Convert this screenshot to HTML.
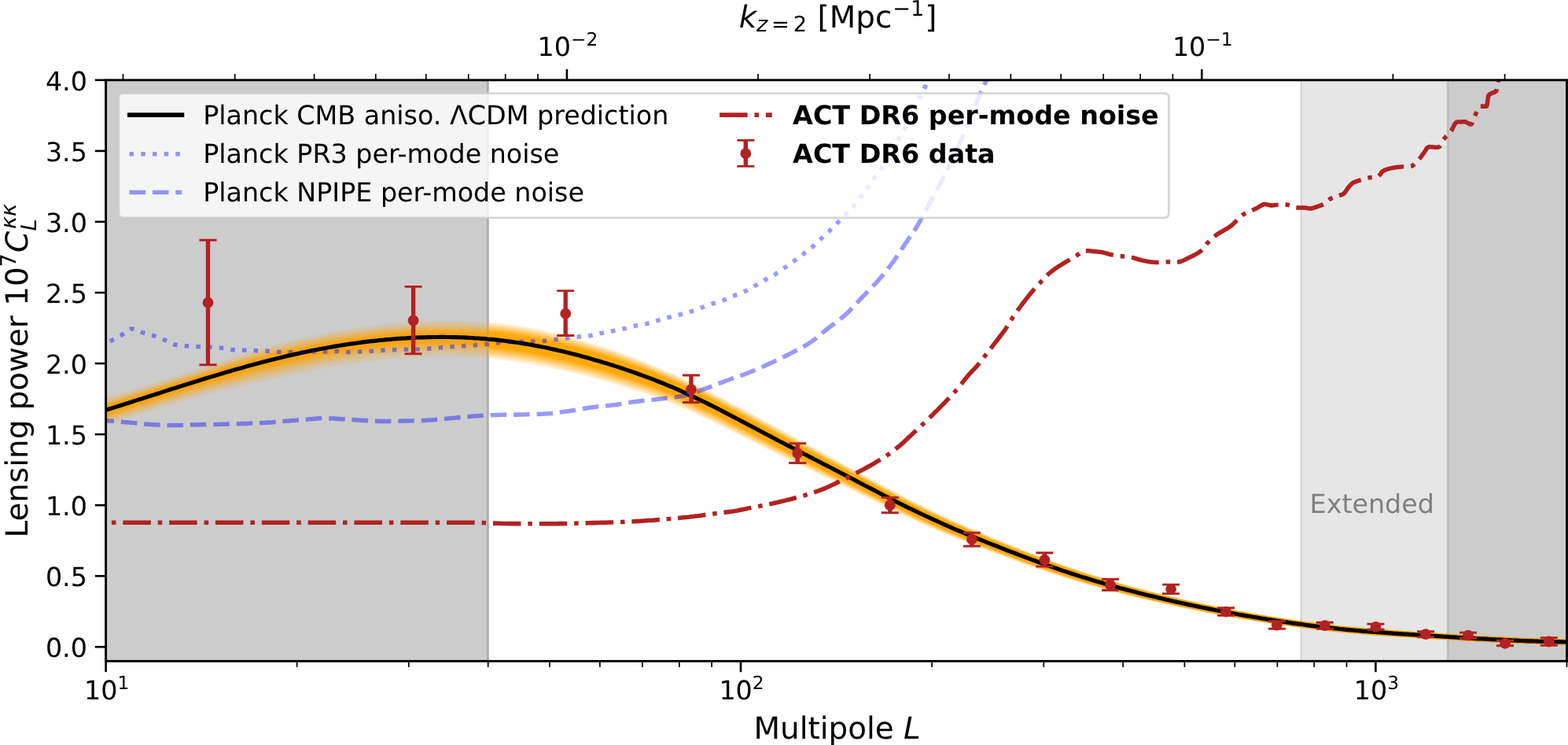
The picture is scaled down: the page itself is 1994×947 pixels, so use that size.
<!DOCTYPE html>
<html lang="en"><head><meta charset="utf-8"><title>Lensing power spectrum</title><style>html,body{margin:0;padding:0;background:#fff}body{width:1994px;height:947px;overflow:hidden}svg{display:block}</style></head><body>
<svg width="1994" height="947" viewBox="0 0 1994 947" font-family="'DejaVu Sans','Liberation Sans',sans-serif" text-rendering="geometricPrecision">
<defs><clipPath id="ax"><rect x="134.6" y="101.8" width="1857.9" height="738.6"/></clipPath></defs>
<rect width="1994" height="947" fill="#fff"/>
<g clip-path="url(#ax)">
<rect x="131.6" y="96.8" width="490.1" height="748.6" fill="#808080" fill-opacity="0.4"/>
<rect x="618.9" y="96.8" width="2.8" height="748.6" fill="#808080" fill-opacity="0.4"/>
<rect x="1653.9" y="96.8" width="187.2" height="748.6" fill="#808080" fill-opacity="0.2"/>
<rect x="1653.9" y="96.8" width="1.3" height="748.6" fill="#808080" fill-opacity="0.3"/>
<rect x="1841.0" y="96.8" width="154.5" height="748.6" fill="#808080" fill-opacity="0.4"/>
<rect x="1839.6" y="96.8" width="2.8" height="748.6" fill="#808080" fill-opacity="0.3"/>
<clipPath id="cg"><rect x="0" y="0" width="621.7" height="947"/></clipPath>
<clipPath id="cw"><rect x="621.7" y="0" width="1994" height="947"/></clipPath>
<g clip-path="url(#cg)" fill="#ffa500">
<path d="M128.0,507.3 L136.0,504.9 L144.0,502.6 L152.0,500.3 L160.0,498.0 L168.0,495.6 L176.0,493.2 L184.0,490.7 L192.0,488.3 L200.0,485.8 L208.0,483.3 L216.0,480.8 L224.0,478.3 L232.0,475.7 L240.0,473.1 L248.0,470.5 L256.0,467.8 L264.0,465.1 L272.0,462.4 L280.0,459.8 L288.0,457.1 L296.0,454.5 L304.0,451.9 L312.0,449.3 L320.0,446.8 L328.0,444.4 L336.0,442.0 L344.0,439.7 L352.0,437.5 L360.0,435.4 L368.0,433.4 L376.0,431.6 L384.0,429.8 L392.0,428.0 L400.0,426.4 L408.0,424.8 L416.0,423.2 L424.0,421.7 L432.0,420.3 L440.0,419.0 L448.0,417.7 L456.0,416.5 L464.0,415.4 L472.0,414.3 L480.0,413.3 L488.0,412.4 L496.0,411.6 L504.0,410.9 L512.0,410.2 L520.0,409.6 L528.0,409.1 L536.0,408.7 L544.0,408.3 L552.0,408.1 L560.0,408.0 L568.0,407.9 L576.0,407.9 L584.0,408.0 L592.0,408.2 L600.0,408.5 L608.0,408.9 L616.0,409.4 L624.0,410.0 L632.0,410.7 L640.0,411.6 L648.0,412.6 L656.0,413.7 L664.0,415.0 L672.0,416.3 L680.0,417.9 L688.0,419.5 L696.0,421.2 L704.0,423.1 L712.0,425.0 L720.0,427.1 L728.0,429.2 L736.0,431.4 L744.0,433.8 L752.0,436.2 L760.0,438.6 L768.0,441.2 L776.0,443.8 L784.0,446.6 L792.0,449.5 L800.0,452.4 L808.0,455.5 L816.0,458.7 L824.0,461.9 L832.0,465.2 L840.0,468.5 L848.0,471.9 L856.0,475.4 L864.0,479.0 L872.0,482.7 L880.0,486.5 L888.0,490.4 L896.0,494.4 L904.0,498.5 L912.0,502.6 L920.0,506.8 L928.0,511.0 L936.0,515.2 L944.0,519.5 L952.0,523.8 L960.0,528.2 L968.0,532.5 L976.0,536.9 L984.0,541.2 L992.0,545.6 L1000.0,549.9 L1008.0,554.3 L1016.0,558.7 L1024.0,563.1 L1032.0,567.5 L1040.0,571.8 L1048.0,576.2 L1056.0,580.6 L1064.0,585.0 L1072.0,589.4 L1080.0,593.8 L1088.0,598.1 L1096.0,602.5 L1104.0,606.9 L1112.0,611.3 L1120.0,615.6 L1128.0,619.9 L1136.0,624.1 L1144.0,628.4 L1152.0,632.5 L1160.0,636.6 L1168.0,640.6 L1176.0,644.6 L1184.0,648.4 L1192.0,652.2 L1200.0,656.0 L1208.0,659.6 L1216.0,663.3 L1224.0,666.8 L1232.0,670.3 L1240.0,673.7 L1248.0,677.1 L1256.0,680.5 L1264.0,683.8 L1272.0,687.1 L1280.0,690.4 L1288.0,693.6 L1296.0,696.8 L1304.0,699.9 L1312.0,703.1 L1320.0,706.1 L1328.0,709.2 L1336.0,712.1 L1344.0,715.1 L1352.0,717.9 L1360.0,720.7 L1368.0,723.5 L1376.0,726.1 L1384.0,728.7 L1392.0,731.3 L1400.0,733.8 L1408.0,736.2 L1416.0,738.6 L1424.0,740.9 L1432.0,743.2 L1440.0,745.4 L1448.0,747.6 L1456.0,749.7 L1464.0,751.8 L1472.0,753.8 L1480.0,755.8 L1488.0,757.7 L1496.0,759.6 L1504.0,761.5 L1512.0,763.3 L1520.0,765.0 L1528.0,766.8 L1536.0,768.5 L1544.0,770.1 L1552.0,771.7 L1560.0,773.3 L1568.0,774.8 L1576.0,776.3 L1584.0,777.8 L1592.0,779.2 L1600.0,780.6 L1608.0,781.9 L1616.0,783.3 L1624.0,784.5 L1632.0,785.8 L1640.0,787.0 L1648.0,788.2 L1656.0,789.3 L1664.0,790.4 L1672.0,791.4 L1680.0,792.4 L1688.0,793.4 L1696.0,794.3 L1704.0,795.2 L1712.0,796.0 L1720.0,796.8 L1728.0,797.5 L1736.0,798.2 L1744.0,798.9 L1752.0,799.5 L1760.0,800.1 L1768.0,800.7 L1776.0,801.3 L1784.0,801.8 L1792.0,802.3 L1800.0,802.9 L1808.0,803.4 L1816.0,804.0 L1824.0,804.5 L1832.0,805.0 L1840.0,805.5 L1848.0,806.0 L1856.0,806.5 L1864.0,807.0 L1872.0,807.5 L1880.0,808.0 L1888.0,808.4 L1896.0,808.8 L1904.0,809.2 L1912.0,809.6 L1920.0,810.0 L1928.0,810.4 L1936.0,810.7 L1944.0,811.0 L1952.0,811.3 L1960.0,811.6 L1968.0,811.8 L1976.0,812.0 L1984.0,812.2 L1992.0,812.4 L1992.0,819.8 L1984.0,819.6 L1976.0,819.4 L1968.0,819.2 L1960.0,819.0 L1952.0,818.8 L1944.0,818.5 L1936.0,818.2 L1928.0,817.9 L1920.0,817.5 L1912.0,817.2 L1904.0,816.8 L1896.0,816.4 L1888.0,816.0 L1880.0,815.6 L1872.0,815.2 L1864.0,814.8 L1856.0,814.3 L1848.0,813.9 L1840.0,813.4 L1832.0,812.9 L1824.0,812.5 L1816.0,812.0 L1808.0,811.5 L1800.0,811.0 L1792.0,810.5 L1784.0,810.0 L1776.0,809.5 L1768.0,809.0 L1760.0,808.5 L1752.0,807.9 L1744.0,807.4 L1736.0,806.8 L1728.0,806.1 L1720.0,805.5 L1712.0,804.7 L1704.0,804.0 L1696.0,803.1 L1688.0,802.3 L1680.0,801.4 L1672.0,800.4 L1664.0,799.5 L1656.0,798.5 L1648.0,797.4 L1640.0,796.3 L1632.0,795.2 L1624.0,794.0 L1616.0,792.9 L1608.0,791.6 L1600.0,790.4 L1592.0,789.1 L1584.0,787.8 L1576.0,786.4 L1568.0,785.1 L1560.0,783.6 L1552.0,782.2 L1544.0,780.7 L1536.0,779.2 L1528.0,777.6 L1520.0,776.1 L1512.0,774.4 L1504.0,772.8 L1496.0,771.1 L1488.0,769.4 L1480.0,767.7 L1472.0,765.9 L1464.0,764.1 L1456.0,762.2 L1448.0,760.4 L1440.0,758.4 L1432.0,756.5 L1424.0,754.5 L1416.0,752.4 L1408.0,750.3 L1400.0,748.2 L1392.0,745.9 L1384.0,743.7 L1376.0,741.3 L1368.0,739.0 L1360.0,736.5 L1352.0,734.0 L1344.0,731.4 L1336.0,728.8 L1328.0,726.1 L1320.0,723.3 L1312.0,720.5 L1304.0,717.7 L1296.0,714.8 L1288.0,711.9 L1280.0,709.0 L1272.0,706.1 L1264.0,703.1 L1256.0,700.1 L1248.0,697.0 L1240.0,694.0 L1232.0,690.8 L1224.0,687.7 L1216.0,684.4 L1208.0,681.2 L1200.0,677.8 L1192.0,674.4 L1184.0,671.0 L1176.0,667.4 L1168.0,663.8 L1160.0,660.2 L1152.0,656.5 L1144.0,652.7 L1136.0,648.9 L1128.0,645.0 L1120.0,641.1 L1112.0,637.1 L1104.0,633.2 L1096.0,629.2 L1088.0,625.2 L1080.0,621.3 L1072.0,617.4 L1064.0,613.6 L1056.0,609.8 L1048.0,606.0 L1040.0,602.1 L1032.0,598.3 L1024.0,594.5 L1016.0,590.7 L1008.0,586.9 L1000.0,583.0 L992.0,579.1 L984.0,575.1 L976.0,571.1 L968.0,567.1 L960.0,563.0 L952.0,559.0 L944.0,555.0 L936.0,550.9 L928.0,546.9 L920.0,542.9 L912.0,539.0 L904.0,535.1 L896.0,531.3 L888.0,527.5 L880.0,523.8 L872.0,520.3 L864.0,516.8 L856.0,513.5 L848.0,510.3 L840.0,507.2 L832.0,504.2 L824.0,501.4 L816.0,498.7 L808.0,496.1 L800.0,493.7 L792.0,491.2 L784.0,488.9 L776.0,486.5 L768.0,484.2 L760.0,482.0 L752.0,479.8 L744.0,477.7 L736.0,475.7 L728.0,473.7 L720.0,471.8 L712.0,470.0 L704.0,468.3 L696.0,466.6 L688.0,465.1 L680.0,463.6 L672.0,462.2 L664.0,460.9 L656.0,459.7 L648.0,458.6 L640.0,457.5 L632.0,456.6 L624.0,455.8 L616.0,455.1 L608.0,454.5 L600.0,454.0 L592.0,453.6 L584.0,453.3 L576.0,453.1 L568.0,453.0 L560.0,452.9 L552.0,453.0 L544.0,453.2 L536.0,453.5 L528.0,453.9 L520.0,454.4 L512.0,454.9 L504.0,455.5 L496.0,456.3 L488.0,457.1 L480.0,457.9 L472.0,458.9 L464.0,459.9 L456.0,461.0 L448.0,462.2 L440.0,463.4 L432.0,464.7 L424.0,466.1 L416.0,467.5 L408.0,469.0 L400.0,470.6 L392.0,472.2 L384.0,473.9 L376.0,475.6 L368.0,477.3 L360.0,479.1 L352.0,480.8 L344.0,482.6 L336.0,484.4 L328.0,486.1 L320.0,487.9 L312.0,489.7 L304.0,491.6 L296.0,493.5 L288.0,495.4 L280.0,497.3 L272.0,499.3 L264.0,501.3 L256.0,503.4 L248.0,505.6 L240.0,507.8 L232.0,510.1 L224.0,512.4 L216.0,514.9 L208.0,517.3 L200.0,519.8 L192.0,522.3 L184.0,524.8 L176.0,527.3 L168.0,529.8 L160.0,532.3 L152.0,534.8 L144.0,537.3 L136.0,539.8 L128.0,542.3Z" fill-opacity="0.141"/>
<path d="M128.0,509.9 L136.0,507.5 L144.0,505.2 L152.0,502.8 L160.0,500.4 L168.0,498.0 L176.0,495.6 L184.0,493.1 L192.0,490.6 L200.0,488.1 L208.0,485.6 L216.0,483.1 L224.0,480.6 L232.0,478.0 L240.0,475.4 L248.0,472.8 L256.0,470.2 L264.0,467.6 L272.0,464.9 L280.0,462.3 L288.0,459.7 L296.0,457.1 L304.0,454.6 L312.0,452.1 L320.0,449.7 L328.0,447.3 L336.0,445.0 L344.0,442.7 L352.0,440.6 L360.0,438.5 L368.0,436.5 L376.0,434.7 L384.0,432.9 L392.0,431.2 L400.0,429.5 L408.0,427.9 L416.0,426.4 L424.0,424.9 L432.0,423.5 L440.0,422.2 L448.0,420.9 L456.0,419.8 L464.0,418.7 L472.0,417.6 L480.0,416.7 L488.0,415.8 L496.0,415.0 L504.0,414.2 L512.0,413.6 L520.0,413.0 L528.0,412.5 L536.0,412.1 L544.0,411.8 L552.0,411.6 L560.0,411.5 L568.0,411.4 L576.0,411.5 L584.0,411.6 L592.0,411.8 L600.0,412.1 L608.0,412.5 L616.0,413.0 L624.0,413.7 L632.0,414.4 L640.0,415.3 L648.0,416.3 L656.0,417.4 L664.0,418.7 L672.0,420.1 L680.0,421.6 L688.0,423.2 L696.0,424.9 L704.0,426.7 L712.0,428.6 L720.0,430.6 L728.0,432.7 L736.0,434.9 L744.0,437.2 L752.0,439.6 L760.0,442.0 L768.0,444.5 L776.0,447.1 L784.0,449.9 L792.0,452.7 L800.0,455.6 L808.0,458.6 L816.0,461.7 L824.0,464.9 L832.0,468.1 L840.0,471.4 L848.0,474.8 L856.0,478.2 L864.0,481.8 L872.0,485.5 L880.0,489.3 L888.0,493.2 L896.0,497.2 L904.0,501.2 L912.0,505.3 L920.0,509.5 L928.0,513.7 L936.0,517.9 L944.0,522.2 L952.0,526.5 L960.0,530.8 L968.0,535.1 L976.0,539.4 L984.0,543.8 L992.0,548.1 L1000.0,552.4 L1008.0,556.7 L1016.0,561.1 L1024.0,565.4 L1032.0,569.7 L1040.0,574.1 L1048.0,578.4 L1056.0,582.7 L1064.0,587.1 L1072.0,591.4 L1080.0,595.7 L1088.0,600.1 L1096.0,604.4 L1104.0,608.7 L1112.0,613.1 L1120.0,617.4 L1128.0,621.6 L1136.0,625.8 L1144.0,630.0 L1152.0,634.1 L1160.0,638.2 L1168.0,642.2 L1176.0,646.1 L1184.0,649.9 L1192.0,653.7 L1200.0,657.4 L1208.0,661.0 L1216.0,664.6 L1224.0,668.1 L1232.0,671.6 L1240.0,675.0 L1248.0,678.4 L1256.0,681.7 L1264.0,685.0 L1272.0,688.2 L1280.0,691.5 L1288.0,694.7 L1296.0,697.8 L1304.0,701.0 L1312.0,704.1 L1320.0,707.1 L1328.0,710.1 L1336.0,713.1 L1344.0,715.9 L1352.0,718.8 L1360.0,721.5 L1368.0,724.3 L1376.0,726.9 L1384.0,729.5 L1392.0,732.0 L1400.0,734.5 L1408.0,736.9 L1416.0,739.2 L1424.0,741.5 L1432.0,743.8 L1440.0,746.0 L1448.0,748.1 L1456.0,750.2 L1464.0,752.3 L1472.0,754.3 L1480.0,756.2 L1488.0,758.2 L1496.0,760.0 L1504.0,761.9 L1512.0,763.7 L1520.0,765.4 L1528.0,767.1 L1536.0,768.8 L1544.0,770.4 L1552.0,772.0 L1560.0,773.6 L1568.0,775.1 L1576.0,776.6 L1584.0,778.0 L1592.0,779.5 L1600.0,780.8 L1608.0,782.2 L1616.0,783.5 L1624.0,784.8 L1632.0,786.0 L1640.0,787.2 L1648.0,788.4 L1656.0,789.5 L1664.0,790.6 L1672.0,791.6 L1680.0,792.6 L1688.0,793.6 L1696.0,794.5 L1704.0,795.3 L1712.0,796.2 L1720.0,796.9 L1728.0,797.7 L1736.0,798.4 L1744.0,799.0 L1752.0,799.6 L1760.0,800.2 L1768.0,800.8 L1776.0,801.4 L1784.0,801.9 L1792.0,802.5 L1800.0,803.0 L1808.0,803.5 L1816.0,804.1 L1824.0,804.6 L1832.0,805.1 L1840.0,805.6 L1848.0,806.1 L1856.0,806.6 L1864.0,807.1 L1872.0,807.6 L1880.0,808.0 L1888.0,808.5 L1896.0,808.9 L1904.0,809.3 L1912.0,809.7 L1920.0,810.1 L1928.0,810.4 L1936.0,810.8 L1944.0,811.1 L1952.0,811.4 L1960.0,811.6 L1968.0,811.9 L1976.0,812.1 L1984.0,812.3 L1992.0,812.4 L1992.0,819.7 L1984.0,819.6 L1976.0,819.4 L1968.0,819.2 L1960.0,819.0 L1952.0,818.7 L1944.0,818.4 L1936.0,818.1 L1928.0,817.8 L1920.0,817.5 L1912.0,817.1 L1904.0,816.8 L1896.0,816.4 L1888.0,816.0 L1880.0,815.6 L1872.0,815.1 L1864.0,814.7 L1856.0,814.2 L1848.0,813.8 L1840.0,813.3 L1832.0,812.8 L1824.0,812.3 L1816.0,811.9 L1808.0,811.4 L1800.0,810.9 L1792.0,810.4 L1784.0,809.9 L1776.0,809.4 L1768.0,808.9 L1760.0,808.3 L1752.0,807.8 L1744.0,807.2 L1736.0,806.6 L1728.0,806.0 L1720.0,805.3 L1712.0,804.5 L1704.0,803.8 L1696.0,802.9 L1688.0,802.1 L1680.0,801.2 L1672.0,800.2 L1664.0,799.2 L1656.0,798.2 L1648.0,797.1 L1640.0,796.0 L1632.0,794.9 L1624.0,793.8 L1616.0,792.6 L1608.0,791.3 L1600.0,790.1 L1592.0,788.8 L1584.0,787.4 L1576.0,786.1 L1568.0,784.7 L1560.0,783.3 L1552.0,781.8 L1544.0,780.3 L1536.0,778.8 L1528.0,777.2 L1520.0,775.6 L1512.0,774.0 L1504.0,772.3 L1496.0,770.6 L1488.0,768.9 L1480.0,767.1 L1472.0,765.3 L1464.0,763.5 L1456.0,761.6 L1448.0,759.7 L1440.0,757.7 L1432.0,755.8 L1424.0,753.7 L1416.0,751.6 L1408.0,749.5 L1400.0,747.3 L1392.0,745.1 L1384.0,742.8 L1376.0,740.4 L1368.0,738.0 L1360.0,735.5 L1352.0,733.0 L1344.0,730.4 L1336.0,727.7 L1328.0,725.0 L1320.0,722.2 L1312.0,719.4 L1304.0,716.5 L1296.0,713.6 L1288.0,710.7 L1280.0,707.7 L1272.0,704.7 L1264.0,701.7 L1256.0,698.7 L1248.0,695.6 L1240.0,692.5 L1232.0,689.3 L1224.0,686.1 L1216.0,682.8 L1208.0,679.5 L1200.0,676.2 L1192.0,672.7 L1184.0,669.2 L1176.0,665.7 L1168.0,662.0 L1160.0,658.3 L1152.0,654.6 L1144.0,650.7 L1136.0,646.9 L1128.0,643.0 L1120.0,639.0 L1112.0,635.0 L1104.0,631.0 L1096.0,627.0 L1088.0,623.0 L1080.0,619.0 L1072.0,615.1 L1064.0,611.2 L1056.0,607.3 L1048.0,603.4 L1040.0,599.5 L1032.0,595.7 L1024.0,591.8 L1016.0,587.9 L1008.0,584.0 L1000.0,580.1 L992.0,576.1 L984.0,572.1 L976.0,568.0 L968.0,564.0 L960.0,559.9 L952.0,555.8 L944.0,551.7 L936.0,547.6 L928.0,543.6 L920.0,539.6 L912.0,535.6 L904.0,531.7 L896.0,527.8 L888.0,524.0 L880.0,520.3 L872.0,516.7 L864.0,513.2 L856.0,509.9 L848.0,506.7 L840.0,503.5 L832.0,500.5 L824.0,497.7 L816.0,494.9 L808.0,492.3 L800.0,489.7 L792.0,487.3 L784.0,484.8 L776.0,482.5 L768.0,480.1 L760.0,477.9 L752.0,475.7 L744.0,473.5 L736.0,471.5 L728.0,469.5 L720.0,467.6 L712.0,465.7 L704.0,464.0 L696.0,462.3 L688.0,460.7 L680.0,459.3 L672.0,457.9 L664.0,456.5 L656.0,455.3 L648.0,454.2 L640.0,453.2 L632.0,452.3 L624.0,451.5 L616.0,450.7 L608.0,450.1 L600.0,449.6 L592.0,449.2 L584.0,448.9 L576.0,448.7 L568.0,448.6 L560.0,448.6 L552.0,448.7 L544.0,448.9 L536.0,449.1 L528.0,449.5 L520.0,449.9 L512.0,450.5 L504.0,451.1 L496.0,451.8 L488.0,452.6 L480.0,453.5 L472.0,454.4 L464.0,455.4 L456.0,456.5 L448.0,457.7 L440.0,458.9 L432.0,460.2 L424.0,461.5 L416.0,463.0 L408.0,464.5 L400.0,466.0 L392.0,467.6 L384.0,469.3 L376.0,471.0 L368.0,472.8 L360.0,474.6 L352.0,476.4 L344.0,478.2 L336.0,480.0 L328.0,481.8 L320.0,483.7 L312.0,485.6 L304.0,487.5 L296.0,489.5 L288.0,491.5 L280.0,493.5 L272.0,495.6 L264.0,497.7 L256.0,499.9 L248.0,502.1 L240.0,504.4 L232.0,506.7 L224.0,509.1 L216.0,511.5 L208.0,514.0 L200.0,516.5 L192.0,519.0 L184.0,521.5 L176.0,524.0 L168.0,526.5 L160.0,529.1 L152.0,531.6 L144.0,534.1 L136.0,536.6 L128.0,539.1Z" fill-opacity="0.141"/>
<path d="M128.0,511.6 L136.0,509.1 L144.0,506.8 L152.0,504.4 L160.0,502.0 L168.0,499.5 L176.0,497.1 L184.0,494.6 L192.0,492.1 L200.0,489.6 L208.0,487.1 L216.0,484.6 L224.0,482.1 L232.0,479.5 L240.0,476.9 L248.0,474.3 L256.0,471.7 L264.0,469.1 L272.0,466.5 L280.0,463.9 L288.0,461.4 L296.0,458.8 L304.0,456.3 L312.0,453.9 L320.0,451.5 L328.0,449.1 L336.0,446.9 L344.0,444.7 L352.0,442.5 L360.0,440.5 L368.0,438.5 L376.0,436.7 L384.0,434.9 L392.0,433.2 L400.0,431.5 L408.0,429.9 L416.0,428.4 L424.0,427.0 L432.0,425.6 L440.0,424.3 L448.0,423.0 L456.0,421.9 L464.0,420.8 L472.0,419.7 L480.0,418.8 L488.0,417.9 L496.0,417.1 L504.0,416.4 L512.0,415.8 L520.0,415.2 L528.0,414.8 L536.0,414.4 L544.0,414.1 L552.0,413.9 L560.0,413.7 L568.0,413.7 L576.0,413.8 L584.0,413.9 L592.0,414.1 L600.0,414.5 L608.0,414.9 L616.0,415.4 L624.0,416.1 L632.0,416.8 L640.0,417.7 L648.0,418.7 L656.0,419.8 L664.0,421.1 L672.0,422.4 L680.0,423.9 L688.0,425.5 L696.0,427.2 L704.0,429.0 L712.0,430.9 L720.0,432.9 L728.0,435.0 L736.0,437.2 L744.0,439.5 L752.0,441.8 L760.0,444.2 L768.0,446.7 L776.0,449.3 L784.0,452.0 L792.0,454.8 L800.0,457.7 L808.0,460.6 L816.0,463.7 L824.0,466.8 L832.0,470.0 L840.0,473.3 L848.0,476.6 L856.0,480.1 L864.0,483.6 L872.0,487.3 L880.0,491.1 L888.0,495.0 L896.0,499.0 L904.0,503.0 L912.0,507.1 L920.0,511.2 L928.0,515.4 L936.0,519.6 L944.0,523.9 L952.0,528.2 L960.0,532.5 L968.0,536.8 L976.0,541.1 L984.0,545.4 L992.0,549.7 L1000.0,554.0 L1008.0,558.3 L1016.0,562.6 L1024.0,566.9 L1032.0,571.2 L1040.0,575.5 L1048.0,579.8 L1056.0,584.1 L1064.0,588.4 L1072.0,592.7 L1080.0,597.0 L1088.0,601.3 L1096.0,605.6 L1104.0,609.9 L1112.0,614.2 L1120.0,618.5 L1128.0,622.7 L1136.0,626.9 L1144.0,631.1 L1152.0,635.2 L1160.0,639.2 L1168.0,643.2 L1176.0,647.1 L1184.0,650.9 L1192.0,654.6 L1200.0,658.3 L1208.0,661.9 L1216.0,665.5 L1224.0,669.0 L1232.0,672.4 L1240.0,675.8 L1248.0,679.2 L1256.0,682.5 L1264.0,685.7 L1272.0,689.0 L1280.0,692.2 L1288.0,695.4 L1296.0,698.5 L1304.0,701.6 L1312.0,704.7 L1320.0,707.7 L1328.0,710.7 L1336.0,713.6 L1344.0,716.5 L1352.0,719.3 L1360.0,722.1 L1368.0,724.8 L1376.0,727.4 L1384.0,730.0 L1392.0,732.5 L1400.0,734.9 L1408.0,737.3 L1416.0,739.6 L1424.0,741.9 L1432.0,744.2 L1440.0,746.3 L1448.0,748.5 L1456.0,750.6 L1464.0,752.6 L1472.0,754.6 L1480.0,756.5 L1488.0,758.4 L1496.0,760.3 L1504.0,762.1 L1512.0,763.9 L1520.0,765.6 L1528.0,767.3 L1536.0,769.0 L1544.0,770.6 L1552.0,772.2 L1560.0,773.8 L1568.0,775.3 L1576.0,776.8 L1584.0,778.2 L1592.0,779.6 L1600.0,781.0 L1608.0,782.3 L1616.0,783.6 L1624.0,784.9 L1632.0,786.1 L1640.0,787.3 L1648.0,788.5 L1656.0,789.6 L1664.0,790.7 L1672.0,791.7 L1680.0,792.7 L1688.0,793.7 L1696.0,794.6 L1704.0,795.5 L1712.0,796.3 L1720.0,797.0 L1728.0,797.8 L1736.0,798.5 L1744.0,799.1 L1752.0,799.7 L1760.0,800.3 L1768.0,800.9 L1776.0,801.5 L1784.0,802.0 L1792.0,802.5 L1800.0,803.1 L1808.0,803.6 L1816.0,804.1 L1824.0,804.6 L1832.0,805.2 L1840.0,805.7 L1848.0,806.2 L1856.0,806.7 L1864.0,807.1 L1872.0,807.6 L1880.0,808.1 L1888.0,808.5 L1896.0,808.9 L1904.0,809.3 L1912.0,809.7 L1920.0,810.1 L1928.0,810.5 L1936.0,810.8 L1944.0,811.1 L1952.0,811.4 L1960.0,811.7 L1968.0,811.9 L1976.0,812.1 L1984.0,812.3 L1992.0,812.4 L1992.0,819.7 L1984.0,819.5 L1976.0,819.4 L1968.0,819.2 L1960.0,818.9 L1952.0,818.7 L1944.0,818.4 L1936.0,818.1 L1928.0,817.8 L1920.0,817.5 L1912.0,817.1 L1904.0,816.7 L1896.0,816.3 L1888.0,815.9 L1880.0,815.5 L1872.0,815.1 L1864.0,814.6 L1856.0,814.2 L1848.0,813.7 L1840.0,813.2 L1832.0,812.8 L1824.0,812.3 L1816.0,811.8 L1808.0,811.3 L1800.0,810.8 L1792.0,810.3 L1784.0,809.8 L1776.0,809.3 L1768.0,808.8 L1760.0,808.2 L1752.0,807.7 L1744.0,807.1 L1736.0,806.5 L1728.0,805.8 L1720.0,805.1 L1712.0,804.4 L1704.0,803.6 L1696.0,802.8 L1688.0,801.9 L1680.0,801.0 L1672.0,800.1 L1664.0,799.1 L1656.0,798.0 L1648.0,797.0 L1640.0,795.9 L1632.0,794.7 L1624.0,793.6 L1616.0,792.4 L1608.0,791.1 L1600.0,789.9 L1592.0,788.5 L1584.0,787.2 L1576.0,785.8 L1568.0,784.4 L1560.0,783.0 L1552.0,781.5 L1544.0,780.0 L1536.0,778.5 L1528.0,776.9 L1520.0,775.3 L1512.0,773.6 L1504.0,772.0 L1496.0,770.3 L1488.0,768.5 L1480.0,766.7 L1472.0,764.9 L1464.0,763.1 L1456.0,761.2 L1448.0,759.3 L1440.0,757.3 L1432.0,755.3 L1424.0,753.2 L1416.0,751.1 L1408.0,749.0 L1400.0,746.8 L1392.0,744.5 L1384.0,742.2 L1376.0,739.8 L1368.0,737.4 L1360.0,734.9 L1352.0,732.3 L1344.0,729.7 L1336.0,727.0 L1328.0,724.2 L1320.0,721.4 L1312.0,718.6 L1304.0,715.7 L1296.0,712.8 L1288.0,709.9 L1280.0,706.9 L1272.0,703.9 L1264.0,700.8 L1256.0,697.8 L1248.0,694.7 L1240.0,691.5 L1232.0,688.3 L1224.0,685.1 L1216.0,681.8 L1208.0,678.5 L1200.0,675.1 L1192.0,671.6 L1184.0,668.1 L1176.0,664.5 L1168.0,660.9 L1160.0,657.1 L1152.0,653.3 L1144.0,649.5 L1136.0,645.6 L1128.0,641.7 L1120.0,637.7 L1112.0,633.7 L1104.0,629.6 L1096.0,625.6 L1088.0,621.5 L1080.0,617.5 L1072.0,613.6 L1064.0,609.6 L1056.0,605.7 L1048.0,601.8 L1040.0,597.8 L1032.0,593.9 L1024.0,590.0 L1016.0,586.1 L1008.0,582.1 L1000.0,578.2 L992.0,574.2 L984.0,570.1 L976.0,566.1 L968.0,562.0 L960.0,557.9 L952.0,553.7 L944.0,549.6 L936.0,545.5 L928.0,541.5 L920.0,537.4 L912.0,533.5 L904.0,529.5 L896.0,525.6 L888.0,521.8 L880.0,518.1 L872.0,514.5 L864.0,511.0 L856.0,507.6 L848.0,504.3 L840.0,501.2 L832.0,498.2 L824.0,495.3 L816.0,492.5 L808.0,489.8 L800.0,487.2 L792.0,484.7 L784.0,482.2 L776.0,479.8 L768.0,477.5 L760.0,475.2 L752.0,473.0 L744.0,470.8 L736.0,468.7 L728.0,466.7 L720.0,464.8 L712.0,463.0 L704.0,461.2 L696.0,459.6 L688.0,458.0 L680.0,456.5 L672.0,455.1 L664.0,453.7 L656.0,452.5 L648.0,451.4 L640.0,450.4 L632.0,449.5 L624.0,448.7 L616.0,447.9 L608.0,447.3 L600.0,446.8 L592.0,446.4 L584.0,446.1 L576.0,445.9 L568.0,445.8 L560.0,445.8 L552.0,445.9 L544.0,446.0 L536.0,446.3 L528.0,446.7 L520.0,447.1 L512.0,447.6 L504.0,448.3 L496.0,449.0 L488.0,449.7 L480.0,450.6 L472.0,451.5 L464.0,452.5 L456.0,453.6 L448.0,454.7 L440.0,456.0 L432.0,457.3 L424.0,458.6 L416.0,460.0 L408.0,461.5 L400.0,463.1 L392.0,464.7 L384.0,466.4 L376.0,468.1 L368.0,469.9 L360.0,471.7 L352.0,473.5 L344.0,475.3 L336.0,477.2 L328.0,479.1 L320.0,481.0 L312.0,482.9 L304.0,484.9 L296.0,486.9 L288.0,489.0 L280.0,491.1 L272.0,493.2 L264.0,495.4 L256.0,497.6 L248.0,499.8 L240.0,502.2 L232.0,504.5 L224.0,506.9 L216.0,509.4 L208.0,511.9 L200.0,514.4 L192.0,516.9 L184.0,519.4 L176.0,522.0 L168.0,524.5 L160.0,527.0 L152.0,529.5 L144.0,532.0 L136.0,534.5 L128.0,537.0Z" fill-opacity="0.141"/>
<path d="M128.0,512.9 L136.0,510.4 L144.0,508.1 L152.0,505.7 L160.0,503.2 L168.0,500.8 L176.0,498.3 L184.0,495.8 L192.0,493.3 L200.0,490.8 L208.0,488.3 L216.0,485.7 L224.0,483.2 L232.0,480.6 L240.0,478.1 L248.0,475.5 L256.0,472.9 L264.0,470.3 L272.0,467.8 L280.0,465.2 L288.0,462.7 L296.0,460.2 L304.0,457.7 L312.0,455.3 L320.0,452.9 L328.0,450.6 L336.0,448.4 L344.0,446.2 L352.0,444.1 L360.0,442.0 L368.0,440.1 L376.0,438.2 L384.0,436.5 L392.0,434.8 L400.0,433.1 L408.0,431.5 L416.0,430.0 L424.0,428.6 L432.0,427.2 L440.0,425.9 L448.0,424.7 L456.0,423.5 L464.0,422.4 L472.0,421.4 L480.0,420.5 L488.0,419.6 L496.0,418.8 L504.0,418.1 L512.0,417.5 L520.0,417.0 L528.0,416.5 L536.0,416.1 L544.0,415.8 L552.0,415.6 L560.0,415.5 L568.0,415.5 L576.0,415.6 L584.0,415.7 L592.0,416.0 L600.0,416.3 L608.0,416.7 L616.0,417.3 L624.0,417.9 L632.0,418.7 L640.0,419.6 L648.0,420.6 L656.0,421.7 L664.0,422.9 L672.0,424.3 L680.0,425.8 L688.0,427.4 L696.0,429.1 L704.0,430.9 L712.0,432.7 L720.0,434.7 L728.0,436.8 L736.0,439.0 L744.0,441.2 L752.0,443.5 L760.0,445.9 L768.0,448.4 L776.0,451.0 L784.0,453.6 L792.0,456.4 L800.0,459.3 L808.0,462.2 L816.0,465.2 L824.0,468.3 L832.0,471.5 L840.0,474.7 L848.0,478.1 L856.0,481.5 L864.0,485.1 L872.0,488.7 L880.0,492.5 L888.0,496.4 L896.0,500.3 L904.0,504.4 L912.0,508.5 L920.0,512.6 L928.0,516.8 L936.0,521.0 L944.0,525.2 L952.0,529.5 L960.0,533.8 L968.0,538.1 L976.0,542.4 L984.0,546.7 L992.0,551.0 L1000.0,555.2 L1008.0,559.5 L1016.0,563.8 L1024.0,568.1 L1032.0,572.3 L1040.0,576.6 L1048.0,580.9 L1056.0,585.1 L1064.0,589.4 L1072.0,593.7 L1080.0,598.0 L1088.0,602.3 L1096.0,606.5 L1104.0,610.8 L1112.0,615.1 L1120.0,619.4 L1128.0,623.6 L1136.0,627.8 L1144.0,631.9 L1152.0,636.0 L1160.0,640.0 L1168.0,643.9 L1176.0,647.8 L1184.0,651.6 L1192.0,655.4 L1200.0,659.0 L1208.0,662.6 L1216.0,666.2 L1224.0,669.6 L1232.0,673.1 L1240.0,676.5 L1248.0,679.8 L1256.0,683.1 L1264.0,686.3 L1272.0,689.6 L1280.0,692.7 L1288.0,695.9 L1296.0,699.0 L1304.0,702.1 L1312.0,705.2 L1320.0,708.2 L1328.0,711.2 L1336.0,714.1 L1344.0,717.0 L1352.0,719.8 L1360.0,722.5 L1368.0,725.2 L1376.0,727.8 L1384.0,730.3 L1392.0,732.8 L1400.0,735.3 L1408.0,737.6 L1416.0,740.0 L1424.0,742.2 L1432.0,744.5 L1440.0,746.6 L1448.0,748.7 L1456.0,750.8 L1464.0,752.8 L1472.0,754.8 L1480.0,756.8 L1488.0,758.7 L1496.0,760.5 L1504.0,762.3 L1512.0,764.1 L1520.0,765.8 L1528.0,767.5 L1536.0,769.2 L1544.0,770.8 L1552.0,772.4 L1560.0,773.9 L1568.0,775.4 L1576.0,776.9 L1584.0,778.4 L1592.0,779.8 L1600.0,781.1 L1608.0,782.5 L1616.0,783.8 L1624.0,785.0 L1632.0,786.3 L1640.0,787.4 L1648.0,788.6 L1656.0,789.7 L1664.0,790.8 L1672.0,791.8 L1680.0,792.8 L1688.0,793.8 L1696.0,794.7 L1704.0,795.5 L1712.0,796.4 L1720.0,797.1 L1728.0,797.9 L1736.0,798.5 L1744.0,799.2 L1752.0,799.8 L1760.0,800.4 L1768.0,801.0 L1776.0,801.5 L1784.0,802.0 L1792.0,802.6 L1800.0,803.1 L1808.0,803.6 L1816.0,804.2 L1824.0,804.7 L1832.0,805.2 L1840.0,805.7 L1848.0,806.2 L1856.0,806.7 L1864.0,807.2 L1872.0,807.6 L1880.0,808.1 L1888.0,808.5 L1896.0,809.0 L1904.0,809.4 L1912.0,809.8 L1920.0,810.1 L1928.0,810.5 L1936.0,810.8 L1944.0,811.1 L1952.0,811.4 L1960.0,811.7 L1968.0,811.9 L1976.0,812.1 L1984.0,812.3 L1992.0,812.4 L1992.0,819.7 L1984.0,819.5 L1976.0,819.3 L1968.0,819.1 L1960.0,818.9 L1952.0,818.7 L1944.0,818.4 L1936.0,818.1 L1928.0,817.8 L1920.0,817.4 L1912.0,817.1 L1904.0,816.7 L1896.0,816.3 L1888.0,815.9 L1880.0,815.5 L1872.0,815.0 L1864.0,814.6 L1856.0,814.1 L1848.0,813.7 L1840.0,813.2 L1832.0,812.7 L1824.0,812.2 L1816.0,811.7 L1808.0,811.2 L1800.0,810.7 L1792.0,810.2 L1784.0,809.7 L1776.0,809.2 L1768.0,808.7 L1760.0,808.2 L1752.0,807.6 L1744.0,807.0 L1736.0,806.4 L1728.0,805.7 L1720.0,805.0 L1712.0,804.3 L1704.0,803.5 L1696.0,802.7 L1688.0,801.8 L1680.0,800.9 L1672.0,799.9 L1664.0,798.9 L1656.0,797.9 L1648.0,796.8 L1640.0,795.7 L1632.0,794.6 L1624.0,793.4 L1616.0,792.2 L1608.0,791.0 L1600.0,789.7 L1592.0,788.4 L1584.0,787.0 L1576.0,785.7 L1568.0,784.2 L1560.0,782.8 L1552.0,781.3 L1544.0,779.8 L1536.0,778.3 L1528.0,776.7 L1520.0,775.1 L1512.0,773.4 L1504.0,771.7 L1496.0,770.0 L1488.0,768.2 L1480.0,766.5 L1472.0,764.6 L1464.0,762.8 L1456.0,760.9 L1448.0,758.9 L1440.0,757.0 L1432.0,754.9 L1424.0,752.9 L1416.0,750.7 L1408.0,748.6 L1400.0,746.4 L1392.0,744.1 L1384.0,741.7 L1376.0,739.3 L1368.0,736.9 L1360.0,734.4 L1352.0,731.8 L1344.0,729.1 L1336.0,726.4 L1328.0,723.7 L1320.0,720.9 L1312.0,718.0 L1304.0,715.1 L1296.0,712.2 L1288.0,709.2 L1280.0,706.2 L1272.0,703.2 L1264.0,700.1 L1256.0,697.1 L1248.0,693.9 L1240.0,690.8 L1232.0,687.6 L1224.0,684.3 L1216.0,681.0 L1208.0,677.7 L1200.0,674.3 L1192.0,670.8 L1184.0,667.2 L1176.0,663.6 L1168.0,659.9 L1160.0,656.2 L1152.0,652.4 L1144.0,648.5 L1136.0,644.6 L1128.0,640.6 L1120.0,636.6 L1112.0,632.6 L1104.0,628.5 L1096.0,624.5 L1088.0,620.4 L1080.0,616.4 L1072.0,612.4 L1064.0,608.4 L1056.0,604.4 L1048.0,600.5 L1040.0,596.5 L1032.0,592.6 L1024.0,588.6 L1016.0,584.7 L1008.0,580.7 L1000.0,576.7 L992.0,572.7 L984.0,568.6 L976.0,564.5 L968.0,560.4 L960.0,556.3 L952.0,552.1 L944.0,548.0 L936.0,543.9 L928.0,539.8 L920.0,535.8 L912.0,531.8 L904.0,527.8 L896.0,523.9 L888.0,520.1 L880.0,516.3 L872.0,512.7 L864.0,509.2 L856.0,505.8 L848.0,502.5 L840.0,499.3 L832.0,496.3 L824.0,493.4 L816.0,490.6 L808.0,487.9 L800.0,485.2 L792.0,482.7 L784.0,480.2 L776.0,477.8 L768.0,475.4 L760.0,473.1 L752.0,470.9 L744.0,468.7 L736.0,466.6 L728.0,464.6 L720.0,462.7 L712.0,460.8 L704.0,459.1 L696.0,457.4 L688.0,455.8 L680.0,454.3 L672.0,452.9 L664.0,451.6 L656.0,450.3 L648.0,449.2 L640.0,448.2 L632.0,447.3 L624.0,446.5 L616.0,445.8 L608.0,445.1 L600.0,444.6 L592.0,444.2 L584.0,443.9 L576.0,443.7 L568.0,443.6 L560.0,443.6 L552.0,443.7 L544.0,443.8 L536.0,444.1 L528.0,444.5 L520.0,444.9 L512.0,445.4 L504.0,446.0 L496.0,446.7 L488.0,447.5 L480.0,448.3 L472.0,449.2 L464.0,450.2 L456.0,451.3 L448.0,452.5 L440.0,453.7 L432.0,455.0 L424.0,456.3 L416.0,457.7 L408.0,459.2 L400.0,460.8 L392.0,462.4 L384.0,464.0 L376.0,465.8 L368.0,467.6 L360.0,469.4 L352.0,471.2 L344.0,473.1 L336.0,475.0 L328.0,476.9 L320.0,478.8 L312.0,480.8 L304.0,482.9 L296.0,484.9 L288.0,487.0 L280.0,489.1 L272.0,491.3 L264.0,493.5 L256.0,495.8 L248.0,498.1 L240.0,500.4 L232.0,502.8 L224.0,505.2 L216.0,507.7 L208.0,510.2 L200.0,512.8 L192.0,515.3 L184.0,517.8 L176.0,520.3 L168.0,522.8 L160.0,525.4 L152.0,527.9 L144.0,530.4 L136.0,532.9 L128.0,535.4Z" fill-opacity="0.141"/>
<path d="M128.0,514.0 L136.0,511.5 L144.0,509.1 L152.0,506.7 L160.0,504.2 L168.0,501.8 L176.0,499.3 L184.0,496.8 L192.0,494.2 L200.0,491.7 L208.0,489.2 L216.0,486.7 L224.0,484.1 L232.0,481.6 L240.0,479.0 L248.0,476.5 L256.0,473.9 L264.0,471.3 L272.0,468.8 L280.0,466.2 L288.0,463.7 L296.0,461.3 L304.0,458.8 L312.0,456.4 L320.0,454.1 L328.0,451.8 L336.0,449.6 L344.0,447.4 L352.0,445.3 L360.0,443.3 L368.0,441.4 L376.0,439.5 L384.0,437.8 L392.0,436.0 L400.0,434.4 L408.0,432.8 L416.0,431.3 L424.0,429.9 L432.0,428.5 L440.0,427.2 L448.0,426.0 L456.0,424.8 L464.0,423.8 L472.0,422.8 L480.0,421.8 L488.0,421.0 L496.0,420.2 L504.0,419.5 L512.0,418.9 L520.0,418.4 L528.0,417.9 L536.0,417.5 L544.0,417.3 L552.0,417.1 L560.0,417.0 L568.0,417.0 L576.0,417.0 L584.0,417.2 L592.0,417.4 L600.0,417.8 L608.0,418.2 L616.0,418.8 L624.0,419.4 L632.0,420.2 L640.0,421.1 L648.0,422.1 L656.0,423.2 L664.0,424.5 L672.0,425.8 L680.0,427.3 L688.0,428.9 L696.0,430.6 L704.0,432.3 L712.0,434.2 L720.0,436.2 L728.0,438.3 L736.0,440.4 L744.0,442.6 L752.0,444.9 L760.0,447.3 L768.0,449.8 L776.0,452.3 L784.0,455.0 L792.0,457.7 L800.0,460.6 L808.0,463.5 L816.0,466.5 L824.0,469.6 L832.0,472.7 L840.0,475.9 L848.0,479.3 L856.0,482.7 L864.0,486.2 L872.0,489.9 L880.0,493.7 L888.0,497.5 L896.0,501.5 L904.0,505.5 L912.0,509.6 L920.0,513.7 L928.0,517.9 L936.0,522.1 L944.0,526.3 L952.0,530.6 L960.0,534.9 L968.0,539.1 L976.0,543.4 L984.0,547.7 L992.0,552.0 L1000.0,556.2 L1008.0,560.5 L1016.0,564.8 L1024.0,569.0 L1032.0,573.3 L1040.0,577.5 L1048.0,581.8 L1056.0,586.0 L1064.0,590.3 L1072.0,594.5 L1080.0,598.8 L1088.0,603.0 L1096.0,607.3 L1104.0,611.6 L1112.0,615.9 L1120.0,620.1 L1128.0,624.3 L1136.0,628.5 L1144.0,632.6 L1152.0,636.6 L1160.0,640.6 L1168.0,644.6 L1176.0,648.4 L1184.0,652.2 L1192.0,655.9 L1200.0,659.6 L1208.0,663.2 L1216.0,666.7 L1224.0,670.2 L1232.0,673.6 L1240.0,677.0 L1248.0,680.3 L1256.0,683.6 L1264.0,686.8 L1272.0,690.0 L1280.0,693.2 L1288.0,696.3 L1296.0,699.5 L1304.0,702.6 L1312.0,705.6 L1320.0,708.6 L1328.0,711.6 L1336.0,714.5 L1344.0,717.3 L1352.0,720.1 L1360.0,722.8 L1368.0,725.5 L1376.0,728.1 L1384.0,730.6 L1392.0,733.1 L1400.0,735.5 L1408.0,737.9 L1416.0,740.2 L1424.0,742.5 L1432.0,744.7 L1440.0,746.8 L1448.0,749.0 L1456.0,751.0 L1464.0,753.0 L1472.0,755.0 L1480.0,756.9 L1488.0,758.8 L1496.0,760.7 L1504.0,762.5 L1512.0,764.3 L1520.0,766.0 L1528.0,767.7 L1536.0,769.3 L1544.0,770.9 L1552.0,772.5 L1560.0,774.1 L1568.0,775.6 L1576.0,777.0 L1584.0,778.5 L1592.0,779.9 L1600.0,781.2 L1608.0,782.6 L1616.0,783.9 L1624.0,785.1 L1632.0,786.3 L1640.0,787.5 L1648.0,788.7 L1656.0,789.8 L1664.0,790.9 L1672.0,791.9 L1680.0,792.9 L1688.0,793.8 L1696.0,794.7 L1704.0,795.6 L1712.0,796.4 L1720.0,797.2 L1728.0,797.9 L1736.0,798.6 L1744.0,799.2 L1752.0,799.9 L1760.0,800.4 L1768.0,801.0 L1776.0,801.6 L1784.0,802.1 L1792.0,802.6 L1800.0,803.2 L1808.0,803.7 L1816.0,804.2 L1824.0,804.7 L1832.0,805.2 L1840.0,805.7 L1848.0,806.2 L1856.0,806.7 L1864.0,807.2 L1872.0,807.7 L1880.0,808.1 L1888.0,808.6 L1896.0,809.0 L1904.0,809.4 L1912.0,809.8 L1920.0,810.2 L1928.0,810.5 L1936.0,810.8 L1944.0,811.2 L1952.0,811.4 L1960.0,811.7 L1968.0,811.9 L1976.0,812.1 L1984.0,812.3 L1992.0,812.5 L1992.0,819.7 L1984.0,819.5 L1976.0,819.3 L1968.0,819.1 L1960.0,818.9 L1952.0,818.6 L1944.0,818.4 L1936.0,818.1 L1928.0,817.7 L1920.0,817.4 L1912.0,817.0 L1904.0,816.7 L1896.0,816.3 L1888.0,815.9 L1880.0,815.4 L1872.0,815.0 L1864.0,814.6 L1856.0,814.1 L1848.0,813.6 L1840.0,813.1 L1832.0,812.7 L1824.0,812.2 L1816.0,811.7 L1808.0,811.2 L1800.0,810.7 L1792.0,810.2 L1784.0,809.7 L1776.0,809.2 L1768.0,808.6 L1760.0,808.1 L1752.0,807.5 L1744.0,806.9 L1736.0,806.3 L1728.0,805.7 L1720.0,805.0 L1712.0,804.2 L1704.0,803.4 L1696.0,802.6 L1688.0,801.7 L1680.0,800.8 L1672.0,799.8 L1664.0,798.8 L1656.0,797.8 L1648.0,796.7 L1640.0,795.6 L1632.0,794.5 L1624.0,793.3 L1616.0,792.1 L1608.0,790.8 L1600.0,789.6 L1592.0,788.2 L1584.0,786.9 L1576.0,785.5 L1568.0,784.1 L1560.0,782.6 L1552.0,781.2 L1544.0,779.6 L1536.0,778.1 L1528.0,776.5 L1520.0,774.9 L1512.0,773.2 L1504.0,771.5 L1496.0,769.8 L1488.0,768.0 L1480.0,766.2 L1472.0,764.4 L1464.0,762.5 L1456.0,760.6 L1448.0,758.7 L1440.0,756.7 L1432.0,754.6 L1424.0,752.6 L1416.0,750.4 L1408.0,748.2 L1400.0,746.0 L1392.0,743.7 L1384.0,741.4 L1376.0,739.0 L1368.0,736.5 L1360.0,734.0 L1352.0,731.4 L1344.0,728.7 L1336.0,726.0 L1328.0,723.2 L1320.0,720.4 L1312.0,717.5 L1304.0,714.6 L1296.0,711.7 L1288.0,708.7 L1280.0,705.7 L1272.0,702.6 L1264.0,699.6 L1256.0,696.5 L1248.0,693.3 L1240.0,690.2 L1232.0,687.0 L1224.0,683.7 L1216.0,680.4 L1208.0,677.0 L1200.0,673.6 L1192.0,670.1 L1184.0,666.5 L1176.0,662.9 L1168.0,659.2 L1160.0,655.4 L1152.0,651.6 L1144.0,647.7 L1136.0,643.8 L1128.0,639.8 L1120.0,635.8 L1112.0,631.7 L1104.0,627.6 L1096.0,623.6 L1088.0,619.5 L1080.0,615.4 L1072.0,611.4 L1064.0,607.4 L1056.0,603.4 L1048.0,599.4 L1040.0,595.5 L1032.0,591.5 L1024.0,587.5 L1016.0,583.5 L1008.0,579.5 L1000.0,575.5 L992.0,571.4 L984.0,567.4 L976.0,563.2 L968.0,559.1 L960.0,555.0 L952.0,550.8 L944.0,546.7 L936.0,542.6 L928.0,538.5 L920.0,534.4 L912.0,530.4 L904.0,526.4 L896.0,522.5 L888.0,518.6 L880.0,514.9 L872.0,511.2 L864.0,507.7 L856.0,504.3 L848.0,501.0 L840.0,497.8 L832.0,494.8 L824.0,491.8 L816.0,489.0 L808.0,486.3 L800.0,483.6 L792.0,481.1 L784.0,478.6 L776.0,476.1 L768.0,473.7 L760.0,471.4 L752.0,469.2 L744.0,467.0 L736.0,464.9 L728.0,462.9 L720.0,460.9 L712.0,459.1 L704.0,457.3 L696.0,455.6 L688.0,454.0 L680.0,452.5 L672.0,451.1 L664.0,449.8 L656.0,448.5 L648.0,447.4 L640.0,446.4 L632.0,445.5 L624.0,444.7 L616.0,444.0 L608.0,443.4 L600.0,442.9 L592.0,442.5 L584.0,442.1 L576.0,441.9 L568.0,441.8 L560.0,441.8 L552.0,441.9 L544.0,442.1 L536.0,442.3 L528.0,442.7 L520.0,443.1 L512.0,443.6 L504.0,444.2 L496.0,444.9 L488.0,445.7 L480.0,446.5 L472.0,447.4 L464.0,448.4 L456.0,449.5 L448.0,450.6 L440.0,451.8 L432.0,453.1 L424.0,454.4 L416.0,455.9 L408.0,457.3 L400.0,458.9 L392.0,460.5 L384.0,462.2 L376.0,463.9 L368.0,465.7 L360.0,467.5 L352.0,469.4 L344.0,471.3 L336.0,473.2 L328.0,475.1 L320.0,477.1 L312.0,479.1 L304.0,481.2 L296.0,483.3 L288.0,485.4 L280.0,487.6 L272.0,489.8 L264.0,492.0 L256.0,494.3 L248.0,496.6 L240.0,499.0 L232.0,501.4 L224.0,503.9 L216.0,506.4 L208.0,508.9 L200.0,511.4 L192.0,513.9 L184.0,516.5 L176.0,519.0 L168.0,521.5 L160.0,524.0 L152.0,526.6 L144.0,529.1 L136.0,531.6 L128.0,534.1Z" fill-opacity="0.141"/>
<path d="M128.0,514.8 L136.0,512.4 L144.0,510.0 L152.0,507.5 L160.0,505.1 L168.0,502.6 L176.0,500.1 L184.0,497.6 L192.0,495.0 L200.0,492.5 L208.0,490.0 L216.0,487.4 L224.0,484.9 L232.0,482.4 L240.0,479.8 L248.0,477.2 L256.0,474.7 L264.0,472.1 L272.0,469.6 L280.0,467.1 L288.0,464.6 L296.0,462.2 L304.0,459.8 L312.0,457.4 L320.0,455.1 L328.0,452.8 L336.0,450.6 L344.0,448.4 L352.0,446.3 L360.0,444.3 L368.0,442.4 L376.0,440.6 L384.0,438.8 L392.0,437.1 L400.0,435.5 L408.0,433.9 L416.0,432.4 L424.0,431.0 L432.0,429.6 L440.0,428.3 L448.0,427.1 L456.0,426.0 L464.0,424.9 L472.0,423.9 L480.0,423.0 L488.0,422.1 L496.0,421.3 L504.0,420.7 L512.0,420.1 L520.0,419.5 L528.0,419.1 L536.0,418.7 L544.0,418.4 L552.0,418.3 L560.0,418.2 L568.0,418.2 L576.0,418.2 L584.0,418.4 L592.0,418.7 L600.0,419.0 L608.0,419.5 L616.0,420.0 L624.0,420.7 L632.0,421.5 L640.0,422.4 L648.0,423.4 L656.0,424.5 L664.0,425.7 L672.0,427.1 L680.0,428.6 L688.0,430.1 L696.0,431.8 L704.0,433.6 L712.0,435.4 L720.0,437.4 L728.0,439.5 L736.0,441.6 L744.0,443.8 L752.0,446.1 L760.0,448.5 L768.0,450.9 L776.0,453.5 L784.0,456.1 L792.0,458.8 L800.0,461.6 L808.0,464.5 L816.0,467.5 L824.0,470.6 L832.0,473.7 L840.0,476.9 L848.0,480.2 L856.0,483.7 L864.0,487.2 L872.0,490.9 L880.0,494.6 L888.0,498.5 L896.0,502.4 L904.0,506.4 L912.0,510.5 L920.0,514.6 L928.0,518.8 L936.0,523.0 L944.0,527.2 L952.0,531.5 L960.0,535.8 L968.0,540.0 L976.0,544.3 L984.0,548.6 L992.0,552.8 L1000.0,557.1 L1008.0,561.3 L1016.0,565.6 L1024.0,569.8 L1032.0,574.0 L1040.0,578.3 L1048.0,582.5 L1056.0,586.7 L1064.0,591.0 L1072.0,595.2 L1080.0,599.4 L1088.0,603.7 L1096.0,608.0 L1104.0,612.2 L1112.0,616.5 L1120.0,620.7 L1128.0,624.9 L1136.0,629.0 L1144.0,633.1 L1152.0,637.2 L1160.0,641.2 L1168.0,645.1 L1176.0,649.0 L1184.0,652.7 L1192.0,656.4 L1200.0,660.1 L1208.0,663.7 L1216.0,667.2 L1224.0,670.6 L1232.0,674.0 L1240.0,677.4 L1248.0,680.7 L1256.0,684.0 L1264.0,687.2 L1272.0,690.4 L1280.0,693.6 L1288.0,696.7 L1296.0,699.8 L1304.0,702.9 L1312.0,705.9 L1320.0,708.9 L1328.0,711.9 L1336.0,714.8 L1344.0,717.6 L1352.0,720.4 L1360.0,723.1 L1368.0,725.8 L1376.0,728.4 L1384.0,730.9 L1392.0,733.4 L1400.0,735.8 L1408.0,738.1 L1416.0,740.4 L1424.0,742.7 L1432.0,744.9 L1440.0,747.0 L1448.0,749.1 L1456.0,751.2 L1464.0,753.2 L1472.0,755.2 L1480.0,757.1 L1488.0,759.0 L1496.0,760.8 L1504.0,762.6 L1512.0,764.4 L1520.0,766.1 L1528.0,767.8 L1536.0,769.4 L1544.0,771.1 L1552.0,772.6 L1560.0,774.2 L1568.0,775.7 L1576.0,777.1 L1584.0,778.6 L1592.0,780.0 L1600.0,781.3 L1608.0,782.6 L1616.0,783.9 L1624.0,785.2 L1632.0,786.4 L1640.0,787.6 L1648.0,788.7 L1656.0,789.9 L1664.0,790.9 L1672.0,792.0 L1680.0,792.9 L1688.0,793.9 L1696.0,794.8 L1704.0,795.7 L1712.0,796.5 L1720.0,797.2 L1728.0,798.0 L1736.0,798.6 L1744.0,799.3 L1752.0,799.9 L1760.0,800.5 L1768.0,801.1 L1776.0,801.6 L1784.0,802.1 L1792.0,802.7 L1800.0,803.2 L1808.0,803.7 L1816.0,804.2 L1824.0,804.7 L1832.0,805.3 L1840.0,805.8 L1848.0,806.3 L1856.0,806.7 L1864.0,807.2 L1872.0,807.7 L1880.0,808.1 L1888.0,808.6 L1896.0,809.0 L1904.0,809.4 L1912.0,809.8 L1920.0,810.2 L1928.0,810.5 L1936.0,810.9 L1944.0,811.2 L1952.0,811.5 L1960.0,811.7 L1968.0,811.9 L1976.0,812.2 L1984.0,812.3 L1992.0,812.5 L1992.0,819.6 L1984.0,819.5 L1976.0,819.3 L1968.0,819.1 L1960.0,818.9 L1952.0,818.6 L1944.0,818.4 L1936.0,818.1 L1928.0,817.7 L1920.0,817.4 L1912.0,817.0 L1904.0,816.6 L1896.0,816.3 L1888.0,815.8 L1880.0,815.4 L1872.0,815.0 L1864.0,814.5 L1856.0,814.1 L1848.0,813.6 L1840.0,813.1 L1832.0,812.6 L1824.0,812.1 L1816.0,811.6 L1808.0,811.1 L1800.0,810.6 L1792.0,810.1 L1784.0,809.6 L1776.0,809.1 L1768.0,808.6 L1760.0,808.0 L1752.0,807.5 L1744.0,806.9 L1736.0,806.3 L1728.0,805.6 L1720.0,804.9 L1712.0,804.2 L1704.0,803.4 L1696.0,802.5 L1688.0,801.6 L1680.0,800.7 L1672.0,799.8 L1664.0,798.8 L1656.0,797.7 L1648.0,796.6 L1640.0,795.5 L1632.0,794.4 L1624.0,793.2 L1616.0,792.0 L1608.0,790.7 L1600.0,789.4 L1592.0,788.1 L1584.0,786.8 L1576.0,785.4 L1568.0,784.0 L1560.0,782.5 L1552.0,781.0 L1544.0,779.5 L1536.0,777.9 L1528.0,776.3 L1520.0,774.7 L1512.0,773.0 L1504.0,771.3 L1496.0,769.6 L1488.0,767.8 L1480.0,766.0 L1472.0,764.2 L1464.0,762.3 L1456.0,760.4 L1448.0,758.4 L1440.0,756.4 L1432.0,754.4 L1424.0,752.3 L1416.0,750.2 L1408.0,748.0 L1400.0,745.7 L1392.0,743.4 L1384.0,741.1 L1376.0,738.6 L1368.0,736.2 L1360.0,733.6 L1352.0,731.0 L1344.0,728.4 L1336.0,725.6 L1328.0,722.8 L1320.0,720.0 L1312.0,717.1 L1304.0,714.2 L1296.0,711.2 L1288.0,708.3 L1280.0,705.2 L1272.0,702.2 L1264.0,699.1 L1256.0,696.0 L1248.0,692.9 L1240.0,689.7 L1232.0,686.4 L1224.0,683.2 L1216.0,679.8 L1208.0,676.4 L1200.0,673.0 L1192.0,669.5 L1184.0,665.9 L1176.0,662.3 L1168.0,658.6 L1160.0,654.8 L1152.0,651.0 L1144.0,647.1 L1136.0,643.1 L1128.0,639.1 L1120.0,635.1 L1112.0,631.0 L1104.0,626.9 L1096.0,622.8 L1088.0,618.7 L1080.0,614.7 L1072.0,610.6 L1064.0,606.6 L1056.0,602.6 L1048.0,598.6 L1040.0,594.6 L1032.0,590.6 L1024.0,586.6 L1016.0,582.6 L1008.0,578.5 L1000.0,574.5 L992.0,570.4 L984.0,566.3 L976.0,562.2 L968.0,558.0 L960.0,553.9 L952.0,549.7 L944.0,545.6 L936.0,541.4 L928.0,537.3 L920.0,533.3 L912.0,529.2 L904.0,525.2 L896.0,521.3 L888.0,517.5 L880.0,513.7 L872.0,510.0 L864.0,506.5 L856.0,503.1 L848.0,499.8 L840.0,496.6 L832.0,493.5 L824.0,490.6 L816.0,487.7 L808.0,485.0 L800.0,482.3 L792.0,479.7 L784.0,477.2 L776.0,474.7 L768.0,472.3 L760.0,470.0 L752.0,467.7 L744.0,465.6 L736.0,463.5 L728.0,461.4 L720.0,459.5 L712.0,457.6 L704.0,455.8 L696.0,454.1 L688.0,452.5 L680.0,451.0 L672.0,449.6 L664.0,448.3 L656.0,447.1 L648.0,445.9 L640.0,444.9 L632.0,444.0 L624.0,443.2 L616.0,442.5 L608.0,441.9 L600.0,441.4 L592.0,441.0 L584.0,440.7 L576.0,440.5 L568.0,440.3 L560.0,440.3 L552.0,440.4 L544.0,440.6 L536.0,440.8 L528.0,441.2 L520.0,441.6 L512.0,442.1 L504.0,442.7 L496.0,443.4 L488.0,444.1 L480.0,445.0 L472.0,445.9 L464.0,446.9 L456.0,447.9 L448.0,449.1 L440.0,450.3 L432.0,451.5 L424.0,452.9 L416.0,454.3 L408.0,455.8 L400.0,457.3 L392.0,458.9 L384.0,460.6 L376.0,462.4 L368.0,464.1 L360.0,466.0 L352.0,467.8 L344.0,469.7 L336.0,471.7 L328.0,473.7 L320.0,475.7 L312.0,477.7 L304.0,479.8 L296.0,481.9 L288.0,484.1 L280.0,486.3 L272.0,488.5 L264.0,490.8 L256.0,493.1 L248.0,495.5 L240.0,497.8 L232.0,500.3 L224.0,502.7 L216.0,505.2 L208.0,507.8 L200.0,510.3 L192.0,512.8 L184.0,515.4 L176.0,517.9 L168.0,520.4 L160.0,523.0 L152.0,525.5 L144.0,528.0 L136.0,530.5 L128.0,533.0Z" fill-opacity="0.141"/>
<path d="M128.0,515.6 L136.0,513.1 L144.0,510.7 L152.0,508.2 L160.0,505.7 L168.0,503.3 L176.0,500.7 L184.0,498.2 L192.0,495.7 L200.0,493.2 L208.0,490.6 L216.0,488.1 L224.0,485.6 L232.0,483.0 L240.0,480.5 L248.0,477.9 L256.0,475.4 L264.0,472.8 L272.0,470.3 L280.0,467.8 L288.0,465.4 L296.0,462.9 L304.0,460.5 L312.0,458.2 L320.0,455.9 L328.0,453.6 L336.0,451.4 L344.0,449.3 L352.0,447.2 L360.0,445.2 L368.0,443.3 L376.0,441.5 L384.0,439.7 L392.0,438.0 L400.0,436.4 L408.0,434.8 L416.0,433.3 L424.0,431.9 L432.0,430.5 L440.0,429.2 L448.0,428.0 L456.0,426.9 L464.0,425.8 L472.0,424.8 L480.0,423.9 L488.0,423.1 L496.0,422.3 L504.0,421.6 L512.0,421.0 L520.0,420.5 L528.0,420.1 L536.0,419.7 L544.0,419.4 L552.0,419.3 L560.0,419.2 L568.0,419.2 L576.0,419.2 L584.0,419.4 L592.0,419.7 L600.0,420.1 L608.0,420.5 L616.0,421.1 L624.0,421.8 L632.0,422.5 L640.0,423.4 L648.0,424.4 L656.0,425.6 L664.0,426.8 L672.0,428.2 L680.0,429.6 L688.0,431.2 L696.0,432.8 L704.0,434.6 L712.0,436.5 L720.0,438.4 L728.0,440.5 L736.0,442.6 L744.0,444.8 L752.0,447.1 L760.0,449.4 L768.0,451.9 L776.0,454.4 L784.0,457.0 L792.0,459.7 L800.0,462.5 L808.0,465.4 L816.0,468.4 L824.0,471.4 L832.0,474.6 L840.0,477.8 L848.0,481.1 L856.0,484.5 L864.0,488.0 L872.0,491.7 L880.0,495.4 L888.0,499.3 L896.0,503.2 L904.0,507.2 L912.0,511.3 L920.0,515.4 L928.0,519.6 L936.0,523.8 L944.0,528.0 L952.0,532.2 L960.0,536.5 L968.0,540.8 L976.0,545.0 L984.0,549.3 L992.0,553.5 L1000.0,557.8 L1008.0,562.0 L1016.0,566.2 L1024.0,570.5 L1032.0,574.7 L1040.0,578.9 L1048.0,583.1 L1056.0,587.3 L1064.0,591.5 L1072.0,595.8 L1080.0,600.0 L1088.0,604.2 L1096.0,608.5 L1104.0,612.7 L1112.0,617.0 L1120.0,621.2 L1128.0,625.4 L1136.0,629.5 L1144.0,633.6 L1152.0,637.7 L1160.0,641.6 L1168.0,645.5 L1176.0,649.4 L1184.0,653.2 L1192.0,656.9 L1200.0,660.5 L1208.0,664.1 L1216.0,667.6 L1224.0,671.0 L1232.0,674.4 L1240.0,677.8 L1248.0,681.1 L1256.0,684.3 L1264.0,687.5 L1272.0,690.7 L1280.0,693.9 L1288.0,697.0 L1296.0,700.1 L1304.0,703.2 L1312.0,706.2 L1320.0,709.2 L1328.0,712.2 L1336.0,715.0 L1344.0,717.9 L1352.0,720.7 L1360.0,723.4 L1368.0,726.0 L1376.0,728.6 L1384.0,731.1 L1392.0,733.6 L1400.0,736.0 L1408.0,738.3 L1416.0,740.6 L1424.0,742.9 L1432.0,745.1 L1440.0,747.2 L1448.0,749.3 L1456.0,751.3 L1464.0,753.3 L1472.0,755.3 L1480.0,757.2 L1488.0,759.1 L1496.0,760.9 L1504.0,762.7 L1512.0,764.5 L1520.0,766.2 L1528.0,767.9 L1536.0,769.5 L1544.0,771.1 L1552.0,772.7 L1560.0,774.3 L1568.0,775.8 L1576.0,777.2 L1584.0,778.6 L1592.0,780.0 L1600.0,781.4 L1608.0,782.7 L1616.0,784.0 L1624.0,785.3 L1632.0,786.5 L1640.0,787.7 L1648.0,788.8 L1656.0,789.9 L1664.0,791.0 L1672.0,792.0 L1680.0,793.0 L1688.0,793.9 L1696.0,794.8 L1704.0,795.7 L1712.0,796.5 L1720.0,797.3 L1728.0,798.0 L1736.0,798.7 L1744.0,799.3 L1752.0,799.9 L1760.0,800.5 L1768.0,801.1 L1776.0,801.6 L1784.0,802.2 L1792.0,802.7 L1800.0,803.2 L1808.0,803.7 L1816.0,804.3 L1824.0,804.8 L1832.0,805.3 L1840.0,805.8 L1848.0,806.3 L1856.0,806.8 L1864.0,807.2 L1872.0,807.7 L1880.0,808.2 L1888.0,808.6 L1896.0,809.0 L1904.0,809.4 L1912.0,809.8 L1920.0,810.2 L1928.0,810.5 L1936.0,810.9 L1944.0,811.2 L1952.0,811.5 L1960.0,811.7 L1968.0,812.0 L1976.0,812.2 L1984.0,812.3 L1992.0,812.5 L1992.0,819.6 L1984.0,819.5 L1976.0,819.3 L1968.0,819.1 L1960.0,818.9 L1952.0,818.6 L1944.0,818.3 L1936.0,818.0 L1928.0,817.7 L1920.0,817.4 L1912.0,817.0 L1904.0,816.6 L1896.0,816.2 L1888.0,815.8 L1880.0,815.4 L1872.0,815.0 L1864.0,814.5 L1856.0,814.0 L1848.0,813.6 L1840.0,813.1 L1832.0,812.6 L1824.0,812.1 L1816.0,811.6 L1808.0,811.1 L1800.0,810.6 L1792.0,810.1 L1784.0,809.6 L1776.0,809.1 L1768.0,808.5 L1760.0,808.0 L1752.0,807.4 L1744.0,806.8 L1736.0,806.2 L1728.0,805.5 L1720.0,804.8 L1712.0,804.1 L1704.0,803.3 L1696.0,802.5 L1688.0,801.6 L1680.0,800.7 L1672.0,799.7 L1664.0,798.7 L1656.0,797.7 L1648.0,796.6 L1640.0,795.5 L1632.0,794.3 L1624.0,793.1 L1616.0,791.9 L1608.0,790.6 L1600.0,789.3 L1592.0,788.0 L1584.0,786.7 L1576.0,785.3 L1568.0,783.9 L1560.0,782.4 L1552.0,780.9 L1544.0,779.4 L1536.0,777.8 L1528.0,776.2 L1520.0,774.6 L1512.0,772.9 L1504.0,771.2 L1496.0,769.5 L1488.0,767.7 L1480.0,765.9 L1472.0,764.0 L1464.0,762.1 L1456.0,760.2 L1448.0,758.3 L1440.0,756.2 L1432.0,754.2 L1424.0,752.1 L1416.0,749.9 L1408.0,747.7 L1400.0,745.5 L1392.0,743.2 L1384.0,740.8 L1376.0,738.4 L1368.0,735.9 L1360.0,733.3 L1352.0,730.7 L1344.0,728.1 L1336.0,725.3 L1328.0,722.5 L1320.0,719.7 L1312.0,716.8 L1304.0,713.9 L1296.0,710.9 L1288.0,707.9 L1280.0,704.9 L1272.0,701.8 L1264.0,698.7 L1256.0,695.6 L1248.0,692.4 L1240.0,689.2 L1232.0,686.0 L1224.0,682.7 L1216.0,679.4 L1208.0,676.0 L1200.0,672.5 L1192.0,669.0 L1184.0,665.4 L1176.0,661.8 L1168.0,658.1 L1160.0,654.3 L1152.0,650.4 L1144.0,646.5 L1136.0,642.5 L1128.0,638.5 L1120.0,634.5 L1112.0,630.4 L1104.0,626.3 L1096.0,622.2 L1088.0,618.1 L1080.0,614.0 L1072.0,609.9 L1064.0,605.9 L1056.0,601.9 L1048.0,597.8 L1040.0,593.8 L1032.0,589.8 L1024.0,585.8 L1016.0,581.8 L1008.0,577.7 L1000.0,573.7 L992.0,569.6 L984.0,565.5 L976.0,561.3 L968.0,557.2 L960.0,553.0 L952.0,548.8 L944.0,544.7 L936.0,540.5 L928.0,536.4 L920.0,532.3 L912.0,528.3 L904.0,524.3 L896.0,520.3 L888.0,516.5 L880.0,512.7 L872.0,509.0 L864.0,505.5 L856.0,502.1 L848.0,498.7 L840.0,495.6 L832.0,492.5 L824.0,489.5 L816.0,486.6 L808.0,483.9 L800.0,481.2 L792.0,478.6 L784.0,476.0 L776.0,473.6 L768.0,471.2 L760.0,468.8 L752.0,466.6 L744.0,464.4 L736.0,462.3 L728.0,460.2 L720.0,458.3 L712.0,456.4 L704.0,454.6 L696.0,452.9 L688.0,451.3 L680.0,449.8 L672.0,448.4 L664.0,447.1 L656.0,445.8 L648.0,444.7 L640.0,443.7 L632.0,442.8 L624.0,442.0 L616.0,441.3 L608.0,440.7 L600.0,440.1 L592.0,439.7 L584.0,439.4 L576.0,439.2 L568.0,439.1 L560.0,439.1 L552.0,439.2 L544.0,439.3 L536.0,439.6 L528.0,439.9 L520.0,440.3 L512.0,440.9 L504.0,441.4 L496.0,442.1 L488.0,442.9 L480.0,443.7 L472.0,444.6 L464.0,445.6 L456.0,446.6 L448.0,447.8 L440.0,449.0 L432.0,450.3 L424.0,451.6 L416.0,453.0 L408.0,454.5 L400.0,456.0 L392.0,457.6 L384.0,459.3 L376.0,461.1 L368.0,462.9 L360.0,464.7 L352.0,466.6 L344.0,468.5 L336.0,470.4 L328.0,472.4 L320.0,474.5 L312.0,476.5 L304.0,478.7 L296.0,480.8 L288.0,483.0 L280.0,485.2 L272.0,487.5 L264.0,489.8 L256.0,492.1 L248.0,494.5 L240.0,496.9 L232.0,499.3 L224.0,501.8 L216.0,504.3 L208.0,506.8 L200.0,509.3 L192.0,511.9 L184.0,514.4 L176.0,517.0 L168.0,519.5 L160.0,522.0 L152.0,524.6 L144.0,527.1 L136.0,529.6 L128.0,532.1Z" fill-opacity="0.141"/>
<path d="M128.0,516.2 L136.0,513.7 L144.0,511.3 L152.0,508.8 L160.0,506.3 L168.0,503.8 L176.0,501.3 L184.0,498.8 L192.0,496.3 L200.0,493.7 L208.0,491.2 L216.0,488.6 L224.0,486.1 L232.0,483.6 L240.0,481.0 L248.0,478.5 L256.0,475.9 L264.0,473.4 L272.0,470.9 L280.0,468.4 L288.0,466.0 L296.0,463.6 L304.0,461.2 L312.0,458.8 L320.0,456.5 L328.0,454.3 L336.0,452.1 L344.0,450.0 L352.0,447.9 L360.0,446.0 L368.0,444.0 L376.0,442.2 L384.0,440.4 L392.0,438.8 L400.0,437.1 L408.0,435.6 L416.0,434.1 L424.0,432.6 L432.0,431.3 L440.0,430.0 L448.0,428.8 L456.0,427.7 L464.0,426.6 L472.0,425.6 L480.0,424.7 L488.0,423.9 L496.0,423.1 L504.0,422.4 L512.0,421.8 L520.0,421.3 L528.0,420.9 L536.0,420.5 L544.0,420.3 L552.0,420.1 L560.0,420.0 L568.0,420.0 L576.0,420.1 L584.0,420.3 L592.0,420.6 L600.0,420.9 L608.0,421.4 L616.0,422.0 L624.0,422.6 L632.0,423.4 L640.0,424.3 L648.0,425.3 L656.0,426.5 L664.0,427.7 L672.0,429.0 L680.0,430.5 L688.0,432.1 L696.0,433.7 L704.0,435.5 L712.0,437.3 L720.0,439.3 L728.0,441.3 L736.0,443.4 L744.0,445.6 L752.0,447.9 L760.0,450.3 L768.0,452.7 L776.0,455.2 L784.0,457.8 L792.0,460.5 L800.0,463.3 L808.0,466.2 L816.0,469.1 L824.0,472.1 L832.0,475.3 L840.0,478.5 L848.0,481.7 L856.0,485.2 L864.0,488.7 L872.0,492.3 L880.0,496.1 L888.0,499.9 L896.0,503.9 L904.0,507.9 L912.0,511.9 L920.0,516.0 L928.0,520.2 L936.0,524.4 L944.0,528.6 L952.0,532.9 L960.0,537.1 L968.0,541.4 L976.0,545.7 L984.0,549.9 L992.0,554.1 L1000.0,558.4 L1008.0,562.6 L1016.0,566.8 L1024.0,571.0 L1032.0,575.2 L1040.0,579.4 L1048.0,583.6 L1056.0,587.8 L1064.0,592.0 L1072.0,596.3 L1080.0,600.5 L1088.0,604.7 L1096.0,608.9 L1104.0,613.2 L1112.0,617.4 L1120.0,621.6 L1128.0,625.8 L1136.0,629.9 L1144.0,634.0 L1152.0,638.0 L1160.0,642.0 L1168.0,645.9 L1176.0,649.8 L1184.0,653.5 L1192.0,657.2 L1200.0,660.8 L1208.0,664.4 L1216.0,667.9 L1224.0,671.3 L1232.0,674.7 L1240.0,678.1 L1248.0,681.4 L1256.0,684.6 L1264.0,687.8 L1272.0,691.0 L1280.0,694.2 L1288.0,697.3 L1296.0,700.4 L1304.0,703.4 L1312.0,706.5 L1320.0,709.4 L1328.0,712.4 L1336.0,715.3 L1344.0,718.1 L1352.0,720.9 L1360.0,723.6 L1368.0,726.2 L1376.0,728.8 L1384.0,731.3 L1392.0,733.7 L1400.0,736.1 L1408.0,738.5 L1416.0,740.8 L1424.0,743.0 L1432.0,745.2 L1440.0,747.3 L1448.0,749.4 L1456.0,751.5 L1464.0,753.5 L1472.0,755.4 L1480.0,757.3 L1488.0,759.2 L1496.0,761.0 L1504.0,762.8 L1512.0,764.6 L1520.0,766.3 L1528.0,768.0 L1536.0,769.6 L1544.0,771.2 L1552.0,772.8 L1560.0,774.3 L1568.0,775.8 L1576.0,777.3 L1584.0,778.7 L1592.0,780.1 L1600.0,781.5 L1608.0,782.8 L1616.0,784.1 L1624.0,785.3 L1632.0,786.5 L1640.0,787.7 L1648.0,788.9 L1656.0,790.0 L1664.0,791.0 L1672.0,792.1 L1680.0,793.0 L1688.0,794.0 L1696.0,794.9 L1704.0,795.7 L1712.0,796.6 L1720.0,797.3 L1728.0,798.0 L1736.0,798.7 L1744.0,799.4 L1752.0,800.0 L1760.0,800.6 L1768.0,801.1 L1776.0,801.7 L1784.0,802.2 L1792.0,802.7 L1800.0,803.2 L1808.0,803.8 L1816.0,804.3 L1824.0,804.8 L1832.0,805.3 L1840.0,805.8 L1848.0,806.3 L1856.0,806.8 L1864.0,807.3 L1872.0,807.7 L1880.0,808.2 L1888.0,808.6 L1896.0,809.0 L1904.0,809.4 L1912.0,809.8 L1920.0,810.2 L1928.0,810.6 L1936.0,810.9 L1944.0,811.2 L1952.0,811.5 L1960.0,811.7 L1968.0,812.0 L1976.0,812.2 L1984.0,812.4 L1992.0,812.5 L1992.0,819.6 L1984.0,819.5 L1976.0,819.3 L1968.0,819.1 L1960.0,818.9 L1952.0,818.6 L1944.0,818.3 L1936.0,818.0 L1928.0,817.7 L1920.0,817.4 L1912.0,817.0 L1904.0,816.6 L1896.0,816.2 L1888.0,815.8 L1880.0,815.4 L1872.0,814.9 L1864.0,814.5 L1856.0,814.0 L1848.0,813.5 L1840.0,813.1 L1832.0,812.6 L1824.0,812.1 L1816.0,811.6 L1808.0,811.1 L1800.0,810.6 L1792.0,810.1 L1784.0,809.5 L1776.0,809.0 L1768.0,808.5 L1760.0,808.0 L1752.0,807.4 L1744.0,806.8 L1736.0,806.2 L1728.0,805.5 L1720.0,804.8 L1712.0,804.1 L1704.0,803.3 L1696.0,802.4 L1688.0,801.5 L1680.0,800.6 L1672.0,799.6 L1664.0,798.6 L1656.0,797.6 L1648.0,796.5 L1640.0,795.4 L1632.0,794.2 L1624.0,793.0 L1616.0,791.8 L1608.0,790.6 L1600.0,789.3 L1592.0,787.9 L1584.0,786.6 L1576.0,785.2 L1568.0,783.8 L1560.0,782.3 L1552.0,780.8 L1544.0,779.3 L1536.0,777.7 L1528.0,776.1 L1520.0,774.5 L1512.0,772.8 L1504.0,771.1 L1496.0,769.3 L1488.0,767.5 L1480.0,765.7 L1472.0,763.9 L1464.0,762.0 L1456.0,760.1 L1448.0,758.1 L1440.0,756.1 L1432.0,754.0 L1424.0,751.9 L1416.0,749.8 L1408.0,747.5 L1400.0,745.3 L1392.0,743.0 L1384.0,740.6 L1376.0,738.2 L1368.0,735.7 L1360.0,733.1 L1352.0,730.5 L1344.0,727.8 L1336.0,725.1 L1328.0,722.3 L1320.0,719.4 L1312.0,716.5 L1304.0,713.6 L1296.0,710.6 L1288.0,707.6 L1280.0,704.5 L1272.0,701.5 L1264.0,698.4 L1256.0,695.3 L1248.0,692.1 L1240.0,688.9 L1232.0,685.6 L1224.0,682.3 L1216.0,679.0 L1208.0,675.6 L1200.0,672.1 L1192.0,668.6 L1184.0,665.0 L1176.0,661.4 L1168.0,657.6 L1160.0,653.8 L1152.0,650.0 L1144.0,646.0 L1136.0,642.1 L1128.0,638.1 L1120.0,634.0 L1112.0,629.9 L1104.0,625.8 L1096.0,621.7 L1088.0,617.5 L1080.0,613.4 L1072.0,609.4 L1064.0,605.3 L1056.0,601.3 L1048.0,597.2 L1040.0,593.2 L1032.0,589.2 L1024.0,585.1 L1016.0,581.1 L1008.0,577.0 L1000.0,572.9 L992.0,568.9 L984.0,564.7 L976.0,560.6 L968.0,556.4 L960.0,552.2 L952.0,548.1 L944.0,543.9 L936.0,539.7 L928.0,535.6 L920.0,531.5 L912.0,527.5 L904.0,523.5 L896.0,519.5 L888.0,515.7 L880.0,511.9 L872.0,508.2 L864.0,504.6 L856.0,501.2 L848.0,497.9 L840.0,494.7 L832.0,491.6 L824.0,488.6 L816.0,485.7 L808.0,482.9 L800.0,480.2 L792.0,477.6 L784.0,475.1 L776.0,472.6 L768.0,470.2 L760.0,467.8 L752.0,465.6 L744.0,463.4 L736.0,461.2 L728.0,459.2 L720.0,457.2 L712.0,455.4 L704.0,453.6 L696.0,451.9 L688.0,450.3 L680.0,448.8 L672.0,447.3 L664.0,446.0 L656.0,444.8 L648.0,443.7 L640.0,442.6 L632.0,441.7 L624.0,440.9 L616.0,440.2 L608.0,439.6 L600.0,439.1 L592.0,438.7 L584.0,438.4 L576.0,438.2 L568.0,438.1 L560.0,438.0 L552.0,438.1 L544.0,438.3 L536.0,438.5 L528.0,438.9 L520.0,439.3 L512.0,439.8 L504.0,440.4 L496.0,441.1 L488.0,441.8 L480.0,442.6 L472.0,443.5 L464.0,444.5 L456.0,445.6 L448.0,446.7 L440.0,447.9 L432.0,449.2 L424.0,450.5 L416.0,451.9 L408.0,453.4 L400.0,454.9 L392.0,456.6 L384.0,458.2 L376.0,460.0 L368.0,461.8 L360.0,463.6 L352.0,465.5 L344.0,467.4 L336.0,469.4 L328.0,471.4 L320.0,473.5 L312.0,475.6 L304.0,477.7 L296.0,479.9 L288.0,482.1 L280.0,484.3 L272.0,486.6 L264.0,488.9 L256.0,491.2 L248.0,493.6 L240.0,496.0 L232.0,498.5 L224.0,501.0 L216.0,503.5 L208.0,506.0 L200.0,508.6 L192.0,511.1 L184.0,513.6 L176.0,516.2 L168.0,518.7 L160.0,521.3 L152.0,523.8 L144.0,526.3 L136.0,528.8 L128.0,531.3Z" fill-opacity="0.141"/>
<path d="M128.0,516.7 L136.0,514.2 L144.0,511.8 L152.0,509.3 L160.0,506.8 L168.0,504.3 L176.0,501.8 L184.0,499.3 L192.0,496.7 L200.0,494.2 L208.0,491.6 L216.0,489.1 L224.0,486.6 L232.0,484.0 L240.0,481.5 L248.0,478.9 L256.0,476.4 L264.0,473.9 L272.0,471.4 L280.0,468.9 L288.0,466.5 L296.0,464.1 L304.0,461.7 L312.0,459.4 L320.0,457.1 L328.0,454.9 L336.0,452.7 L344.0,450.6 L352.0,448.6 L360.0,446.6 L368.0,444.7 L376.0,442.8 L384.0,441.1 L392.0,439.4 L400.0,437.8 L408.0,436.2 L416.0,434.7 L424.0,433.3 L432.0,431.9 L440.0,430.7 L448.0,429.5 L456.0,428.3 L464.0,427.3 L472.0,426.3 L480.0,425.4 L488.0,424.5 L496.0,423.8 L504.0,423.1 L512.0,422.5 L520.0,422.0 L528.0,421.6 L536.0,421.2 L544.0,421.0 L552.0,420.8 L560.0,420.7 L568.0,420.7 L576.0,420.8 L584.0,421.0 L592.0,421.3 L600.0,421.7 L608.0,422.1 L616.0,422.7 L624.0,423.4 L632.0,424.2 L640.0,425.1 L648.0,426.1 L656.0,427.2 L664.0,428.4 L672.0,429.8 L680.0,431.2 L688.0,432.8 L696.0,434.5 L704.0,436.2 L712.0,438.1 L720.0,440.0 L728.0,442.0 L736.0,444.1 L744.0,446.3 L752.0,448.6 L760.0,450.9 L768.0,453.4 L776.0,455.9 L784.0,458.5 L792.0,461.2 L800.0,463.9 L808.0,466.8 L816.0,469.7 L824.0,472.8 L832.0,475.9 L840.0,479.0 L848.0,482.3 L856.0,485.7 L864.0,489.3 L872.0,492.9 L880.0,496.6 L888.0,500.5 L896.0,504.4 L904.0,508.4 L912.0,512.5 L920.0,516.6 L928.0,520.7 L936.0,524.9 L944.0,529.2 L952.0,533.4 L960.0,537.7 L968.0,541.9 L976.0,546.2 L984.0,550.4 L992.0,554.7 L1000.0,558.9 L1008.0,563.1 L1016.0,567.3 L1024.0,571.5 L1032.0,575.7 L1040.0,579.9 L1048.0,584.1 L1056.0,588.3 L1064.0,592.5 L1072.0,596.7 L1080.0,600.9 L1088.0,605.1 L1096.0,609.3 L1104.0,613.6 L1112.0,617.8 L1120.0,622.0 L1128.0,626.1 L1136.0,630.3 L1144.0,634.3 L1152.0,638.4 L1160.0,642.3 L1168.0,646.2 L1176.0,650.1 L1184.0,653.8 L1192.0,657.5 L1200.0,661.1 L1208.0,664.7 L1216.0,668.2 L1224.0,671.6 L1232.0,675.0 L1240.0,678.3 L1248.0,681.6 L1256.0,684.8 L1264.0,688.1 L1272.0,691.2 L1280.0,694.4 L1288.0,697.5 L1296.0,700.6 L1304.0,703.6 L1312.0,706.7 L1320.0,709.6 L1328.0,712.6 L1336.0,715.4 L1344.0,718.3 L1352.0,721.0 L1360.0,723.7 L1368.0,726.4 L1376.0,728.9 L1384.0,731.4 L1392.0,733.9 L1400.0,736.3 L1408.0,738.6 L1416.0,740.9 L1424.0,743.1 L1432.0,745.3 L1440.0,747.4 L1448.0,749.5 L1456.0,751.6 L1464.0,753.6 L1472.0,755.5 L1480.0,757.4 L1488.0,759.3 L1496.0,761.1 L1504.0,762.9 L1512.0,764.7 L1520.0,766.4 L1528.0,768.0 L1536.0,769.7 L1544.0,771.3 L1552.0,772.9 L1560.0,774.4 L1568.0,775.9 L1576.0,777.3 L1584.0,778.8 L1592.0,780.2 L1600.0,781.5 L1608.0,782.8 L1616.0,784.1 L1624.0,785.4 L1632.0,786.6 L1640.0,787.8 L1648.0,788.9 L1656.0,790.0 L1664.0,791.1 L1672.0,792.1 L1680.0,793.1 L1688.0,794.0 L1696.0,794.9 L1704.0,795.8 L1712.0,796.6 L1720.0,797.3 L1728.0,798.1 L1736.0,798.7 L1744.0,799.4 L1752.0,800.0 L1760.0,800.6 L1768.0,801.1 L1776.0,801.7 L1784.0,802.2 L1792.0,802.7 L1800.0,803.3 L1808.0,803.8 L1816.0,804.3 L1824.0,804.8 L1832.0,805.3 L1840.0,805.8 L1848.0,806.3 L1856.0,806.8 L1864.0,807.3 L1872.0,807.7 L1880.0,808.2 L1888.0,808.6 L1896.0,809.1 L1904.0,809.5 L1912.0,809.8 L1920.0,810.2 L1928.0,810.6 L1936.0,810.9 L1944.0,811.2 L1952.0,811.5 L1960.0,811.7 L1968.0,812.0 L1976.0,812.2 L1984.0,812.4 L1992.0,812.5 L1992.0,819.6 L1984.0,819.5 L1976.0,819.3 L1968.0,819.1 L1960.0,818.9 L1952.0,818.6 L1944.0,818.3 L1936.0,818.0 L1928.0,817.7 L1920.0,817.3 L1912.0,817.0 L1904.0,816.6 L1896.0,816.2 L1888.0,815.8 L1880.0,815.4 L1872.0,814.9 L1864.0,814.5 L1856.0,814.0 L1848.0,813.5 L1840.0,813.0 L1832.0,812.6 L1824.0,812.1 L1816.0,811.6 L1808.0,811.1 L1800.0,810.5 L1792.0,810.0 L1784.0,809.5 L1776.0,809.0 L1768.0,808.5 L1760.0,807.9 L1752.0,807.4 L1744.0,806.8 L1736.0,806.1 L1728.0,805.5 L1720.0,804.8 L1712.0,804.0 L1704.0,803.2 L1696.0,802.4 L1688.0,801.5 L1680.0,800.6 L1672.0,799.6 L1664.0,798.6 L1656.0,797.5 L1648.0,796.5 L1640.0,795.3 L1632.0,794.2 L1624.0,793.0 L1616.0,791.8 L1608.0,790.5 L1600.0,789.2 L1592.0,787.9 L1584.0,786.5 L1576.0,785.1 L1568.0,783.7 L1560.0,782.2 L1552.0,780.7 L1544.0,779.2 L1536.0,777.6 L1528.0,776.0 L1520.0,774.4 L1512.0,772.7 L1504.0,771.0 L1496.0,769.2 L1488.0,767.4 L1480.0,765.6 L1472.0,763.8 L1464.0,761.9 L1456.0,759.9 L1448.0,758.0 L1440.0,755.9 L1432.0,753.9 L1424.0,751.8 L1416.0,749.6 L1408.0,747.4 L1400.0,745.1 L1392.0,742.8 L1384.0,740.4 L1376.0,738.0 L1368.0,735.5 L1360.0,732.9 L1352.0,730.3 L1344.0,727.6 L1336.0,724.8 L1328.0,722.0 L1320.0,719.2 L1312.0,716.3 L1304.0,713.3 L1296.0,710.3 L1288.0,707.3 L1280.0,704.3 L1272.0,701.2 L1264.0,698.1 L1256.0,695.0 L1248.0,691.8 L1240.0,688.6 L1232.0,685.3 L1224.0,682.0 L1216.0,678.7 L1208.0,675.3 L1200.0,671.8 L1192.0,668.3 L1184.0,664.7 L1176.0,661.0 L1168.0,657.3 L1160.0,653.5 L1152.0,649.6 L1144.0,645.7 L1136.0,641.7 L1128.0,637.6 L1120.0,633.6 L1112.0,629.5 L1104.0,625.3 L1096.0,621.2 L1088.0,617.1 L1080.0,613.0 L1072.0,608.9 L1064.0,604.8 L1056.0,600.8 L1048.0,596.7 L1040.0,592.7 L1032.0,588.6 L1024.0,584.6 L1016.0,580.5 L1008.0,576.4 L1000.0,572.4 L992.0,568.2 L984.0,564.1 L976.0,560.0 L968.0,555.8 L960.0,551.6 L952.0,547.4 L944.0,543.2 L936.0,539.1 L928.0,534.9 L920.0,530.8 L912.0,526.8 L904.0,522.8 L896.0,518.8 L888.0,515.0 L880.0,511.2 L872.0,507.5 L864.0,503.9 L856.0,500.5 L848.0,497.1 L840.0,493.9 L832.0,490.8 L824.0,487.8 L816.0,485.0 L808.0,482.2 L800.0,479.4 L792.0,476.8 L784.0,474.3 L776.0,471.8 L768.0,469.3 L760.0,467.0 L752.0,464.7 L744.0,462.5 L736.0,460.4 L728.0,458.3 L720.0,456.4 L712.0,454.5 L704.0,452.7 L696.0,451.0 L688.0,449.4 L680.0,447.9 L672.0,446.5 L664.0,445.1 L656.0,443.9 L648.0,442.8 L640.0,441.8 L632.0,440.8 L624.0,440.0 L616.0,439.3 L608.0,438.7 L600.0,438.2 L592.0,437.8 L584.0,437.5 L576.0,437.3 L568.0,437.2 L560.0,437.2 L552.0,437.2 L544.0,437.4 L536.0,437.6 L528.0,438.0 L520.0,438.4 L512.0,438.9 L504.0,439.5 L496.0,440.2 L488.0,440.9 L480.0,441.7 L472.0,442.6 L464.0,443.6 L456.0,444.6 L448.0,445.8 L440.0,447.0 L432.0,448.2 L424.0,449.6 L416.0,451.0 L408.0,452.5 L400.0,454.0 L392.0,455.6 L384.0,457.3 L376.0,459.0 L368.0,460.8 L360.0,462.7 L352.0,464.6 L344.0,466.5 L336.0,468.5 L328.0,470.5 L320.0,472.6 L312.0,474.7 L304.0,476.9 L296.0,479.0 L288.0,481.3 L280.0,483.5 L272.0,485.8 L264.0,488.2 L256.0,490.5 L248.0,492.9 L240.0,495.4 L232.0,497.8 L224.0,500.3 L216.0,502.8 L208.0,505.4 L200.0,507.9 L192.0,510.4 L184.0,513.0 L176.0,515.5 L168.0,518.1 L160.0,520.6 L152.0,523.1 L144.0,525.7 L136.0,528.2 L128.0,530.7Z" fill-opacity="0.141"/>
<path d="M128.0,517.2 L136.0,514.7 L144.0,512.2 L152.0,509.7 L160.0,507.2 L168.0,504.7 L176.0,502.2 L184.0,499.7 L192.0,497.1 L200.0,494.6 L208.0,492.0 L216.0,489.5 L224.0,487.0 L232.0,484.4 L240.0,481.9 L248.0,479.3 L256.0,476.8 L264.0,474.3 L272.0,471.8 L280.0,469.4 L288.0,466.9 L296.0,464.6 L304.0,462.2 L312.0,459.9 L320.0,457.6 L328.0,455.4 L336.0,453.2 L344.0,451.1 L352.0,449.1 L360.0,447.1 L368.0,445.2 L376.0,443.4 L384.0,441.6 L392.0,439.9 L400.0,438.3 L408.0,436.7 L416.0,435.3 L424.0,433.8 L432.0,432.5 L440.0,431.2 L448.0,430.0 L456.0,428.9 L464.0,427.8 L472.0,426.8 L480.0,425.9 L488.0,425.1 L496.0,424.4 L504.0,423.7 L512.0,423.1 L520.0,422.6 L528.0,422.2 L536.0,421.8 L544.0,421.6 L552.0,421.4 L560.0,421.3 L568.0,421.3 L576.0,421.4 L584.0,421.6 L592.0,421.9 L600.0,422.3 L608.0,422.8 L616.0,423.3 L624.0,424.0 L632.0,424.8 L640.0,425.7 L648.0,426.7 L656.0,427.8 L664.0,429.1 L672.0,430.4 L680.0,431.9 L688.0,433.4 L696.0,435.1 L704.0,436.8 L712.0,438.7 L720.0,440.6 L728.0,442.6 L736.0,444.7 L744.0,446.9 L752.0,449.2 L760.0,451.5 L768.0,454.0 L776.0,456.5 L784.0,459.0 L792.0,461.7 L800.0,464.5 L808.0,467.3 L816.0,470.3 L824.0,473.3 L832.0,476.4 L840.0,479.5 L848.0,482.8 L856.0,486.2 L864.0,489.7 L872.0,493.4 L880.0,497.1 L888.0,501.0 L896.0,504.9 L904.0,508.9 L912.0,512.9 L920.0,517.1 L928.0,521.2 L936.0,525.4 L944.0,529.6 L952.0,533.9 L960.0,538.1 L968.0,542.4 L976.0,546.6 L984.0,550.9 L992.0,555.1 L1000.0,559.3 L1008.0,563.5 L1016.0,567.7 L1024.0,571.9 L1032.0,576.1 L1040.0,580.3 L1048.0,584.4 L1056.0,588.6 L1064.0,592.8 L1072.0,597.0 L1080.0,601.2 L1088.0,605.4 L1096.0,609.6 L1104.0,613.9 L1112.0,618.1 L1120.0,622.3 L1128.0,626.4 L1136.0,630.6 L1144.0,634.6 L1152.0,638.6 L1160.0,642.6 L1168.0,646.5 L1176.0,650.3 L1184.0,654.1 L1192.0,657.7 L1200.0,661.4 L1208.0,664.9 L1216.0,668.4 L1224.0,671.8 L1232.0,675.2 L1240.0,678.5 L1248.0,681.8 L1256.0,685.1 L1264.0,688.3 L1272.0,691.4 L1280.0,694.6 L1288.0,697.7 L1296.0,700.8 L1304.0,703.8 L1312.0,706.8 L1320.0,709.8 L1328.0,712.7 L1336.0,715.6 L1344.0,718.4 L1352.0,721.2 L1360.0,723.9 L1368.0,726.5 L1376.0,729.1 L1384.0,731.6 L1392.0,734.0 L1400.0,736.4 L1408.0,738.7 L1416.0,741.0 L1424.0,743.2 L1432.0,745.4 L1440.0,747.5 L1448.0,749.6 L1456.0,751.6 L1464.0,753.6 L1472.0,755.6 L1480.0,757.5 L1488.0,759.4 L1496.0,761.2 L1504.0,763.0 L1512.0,764.7 L1520.0,766.4 L1528.0,768.1 L1536.0,769.7 L1544.0,771.3 L1552.0,772.9 L1560.0,774.4 L1568.0,775.9 L1576.0,777.4 L1584.0,778.8 L1592.0,780.2 L1600.0,781.6 L1608.0,782.9 L1616.0,784.1 L1624.0,785.4 L1632.0,786.6 L1640.0,787.8 L1648.0,788.9 L1656.0,790.0 L1664.0,791.1 L1672.0,792.1 L1680.0,793.1 L1688.0,794.0 L1696.0,794.9 L1704.0,795.8 L1712.0,796.6 L1720.0,797.4 L1728.0,798.1 L1736.0,798.8 L1744.0,799.4 L1752.0,800.0 L1760.0,800.6 L1768.0,801.2 L1776.0,801.7 L1784.0,802.2 L1792.0,802.8 L1800.0,803.3 L1808.0,803.8 L1816.0,804.3 L1824.0,804.8 L1832.0,805.3 L1840.0,805.8 L1848.0,806.3 L1856.0,806.8 L1864.0,807.3 L1872.0,807.8 L1880.0,808.2 L1888.0,808.6 L1896.0,809.1 L1904.0,809.5 L1912.0,809.9 L1920.0,810.2 L1928.0,810.6 L1936.0,810.9 L1944.0,811.2 L1952.0,811.5 L1960.0,811.8 L1968.0,812.0 L1976.0,812.2 L1984.0,812.4 L1992.0,812.5 L1992.0,819.6 L1984.0,819.5 L1976.0,819.3 L1968.0,819.1 L1960.0,818.8 L1952.0,818.6 L1944.0,818.3 L1936.0,818.0 L1928.0,817.7 L1920.0,817.3 L1912.0,817.0 L1904.0,816.6 L1896.0,816.2 L1888.0,815.8 L1880.0,815.3 L1872.0,814.9 L1864.0,814.5 L1856.0,814.0 L1848.0,813.5 L1840.0,813.0 L1832.0,812.5 L1824.0,812.0 L1816.0,811.5 L1808.0,811.0 L1800.0,810.5 L1792.0,810.0 L1784.0,809.5 L1776.0,809.0 L1768.0,808.4 L1760.0,807.9 L1752.0,807.3 L1744.0,806.7 L1736.0,806.1 L1728.0,805.4 L1720.0,804.7 L1712.0,804.0 L1704.0,803.2 L1696.0,802.3 L1688.0,801.4 L1680.0,800.5 L1672.0,799.6 L1664.0,798.5 L1656.0,797.5 L1648.0,796.4 L1640.0,795.3 L1632.0,794.1 L1624.0,792.9 L1616.0,791.7 L1608.0,790.4 L1600.0,789.1 L1592.0,787.8 L1584.0,786.5 L1576.0,785.1 L1568.0,783.6 L1560.0,782.2 L1552.0,780.7 L1544.0,779.1 L1536.0,777.5 L1528.0,775.9 L1520.0,774.3 L1512.0,772.6 L1504.0,770.9 L1496.0,769.1 L1488.0,767.3 L1480.0,765.5 L1472.0,763.7 L1464.0,761.8 L1456.0,759.8 L1448.0,757.8 L1440.0,755.8 L1432.0,753.7 L1424.0,751.6 L1416.0,749.5 L1408.0,747.2 L1400.0,745.0 L1392.0,742.6 L1384.0,740.3 L1376.0,737.8 L1368.0,735.3 L1360.0,732.7 L1352.0,730.1 L1344.0,727.4 L1336.0,724.7 L1328.0,721.8 L1320.0,719.0 L1312.0,716.1 L1304.0,713.1 L1296.0,710.1 L1288.0,707.1 L1280.0,704.1 L1272.0,701.0 L1264.0,697.9 L1256.0,694.7 L1248.0,691.6 L1240.0,688.3 L1232.0,685.1 L1224.0,681.8 L1216.0,678.4 L1208.0,675.0 L1200.0,671.5 L1192.0,668.0 L1184.0,664.4 L1176.0,660.7 L1168.0,657.0 L1160.0,653.1 L1152.0,649.3 L1144.0,645.3 L1136.0,641.3 L1128.0,637.3 L1120.0,633.2 L1112.0,629.1 L1104.0,625.0 L1096.0,620.8 L1088.0,616.7 L1080.0,612.6 L1072.0,608.5 L1064.0,604.4 L1056.0,600.3 L1048.0,596.3 L1040.0,592.2 L1032.0,588.2 L1024.0,584.1 L1016.0,580.0 L1008.0,575.9 L1000.0,571.9 L992.0,567.7 L984.0,563.6 L976.0,559.4 L968.0,555.2 L960.0,551.1 L952.0,546.9 L944.0,542.7 L936.0,538.5 L928.0,534.4 L920.0,530.3 L912.0,526.2 L904.0,522.2 L896.0,518.2 L888.0,514.4 L880.0,510.6 L872.0,506.9 L864.0,503.3 L856.0,499.8 L848.0,496.5 L840.0,493.3 L832.0,490.2 L824.0,487.2 L816.0,484.3 L808.0,481.5 L800.0,478.8 L792.0,476.1 L784.0,473.6 L776.0,471.1 L768.0,468.6 L760.0,466.3 L752.0,464.0 L744.0,461.8 L736.0,459.7 L728.0,457.6 L720.0,455.6 L712.0,453.8 L704.0,452.0 L696.0,450.3 L688.0,448.7 L680.0,447.1 L672.0,445.7 L664.0,444.4 L656.0,443.2 L648.0,442.0 L640.0,441.0 L632.0,440.1 L624.0,439.3 L616.0,438.6 L608.0,438.0 L600.0,437.5 L592.0,437.1 L584.0,436.8 L576.0,436.6 L568.0,436.4 L560.0,436.4 L552.0,436.5 L544.0,436.6 L536.0,436.9 L528.0,437.2 L520.0,437.6 L512.0,438.1 L504.0,438.7 L496.0,439.4 L488.0,440.1 L480.0,441.0 L472.0,441.9 L464.0,442.8 L456.0,443.9 L448.0,445.0 L440.0,446.2 L432.0,447.5 L424.0,448.8 L416.0,450.2 L408.0,451.7 L400.0,453.2 L392.0,454.8 L384.0,456.5 L376.0,458.3 L368.0,460.1 L360.0,461.9 L352.0,463.8 L344.0,465.8 L336.0,467.8 L328.0,469.8 L320.0,471.9 L312.0,474.0 L304.0,476.2 L296.0,478.4 L288.0,480.6 L280.0,482.9 L272.0,485.2 L264.0,487.5 L256.0,489.9 L248.0,492.3 L240.0,494.8 L232.0,497.2 L224.0,499.7 L216.0,502.2 L208.0,504.8 L200.0,507.3 L192.0,509.9 L184.0,512.4 L176.0,515.0 L168.0,517.5 L160.0,520.1 L152.0,522.6 L144.0,525.1 L136.0,527.6 L128.0,530.1Z" fill-opacity="0.141"/>
<path d="M128.0,517.5 L136.0,515.1 L144.0,512.6 L152.0,510.1 L160.0,507.6 L168.0,505.1 L176.0,502.6 L184.0,500.0 L192.0,497.5 L200.0,494.9 L208.0,492.4 L216.0,489.8 L224.0,487.3 L232.0,484.7 L240.0,482.2 L248.0,479.7 L256.0,477.2 L264.0,474.7 L272.0,472.2 L280.0,469.7 L288.0,467.3 L296.0,464.9 L304.0,462.6 L312.0,460.3 L320.0,458.0 L328.0,455.8 L336.0,453.7 L344.0,451.6 L352.0,449.5 L360.0,447.6 L368.0,445.7 L376.0,443.8 L384.0,442.1 L392.0,440.4 L400.0,438.8 L408.0,437.2 L416.0,435.7 L424.0,434.3 L432.0,433.0 L440.0,431.7 L448.0,430.5 L456.0,429.4 L464.0,428.3 L472.0,427.3 L480.0,426.4 L488.0,425.6 L496.0,424.9 L504.0,424.2 L512.0,423.6 L520.0,423.1 L528.0,422.7 L536.0,422.3 L544.0,422.1 L552.0,421.9 L560.0,421.8 L568.0,421.9 L576.0,422.0 L584.0,422.1 L592.0,422.4 L600.0,422.8 L608.0,423.3 L616.0,423.9 L624.0,424.6 L632.0,425.4 L640.0,426.3 L648.0,427.3 L656.0,428.4 L664.0,429.6 L672.0,431.0 L680.0,432.4 L688.0,434.0 L696.0,435.6 L704.0,437.4 L712.0,439.2 L720.0,441.1 L728.0,443.1 L736.0,445.2 L744.0,447.4 L752.0,449.7 L760.0,452.0 L768.0,454.4 L776.0,456.9 L784.0,459.5 L792.0,462.2 L800.0,465.0 L808.0,467.8 L816.0,470.7 L824.0,473.7 L832.0,476.8 L840.0,480.0 L848.0,483.2 L856.0,486.6 L864.0,490.2 L872.0,493.8 L880.0,497.5 L888.0,501.4 L896.0,505.3 L904.0,509.3 L912.0,513.3 L920.0,517.5 L928.0,521.6 L936.0,525.8 L944.0,530.0 L952.0,534.2 L960.0,538.5 L968.0,542.7 L976.0,547.0 L984.0,551.2 L992.0,555.5 L1000.0,559.7 L1008.0,563.9 L1016.0,568.0 L1024.0,572.2 L1032.0,576.4 L1040.0,580.6 L1048.0,584.8 L1056.0,588.9 L1064.0,593.1 L1072.0,597.3 L1080.0,601.5 L1088.0,605.7 L1096.0,609.9 L1104.0,614.1 L1112.0,618.4 L1120.0,622.5 L1128.0,626.7 L1136.0,630.8 L1144.0,634.9 L1152.0,638.9 L1160.0,642.8 L1168.0,646.7 L1176.0,650.5 L1184.0,654.3 L1192.0,658.0 L1200.0,661.6 L1208.0,665.1 L1216.0,668.6 L1224.0,672.0 L1232.0,675.4 L1240.0,678.7 L1248.0,682.0 L1256.0,685.2 L1264.0,688.4 L1272.0,691.6 L1280.0,694.7 L1288.0,697.8 L1296.0,700.9 L1304.0,704.0 L1312.0,707.0 L1320.0,709.9 L1328.0,712.9 L1336.0,715.7 L1344.0,718.5 L1352.0,721.3 L1360.0,724.0 L1368.0,726.6 L1376.0,729.2 L1384.0,731.7 L1392.0,734.1 L1400.0,736.5 L1408.0,738.8 L1416.0,741.1 L1424.0,743.3 L1432.0,745.5 L1440.0,747.6 L1448.0,749.7 L1456.0,751.7 L1464.0,753.7 L1472.0,755.7 L1480.0,757.6 L1488.0,759.4 L1496.0,761.2 L1504.0,763.0 L1512.0,764.8 L1520.0,766.5 L1528.0,768.2 L1536.0,769.8 L1544.0,771.4 L1552.0,773.0 L1560.0,774.5 L1568.0,776.0 L1576.0,777.4 L1584.0,778.9 L1592.0,780.2 L1600.0,781.6 L1608.0,782.9 L1616.0,784.2 L1624.0,785.4 L1632.0,786.6 L1640.0,787.8 L1648.0,789.0 L1656.0,790.1 L1664.0,791.1 L1672.0,792.1 L1680.0,793.1 L1688.0,794.1 L1696.0,795.0 L1704.0,795.8 L1712.0,796.6 L1720.0,797.4 L1728.0,798.1 L1736.0,798.8 L1744.0,799.4 L1752.0,800.0 L1760.0,800.6 L1768.0,801.2 L1776.0,801.7 L1784.0,802.3 L1792.0,802.8 L1800.0,803.3 L1808.0,803.8 L1816.0,804.3 L1824.0,804.8 L1832.0,805.4 L1840.0,805.9 L1848.0,806.3 L1856.0,806.8 L1864.0,807.3 L1872.0,807.8 L1880.0,808.2 L1888.0,808.7 L1896.0,809.1 L1904.0,809.5 L1912.0,809.9 L1920.0,810.2 L1928.0,810.6 L1936.0,810.9 L1944.0,811.2 L1952.0,811.5 L1960.0,811.8 L1968.0,812.0 L1976.0,812.2 L1984.0,812.4 L1992.0,812.5 L1992.0,819.6 L1984.0,819.4 L1976.0,819.3 L1968.0,819.1 L1960.0,818.8 L1952.0,818.6 L1944.0,818.3 L1936.0,818.0 L1928.0,817.7 L1920.0,817.3 L1912.0,817.0 L1904.0,816.6 L1896.0,816.2 L1888.0,815.8 L1880.0,815.3 L1872.0,814.9 L1864.0,814.4 L1856.0,814.0 L1848.0,813.5 L1840.0,813.0 L1832.0,812.5 L1824.0,812.0 L1816.0,811.5 L1808.0,811.0 L1800.0,810.5 L1792.0,810.0 L1784.0,809.5 L1776.0,809.0 L1768.0,808.4 L1760.0,807.9 L1752.0,807.3 L1744.0,806.7 L1736.0,806.1 L1728.0,805.4 L1720.0,804.7 L1712.0,803.9 L1704.0,803.1 L1696.0,802.3 L1688.0,801.4 L1680.0,800.5 L1672.0,799.5 L1664.0,798.5 L1656.0,797.5 L1648.0,796.4 L1640.0,795.2 L1632.0,794.1 L1624.0,792.9 L1616.0,791.7 L1608.0,790.4 L1600.0,789.1 L1592.0,787.8 L1584.0,786.4 L1576.0,785.0 L1568.0,783.6 L1560.0,782.1 L1552.0,780.6 L1544.0,779.1 L1536.0,777.5 L1528.0,775.9 L1520.0,774.2 L1512.0,772.5 L1504.0,770.8 L1496.0,769.1 L1488.0,767.3 L1480.0,765.4 L1472.0,763.6 L1464.0,761.7 L1456.0,759.7 L1448.0,757.7 L1440.0,755.7 L1432.0,753.6 L1424.0,751.5 L1416.0,749.3 L1408.0,747.1 L1400.0,744.8 L1392.0,742.5 L1384.0,740.1 L1376.0,737.7 L1368.0,735.2 L1360.0,732.6 L1352.0,730.0 L1344.0,727.3 L1336.0,724.5 L1328.0,721.7 L1320.0,718.8 L1312.0,715.9 L1304.0,712.9 L1296.0,709.9 L1288.0,706.9 L1280.0,703.9 L1272.0,700.8 L1264.0,697.7 L1256.0,694.5 L1248.0,691.3 L1240.0,688.1 L1232.0,684.9 L1224.0,681.5 L1216.0,678.2 L1208.0,674.8 L1200.0,671.3 L1192.0,667.7 L1184.0,664.1 L1176.0,660.4 L1168.0,656.7 L1160.0,652.9 L1152.0,649.0 L1144.0,645.0 L1136.0,641.0 L1128.0,637.0 L1120.0,632.9 L1112.0,628.8 L1104.0,624.7 L1096.0,620.5 L1088.0,616.4 L1080.0,612.2 L1072.0,608.1 L1064.0,604.1 L1056.0,600.0 L1048.0,595.9 L1040.0,591.8 L1032.0,587.8 L1024.0,583.7 L1016.0,579.6 L1008.0,575.5 L1000.0,571.4 L992.0,567.3 L984.0,563.1 L976.0,559.0 L968.0,554.8 L960.0,550.6 L952.0,546.4 L944.0,542.2 L936.0,538.0 L928.0,533.9 L920.0,529.8 L912.0,525.7 L904.0,521.7 L896.0,517.7 L888.0,513.9 L880.0,510.1 L872.0,506.4 L864.0,502.8 L856.0,499.3 L848.0,496.0 L840.0,492.8 L832.0,489.7 L824.0,486.7 L816.0,483.8 L808.0,480.9 L800.0,478.2 L792.0,475.6 L784.0,473.0 L776.0,470.5 L768.0,468.0 L760.0,465.7 L752.0,463.4 L744.0,461.2 L736.0,459.0 L728.0,457.0 L720.0,455.0 L712.0,453.1 L704.0,451.3 L696.0,449.6 L688.0,448.0 L680.0,446.5 L672.0,445.1 L664.0,443.7 L656.0,442.5 L648.0,441.4 L640.0,440.4 L632.0,439.5 L624.0,438.7 L616.0,438.0 L608.0,437.3 L600.0,436.8 L592.0,436.4 L584.0,436.1 L576.0,435.9 L568.0,435.8 L560.0,435.8 L552.0,435.8 L544.0,436.0 L536.0,436.3 L528.0,436.6 L520.0,437.0 L512.0,437.5 L504.0,438.1 L496.0,438.7 L488.0,439.5 L480.0,440.3 L472.0,441.2 L464.0,442.2 L456.0,443.2 L448.0,444.3 L440.0,445.5 L432.0,446.8 L424.0,448.1 L416.0,449.5 L408.0,451.0 L400.0,452.6 L392.0,454.2 L384.0,455.9 L376.0,457.6 L368.0,459.4 L360.0,461.3 L352.0,463.2 L344.0,465.1 L336.0,467.1 L328.0,469.2 L320.0,471.3 L312.0,473.4 L304.0,475.6 L296.0,477.8 L288.0,480.0 L280.0,482.3 L272.0,484.7 L264.0,487.0 L256.0,489.4 L248.0,491.8 L240.0,494.3 L232.0,496.7 L224.0,499.2 L216.0,501.8 L208.0,504.3 L200.0,506.9 L192.0,509.4 L184.0,512.0 L176.0,514.5 L168.0,517.1 L160.0,519.6 L152.0,522.1 L144.0,524.7 L136.0,527.2 L128.0,529.7Z" fill-opacity="0.141"/>
<path d="M128.0,517.9 L136.0,515.4 L144.0,512.9 L152.0,510.4 L160.0,507.9 L168.0,505.4 L176.0,502.8 L184.0,500.3 L192.0,497.8 L200.0,495.2 L208.0,492.7 L216.0,490.1 L224.0,487.6 L232.0,485.0 L240.0,482.5 L248.0,480.0 L256.0,477.5 L264.0,475.0 L272.0,472.5 L280.0,470.1 L288.0,467.6 L296.0,465.3 L304.0,462.9 L312.0,460.6 L320.0,458.4 L328.0,456.2 L336.0,454.0 L344.0,451.9 L352.0,449.9 L360.0,447.9 L368.0,446.0 L376.0,444.2 L384.0,442.5 L392.0,440.8 L400.0,439.2 L408.0,437.6 L416.0,436.1 L424.0,434.7 L432.0,433.4 L440.0,432.1 L448.0,430.9 L456.0,429.8 L464.0,428.7 L472.0,427.7 L480.0,426.8 L488.0,426.0 L496.0,425.3 L504.0,424.6 L512.0,424.0 L520.0,423.5 L528.0,423.1 L536.0,422.8 L544.0,422.5 L552.0,422.4 L560.0,422.3 L568.0,422.3 L576.0,422.4 L584.0,422.6 L592.0,422.9 L600.0,423.3 L608.0,423.7 L616.0,424.3 L624.0,425.0 L632.0,425.8 L640.0,426.7 L648.0,427.7 L656.0,428.9 L664.0,430.1 L672.0,431.4 L680.0,432.9 L688.0,434.4 L696.0,436.1 L704.0,437.8 L712.0,439.6 L720.0,441.6 L728.0,443.6 L736.0,445.7 L744.0,447.9 L752.0,450.1 L760.0,452.4 L768.0,454.9 L776.0,457.4 L784.0,459.9 L792.0,462.6 L800.0,465.3 L808.0,468.2 L816.0,471.1 L824.0,474.1 L832.0,477.2 L840.0,480.3 L848.0,483.6 L856.0,487.0 L864.0,490.5 L872.0,494.1 L880.0,497.9 L888.0,501.7 L896.0,505.6 L904.0,509.6 L912.0,513.7 L920.0,517.8 L928.0,521.9 L936.0,526.1 L944.0,530.3 L952.0,534.6 L960.0,538.8 L968.0,543.1 L976.0,547.3 L984.0,551.5 L992.0,555.8 L1000.0,560.0 L1008.0,564.2 L1016.0,568.3 L1024.0,572.5 L1032.0,576.7 L1040.0,580.9 L1048.0,585.0 L1056.0,589.2 L1064.0,593.4 L1072.0,597.5 L1080.0,601.7 L1088.0,605.9 L1096.0,610.1 L1104.0,614.4 L1112.0,618.6 L1120.0,622.8 L1128.0,626.9 L1136.0,631.0 L1144.0,635.1 L1152.0,639.1 L1160.0,643.0 L1168.0,646.9 L1176.0,650.7 L1184.0,654.5 L1192.0,658.1 L1200.0,661.7 L1208.0,665.3 L1216.0,668.8 L1224.0,672.2 L1232.0,675.5 L1240.0,678.9 L1248.0,682.1 L1256.0,685.4 L1264.0,688.6 L1272.0,691.7 L1280.0,694.9 L1288.0,698.0 L1296.0,701.1 L1304.0,704.1 L1312.0,707.1 L1320.0,710.1 L1328.0,713.0 L1336.0,715.8 L1344.0,718.7 L1352.0,721.4 L1360.0,724.1 L1368.0,726.7 L1376.0,729.3 L1384.0,731.8 L1392.0,734.2 L1400.0,736.6 L1408.0,738.9 L1416.0,741.2 L1424.0,743.4 L1432.0,745.6 L1440.0,747.7 L1448.0,749.8 L1456.0,751.8 L1464.0,753.8 L1472.0,755.7 L1480.0,757.6 L1488.0,759.5 L1496.0,761.3 L1504.0,763.1 L1512.0,764.8 L1520.0,766.5 L1528.0,768.2 L1536.0,769.8 L1544.0,771.4 L1552.0,773.0 L1560.0,774.5 L1568.0,776.0 L1576.0,777.5 L1584.0,778.9 L1592.0,780.3 L1600.0,781.6 L1608.0,782.9 L1616.0,784.2 L1624.0,785.5 L1632.0,786.7 L1640.0,787.8 L1648.0,789.0 L1656.0,790.1 L1664.0,791.1 L1672.0,792.2 L1680.0,793.2 L1688.0,794.1 L1696.0,795.0 L1704.0,795.8 L1712.0,796.7 L1720.0,797.4 L1728.0,798.1 L1736.0,798.8 L1744.0,799.4 L1752.0,800.1 L1760.0,800.6 L1768.0,801.2 L1776.0,801.7 L1784.0,802.3 L1792.0,802.8 L1800.0,803.3 L1808.0,803.8 L1816.0,804.3 L1824.0,804.9 L1832.0,805.4 L1840.0,805.9 L1848.0,806.4 L1856.0,806.8 L1864.0,807.3 L1872.0,807.8 L1880.0,808.2 L1888.0,808.7 L1896.0,809.1 L1904.0,809.5 L1912.0,809.9 L1920.0,810.2 L1928.0,810.6 L1936.0,810.9 L1944.0,811.2 L1952.0,811.5 L1960.0,811.8 L1968.0,812.0 L1976.0,812.2 L1984.0,812.4 L1992.0,812.5 L1992.0,819.6 L1984.0,819.4 L1976.0,819.3 L1968.0,819.1 L1960.0,818.8 L1952.0,818.6 L1944.0,818.3 L1936.0,818.0 L1928.0,817.7 L1920.0,817.3 L1912.0,817.0 L1904.0,816.6 L1896.0,816.2 L1888.0,815.8 L1880.0,815.3 L1872.0,814.9 L1864.0,814.4 L1856.0,814.0 L1848.0,813.5 L1840.0,813.0 L1832.0,812.5 L1824.0,812.0 L1816.0,811.5 L1808.0,811.0 L1800.0,810.5 L1792.0,810.0 L1784.0,809.5 L1776.0,808.9 L1768.0,808.4 L1760.0,807.9 L1752.0,807.3 L1744.0,806.7 L1736.0,806.1 L1728.0,805.4 L1720.0,804.7 L1712.0,803.9 L1704.0,803.1 L1696.0,802.3 L1688.0,801.4 L1680.0,800.5 L1672.0,799.5 L1664.0,798.5 L1656.0,797.4 L1648.0,796.3 L1640.0,795.2 L1632.0,794.0 L1624.0,792.9 L1616.0,791.6 L1608.0,790.4 L1600.0,789.1 L1592.0,787.7 L1584.0,786.4 L1576.0,785.0 L1568.0,783.5 L1560.0,782.0 L1552.0,780.5 L1544.0,779.0 L1536.0,777.4 L1528.0,775.8 L1520.0,774.2 L1512.0,772.5 L1504.0,770.8 L1496.0,769.0 L1488.0,767.2 L1480.0,765.4 L1472.0,763.5 L1464.0,761.6 L1456.0,759.7 L1448.0,757.7 L1440.0,755.6 L1432.0,753.6 L1424.0,751.4 L1416.0,749.3 L1408.0,747.0 L1400.0,744.7 L1392.0,742.4 L1384.0,740.0 L1376.0,737.6 L1368.0,735.0 L1360.0,732.5 L1352.0,729.8 L1344.0,727.1 L1336.0,724.4 L1328.0,721.5 L1320.0,718.7 L1312.0,715.7 L1304.0,712.8 L1296.0,709.8 L1288.0,706.8 L1280.0,703.7 L1272.0,700.6 L1264.0,697.5 L1256.0,694.4 L1248.0,691.2 L1240.0,687.9 L1232.0,684.7 L1224.0,681.3 L1216.0,678.0 L1208.0,674.6 L1200.0,671.1 L1192.0,667.5 L1184.0,663.9 L1176.0,660.2 L1168.0,656.5 L1160.0,652.6 L1152.0,648.7 L1144.0,644.8 L1136.0,640.8 L1128.0,636.7 L1120.0,632.7 L1112.0,628.5 L1104.0,624.4 L1096.0,620.2 L1088.0,616.1 L1080.0,612.0 L1072.0,607.8 L1064.0,603.8 L1056.0,599.7 L1048.0,595.6 L1040.0,591.5 L1032.0,587.4 L1024.0,583.4 L1016.0,579.3 L1008.0,575.2 L1000.0,571.1 L992.0,566.9 L984.0,562.8 L976.0,558.6 L968.0,554.4 L960.0,550.2 L952.0,546.0 L944.0,541.8 L936.0,537.6 L928.0,533.5 L920.0,529.4 L912.0,525.3 L904.0,521.3 L896.0,517.3 L888.0,513.4 L880.0,509.6 L872.0,505.9 L864.0,502.3 L856.0,498.9 L848.0,495.5 L840.0,492.3 L832.0,489.2 L824.0,486.2 L816.0,483.3 L808.0,480.5 L800.0,477.7 L792.0,475.1 L784.0,472.5 L776.0,470.0 L768.0,467.5 L760.0,465.2 L752.0,462.9 L744.0,460.7 L736.0,458.5 L728.0,456.5 L720.0,454.5 L712.0,452.6 L704.0,450.8 L696.0,449.1 L688.0,447.5 L680.0,446.0 L672.0,444.5 L664.0,443.2 L656.0,442.0 L648.0,440.9 L640.0,439.8 L632.0,438.9 L624.0,438.1 L616.0,437.4 L608.0,436.8 L600.0,436.3 L592.0,435.9 L584.0,435.6 L576.0,435.4 L568.0,435.3 L560.0,435.2 L552.0,435.3 L544.0,435.5 L536.0,435.7 L528.0,436.0 L520.0,436.5 L512.0,437.0 L504.0,437.5 L496.0,438.2 L488.0,438.9 L480.0,439.7 L472.0,440.6 L464.0,441.6 L456.0,442.7 L448.0,443.8 L440.0,445.0 L432.0,446.2 L424.0,447.6 L416.0,449.0 L408.0,450.4 L400.0,452.0 L392.0,453.6 L384.0,455.3 L376.0,457.0 L368.0,458.8 L360.0,460.7 L352.0,462.6 L344.0,464.6 L336.0,466.6 L328.0,468.6 L320.0,470.7 L312.0,472.9 L304.0,475.1 L296.0,477.3 L288.0,479.6 L280.0,481.9 L272.0,484.2 L264.0,486.6 L256.0,489.0 L248.0,491.4 L240.0,493.8 L232.0,496.3 L224.0,498.8 L216.0,501.3 L208.0,503.9 L200.0,506.4 L192.0,509.0 L184.0,511.5 L176.0,514.1 L168.0,516.6 L160.0,519.2 L152.0,521.7 L144.0,524.3 L136.0,526.8 L128.0,529.3Z" fill-opacity="0.141"/>
<path d="M128.0,518.1 L136.0,515.7 L144.0,513.2 L152.0,510.7 L160.0,508.2 L168.0,505.6 L176.0,503.1 L184.0,500.6 L192.0,498.0 L200.0,495.4 L208.0,492.9 L216.0,490.4 L224.0,487.8 L232.0,485.3 L240.0,482.7 L248.0,480.2 L256.0,477.7 L264.0,475.2 L272.0,472.8 L280.0,470.3 L288.0,467.9 L296.0,465.6 L304.0,463.2 L312.0,460.9 L320.0,458.7 L328.0,456.5 L336.0,454.3 L344.0,452.3 L352.0,450.2 L360.0,448.3 L368.0,446.4 L376.0,444.5 L384.0,442.8 L392.0,441.1 L400.0,439.5 L408.0,437.9 L416.0,436.5 L424.0,435.0 L432.0,433.7 L440.0,432.4 L448.0,431.2 L456.0,430.1 L464.0,429.1 L472.0,428.1 L480.0,427.2 L488.0,426.4 L496.0,425.6 L504.0,425.0 L512.0,424.4 L520.0,423.9 L528.0,423.5 L536.0,423.1 L544.0,422.9 L552.0,422.7 L560.0,422.7 L568.0,422.7 L576.0,422.8 L584.0,423.0 L592.0,423.3 L600.0,423.6 L608.0,424.1 L616.0,424.7 L624.0,425.4 L632.0,426.2 L640.0,427.1 L648.0,428.1 L656.0,429.3 L664.0,430.5 L672.0,431.8 L680.0,433.3 L688.0,434.8 L696.0,436.5 L704.0,438.2 L712.0,440.0 L720.0,441.9 L728.0,444.0 L736.0,446.0 L744.0,448.2 L752.0,450.5 L760.0,452.8 L768.0,455.2 L776.0,457.7 L784.0,460.3 L792.0,462.9 L800.0,465.7 L808.0,468.5 L816.0,471.4 L824.0,474.4 L832.0,477.5 L840.0,480.6 L848.0,483.9 L856.0,487.3 L864.0,490.8 L872.0,494.4 L880.0,498.2 L888.0,502.0 L896.0,505.9 L904.0,509.9 L912.0,514.0 L920.0,518.1 L928.0,522.2 L936.0,526.4 L944.0,530.6 L952.0,534.9 L960.0,539.1 L968.0,543.3 L976.0,547.6 L984.0,551.8 L992.0,556.0 L1000.0,560.2 L1008.0,564.4 L1016.0,568.6 L1024.0,572.8 L1032.0,576.9 L1040.0,581.1 L1048.0,585.3 L1056.0,589.4 L1064.0,593.6 L1072.0,597.8 L1080.0,601.9 L1088.0,606.1 L1096.0,610.3 L1104.0,614.6 L1112.0,618.8 L1120.0,622.9 L1128.0,627.1 L1136.0,631.2 L1144.0,635.3 L1152.0,639.3 L1160.0,643.2 L1168.0,647.1 L1176.0,650.9 L1184.0,654.6 L1192.0,658.3 L1200.0,661.9 L1208.0,665.4 L1216.0,668.9 L1224.0,672.3 L1232.0,675.7 L1240.0,679.0 L1248.0,682.3 L1256.0,685.5 L1264.0,688.7 L1272.0,691.9 L1280.0,695.0 L1288.0,698.1 L1296.0,701.2 L1304.0,704.2 L1312.0,707.2 L1320.0,710.2 L1328.0,713.1 L1336.0,715.9 L1344.0,718.8 L1352.0,721.5 L1360.0,724.2 L1368.0,726.8 L1376.0,729.4 L1384.0,731.8 L1392.0,734.3 L1400.0,736.7 L1408.0,739.0 L1416.0,741.3 L1424.0,743.5 L1432.0,745.6 L1440.0,747.7 L1448.0,749.8 L1456.0,751.8 L1464.0,753.8 L1472.0,755.8 L1480.0,757.7 L1488.0,759.5 L1496.0,761.3 L1504.0,763.1 L1512.0,764.9 L1520.0,766.6 L1528.0,768.2 L1536.0,769.9 L1544.0,771.5 L1552.0,773.0 L1560.0,774.6 L1568.0,776.0 L1576.0,777.5 L1584.0,778.9 L1592.0,780.3 L1600.0,781.6 L1608.0,783.0 L1616.0,784.2 L1624.0,785.5 L1632.0,786.7 L1640.0,787.9 L1648.0,789.0 L1656.0,790.1 L1664.0,791.2 L1672.0,792.2 L1680.0,793.2 L1688.0,794.1 L1696.0,795.0 L1704.0,795.9 L1712.0,796.7 L1720.0,797.4 L1728.0,798.1 L1736.0,798.8 L1744.0,799.5 L1752.0,800.1 L1760.0,800.7 L1768.0,801.2 L1776.0,801.8 L1784.0,802.3 L1792.0,802.8 L1800.0,803.3 L1808.0,803.8 L1816.0,804.4 L1824.0,804.9 L1832.0,805.4 L1840.0,805.9 L1848.0,806.4 L1856.0,806.8 L1864.0,807.3 L1872.0,807.8 L1880.0,808.2 L1888.0,808.7 L1896.0,809.1 L1904.0,809.5 L1912.0,809.9 L1920.0,810.2 L1928.0,810.6 L1936.0,810.9 L1944.0,811.2 L1952.0,811.5 L1960.0,811.8 L1968.0,812.0 L1976.0,812.2 L1984.0,812.4 L1992.0,812.5 L1992.0,819.6 L1984.0,819.4 L1976.0,819.3 L1968.0,819.1 L1960.0,818.8 L1952.0,818.6 L1944.0,818.3 L1936.0,818.0 L1928.0,817.7 L1920.0,817.3 L1912.0,817.0 L1904.0,816.6 L1896.0,816.2 L1888.0,815.8 L1880.0,815.3 L1872.0,814.9 L1864.0,814.4 L1856.0,814.0 L1848.0,813.5 L1840.0,813.0 L1832.0,812.5 L1824.0,812.0 L1816.0,811.5 L1808.0,811.0 L1800.0,810.5 L1792.0,810.0 L1784.0,809.4 L1776.0,808.9 L1768.0,808.4 L1760.0,807.8 L1752.0,807.3 L1744.0,806.7 L1736.0,806.0 L1728.0,805.4 L1720.0,804.7 L1712.0,803.9 L1704.0,803.1 L1696.0,802.3 L1688.0,801.4 L1680.0,800.4 L1672.0,799.5 L1664.0,798.5 L1656.0,797.4 L1648.0,796.3 L1640.0,795.2 L1632.0,794.0 L1624.0,792.8 L1616.0,791.6 L1608.0,790.3 L1600.0,789.0 L1592.0,787.7 L1584.0,786.3 L1576.0,784.9 L1568.0,783.5 L1560.0,782.0 L1552.0,780.5 L1544.0,779.0 L1536.0,777.4 L1528.0,775.8 L1520.0,774.1 L1512.0,772.4 L1504.0,770.7 L1496.0,768.9 L1488.0,767.1 L1480.0,765.3 L1472.0,763.4 L1464.0,761.5 L1456.0,759.6 L1448.0,757.6 L1440.0,755.6 L1432.0,753.5 L1424.0,751.3 L1416.0,749.2 L1408.0,746.9 L1400.0,744.7 L1392.0,742.3 L1384.0,739.9 L1376.0,737.5 L1368.0,734.9 L1360.0,732.4 L1352.0,729.7 L1344.0,727.0 L1336.0,724.2 L1328.0,721.4 L1320.0,718.5 L1312.0,715.6 L1304.0,712.7 L1296.0,709.7 L1288.0,706.6 L1280.0,703.6 L1272.0,700.5 L1264.0,697.4 L1256.0,694.2 L1248.0,691.0 L1240.0,687.8 L1232.0,684.5 L1224.0,681.2 L1216.0,677.8 L1208.0,674.4 L1200.0,670.9 L1192.0,667.3 L1184.0,663.7 L1176.0,660.0 L1168.0,656.3 L1160.0,652.4 L1152.0,648.5 L1144.0,644.6 L1136.0,640.6 L1128.0,636.5 L1120.0,632.4 L1112.0,628.3 L1104.0,624.2 L1096.0,620.0 L1088.0,615.9 L1080.0,611.7 L1072.0,607.6 L1064.0,603.5 L1056.0,599.4 L1048.0,595.3 L1040.0,591.2 L1032.0,587.2 L1024.0,583.1 L1016.0,579.0 L1008.0,574.9 L1000.0,570.7 L992.0,566.6 L984.0,562.4 L976.0,558.3 L968.0,554.1 L960.0,549.9 L952.0,545.7 L944.0,541.5 L936.0,537.3 L928.0,533.1 L920.0,529.0 L912.0,524.9 L904.0,520.9 L896.0,517.0 L888.0,513.1 L880.0,509.3 L872.0,505.6 L864.0,502.0 L856.0,498.5 L848.0,495.2 L840.0,491.9 L832.0,488.8 L824.0,485.8 L816.0,482.9 L808.0,480.0 L800.0,477.3 L792.0,474.6 L784.0,472.0 L776.0,469.5 L768.0,467.1 L760.0,464.7 L752.0,462.4 L744.0,460.2 L736.0,458.1 L728.0,456.0 L720.0,454.0 L712.0,452.2 L704.0,450.4 L696.0,448.6 L688.0,447.0 L680.0,445.5 L672.0,444.1 L664.0,442.7 L656.0,441.5 L648.0,440.4 L640.0,439.4 L632.0,438.5 L624.0,437.7 L616.0,436.9 L608.0,436.3 L600.0,435.8 L592.0,435.4 L584.0,435.1 L576.0,434.9 L568.0,434.8 L560.0,434.8 L552.0,434.8 L544.0,435.0 L536.0,435.2 L528.0,435.6 L520.0,436.0 L512.0,436.5 L504.0,437.1 L496.0,437.7 L488.0,438.5 L480.0,439.3 L472.0,440.2 L464.0,441.1 L456.0,442.2 L448.0,443.3 L440.0,444.5 L432.0,445.7 L424.0,447.1 L416.0,448.5 L408.0,450.0 L400.0,451.5 L392.0,453.1 L384.0,454.8 L376.0,456.5 L368.0,458.3 L360.0,460.2 L352.0,462.1 L344.0,464.1 L336.0,466.1 L328.0,468.2 L320.0,470.3 L312.0,472.4 L304.0,474.6 L296.0,476.9 L288.0,479.1 L280.0,481.4 L272.0,483.8 L264.0,486.2 L256.0,488.6 L248.0,491.0 L240.0,493.5 L232.0,496.0 L224.0,498.5 L216.0,501.0 L208.0,503.5 L200.0,506.1 L192.0,508.6 L184.0,511.2 L176.0,513.8 L168.0,516.3 L160.0,518.9 L152.0,521.4 L144.0,523.9 L136.0,526.4 L128.0,528.9Z" fill-opacity="0.141"/>
<path d="M128.0,518.4 L136.0,515.9 L144.0,513.4 L152.0,510.9 L160.0,508.4 L168.0,505.9 L176.0,503.3 L184.0,500.8 L192.0,498.2 L200.0,495.7 L208.0,493.1 L216.0,490.6 L224.0,488.0 L232.0,485.5 L240.0,482.9 L248.0,480.4 L256.0,477.9 L264.0,475.4 L272.0,473.0 L280.0,470.6 L288.0,468.2 L296.0,465.8 L304.0,463.5 L312.0,461.2 L320.0,458.9 L328.0,456.7 L336.0,454.6 L344.0,452.5 L352.0,450.5 L360.0,448.5 L368.0,446.7 L376.0,444.8 L384.0,443.1 L392.0,441.4 L400.0,439.8 L408.0,438.2 L416.0,436.7 L424.0,435.3 L432.0,434.0 L440.0,432.7 L448.0,431.5 L456.0,430.4 L464.0,429.4 L472.0,428.4 L480.0,427.5 L488.0,426.7 L496.0,425.9 L504.0,425.3 L512.0,424.7 L520.0,424.2 L528.0,423.8 L536.0,423.5 L544.0,423.2 L552.0,423.0 L560.0,423.0 L568.0,423.0 L576.0,423.1 L584.0,423.3 L592.0,423.6 L600.0,424.0 L608.0,424.5 L616.0,425.1 L624.0,425.7 L632.0,426.5 L640.0,427.5 L648.0,428.5 L656.0,429.6 L664.0,430.8 L672.0,432.2 L680.0,433.6 L688.0,435.2 L696.0,436.8 L704.0,438.5 L712.0,440.4 L720.0,442.3 L728.0,444.3 L736.0,446.4 L744.0,448.5 L752.0,450.8 L760.0,453.1 L768.0,455.5 L776.0,458.0 L784.0,460.6 L792.0,463.2 L800.0,466.0 L808.0,468.8 L816.0,471.7 L824.0,474.7 L832.0,477.7 L840.0,480.9 L848.0,484.2 L856.0,487.6 L864.0,491.1 L872.0,494.7 L880.0,498.4 L888.0,502.3 L896.0,506.2 L904.0,510.2 L912.0,514.2 L920.0,518.3 L928.0,522.5 L936.0,526.7 L944.0,530.9 L952.0,535.1 L960.0,539.3 L968.0,543.6 L976.0,547.8 L984.0,552.0 L992.0,556.3 L1000.0,560.5 L1008.0,564.6 L1016.0,568.8 L1024.0,573.0 L1032.0,577.1 L1040.0,581.3 L1048.0,585.4 L1056.0,589.6 L1064.0,593.8 L1072.0,597.9 L1080.0,602.1 L1088.0,606.3 L1096.0,610.5 L1104.0,614.7 L1112.0,618.9 L1120.0,623.1 L1128.0,627.3 L1136.0,631.4 L1144.0,635.4 L1152.0,639.4 L1160.0,643.3 L1168.0,647.2 L1176.0,651.0 L1184.0,654.8 L1192.0,658.4 L1200.0,662.0 L1208.0,665.5 L1216.0,669.0 L1224.0,672.4 L1232.0,675.8 L1240.0,679.1 L1248.0,682.4 L1256.0,685.6 L1264.0,688.8 L1272.0,692.0 L1280.0,695.1 L1288.0,698.2 L1296.0,701.3 L1304.0,704.3 L1312.0,707.3 L1320.0,710.3 L1328.0,713.2 L1336.0,716.0 L1344.0,718.8 L1352.0,721.6 L1360.0,724.3 L1368.0,726.9 L1376.0,729.4 L1384.0,731.9 L1392.0,734.3 L1400.0,736.7 L1408.0,739.0 L1416.0,741.3 L1424.0,743.5 L1432.0,745.7 L1440.0,747.8 L1448.0,749.9 L1456.0,751.9 L1464.0,753.9 L1472.0,755.8 L1480.0,757.7 L1488.0,759.6 L1496.0,761.4 L1504.0,763.2 L1512.0,764.9 L1520.0,766.6 L1528.0,768.3 L1536.0,769.9 L1544.0,771.5 L1552.0,773.1 L1560.0,774.6 L1568.0,776.1 L1576.0,777.5 L1584.0,778.9 L1592.0,780.3 L1600.0,781.7 L1608.0,783.0 L1616.0,784.3 L1624.0,785.5 L1632.0,786.7 L1640.0,787.9 L1648.0,789.0 L1656.0,790.1 L1664.0,791.2 L1672.0,792.2 L1680.0,793.2 L1688.0,794.1 L1696.0,795.0 L1704.0,795.9 L1712.0,796.7 L1720.0,797.4 L1728.0,798.2 L1736.0,798.8 L1744.0,799.5 L1752.0,800.1 L1760.0,800.7 L1768.0,801.2 L1776.0,801.8 L1784.0,802.3 L1792.0,802.8 L1800.0,803.3 L1808.0,803.9 L1816.0,804.4 L1824.0,804.9 L1832.0,805.4 L1840.0,805.9 L1848.0,806.4 L1856.0,806.9 L1864.0,807.3 L1872.0,807.8 L1880.0,808.2 L1888.0,808.7 L1896.0,809.1 L1904.0,809.5 L1912.0,809.9 L1920.0,810.3 L1928.0,810.6 L1936.0,810.9 L1944.0,811.2 L1952.0,811.5 L1960.0,811.8 L1968.0,812.0 L1976.0,812.2 L1984.0,812.4 L1992.0,812.5 L1992.0,819.6 L1984.0,819.4 L1976.0,819.3 L1968.0,819.1 L1960.0,818.8 L1952.0,818.6 L1944.0,818.3 L1936.0,818.0 L1928.0,817.7 L1920.0,817.3 L1912.0,816.9 L1904.0,816.6 L1896.0,816.2 L1888.0,815.7 L1880.0,815.3 L1872.0,814.9 L1864.0,814.4 L1856.0,813.9 L1848.0,813.5 L1840.0,813.0 L1832.0,812.5 L1824.0,812.0 L1816.0,811.5 L1808.0,811.0 L1800.0,810.5 L1792.0,809.9 L1784.0,809.4 L1776.0,808.9 L1768.0,808.4 L1760.0,807.8 L1752.0,807.2 L1744.0,806.6 L1736.0,806.0 L1728.0,805.3 L1720.0,804.6 L1712.0,803.9 L1704.0,803.1 L1696.0,802.2 L1688.0,801.3 L1680.0,800.4 L1672.0,799.4 L1664.0,798.4 L1656.0,797.4 L1648.0,796.3 L1640.0,795.2 L1632.0,794.0 L1624.0,792.8 L1616.0,791.6 L1608.0,790.3 L1600.0,789.0 L1592.0,787.7 L1584.0,786.3 L1576.0,784.9 L1568.0,783.4 L1560.0,782.0 L1552.0,780.5 L1544.0,778.9 L1536.0,777.3 L1528.0,775.7 L1520.0,774.1 L1512.0,772.4 L1504.0,770.7 L1496.0,768.9 L1488.0,767.1 L1480.0,765.3 L1472.0,763.4 L1464.0,761.5 L1456.0,759.5 L1448.0,757.5 L1440.0,755.5 L1432.0,753.4 L1424.0,751.3 L1416.0,749.1 L1408.0,746.9 L1400.0,744.6 L1392.0,742.2 L1384.0,739.8 L1376.0,737.4 L1368.0,734.9 L1360.0,732.3 L1352.0,729.6 L1344.0,726.9 L1336.0,724.1 L1328.0,721.3 L1320.0,718.4 L1312.0,715.5 L1304.0,712.6 L1296.0,709.5 L1288.0,706.5 L1280.0,703.4 L1272.0,700.4 L1264.0,697.2 L1256.0,694.1 L1248.0,690.9 L1240.0,687.6 L1232.0,684.4 L1224.0,681.0 L1216.0,677.7 L1208.0,674.2 L1200.0,670.7 L1192.0,667.2 L1184.0,663.6 L1176.0,659.9 L1168.0,656.1 L1160.0,652.3 L1152.0,648.4 L1144.0,644.4 L1136.0,640.4 L1128.0,636.4 L1120.0,632.3 L1112.0,628.1 L1104.0,624.0 L1096.0,619.8 L1088.0,615.6 L1080.0,611.5 L1072.0,607.4 L1064.0,603.3 L1056.0,599.2 L1048.0,595.1 L1040.0,591.0 L1032.0,586.9 L1024.0,582.8 L1016.0,578.7 L1008.0,574.6 L1000.0,570.5 L992.0,566.3 L984.0,562.2 L976.0,558.0 L968.0,553.8 L960.0,549.6 L952.0,545.4 L944.0,541.2 L936.0,537.0 L928.0,532.8 L920.0,528.7 L912.0,524.6 L904.0,520.6 L896.0,516.6 L888.0,512.7 L880.0,508.9 L872.0,505.2 L864.0,501.6 L856.0,498.2 L848.0,494.8 L840.0,491.6 L832.0,488.5 L824.0,485.5 L816.0,482.5 L808.0,479.7 L800.0,476.9 L792.0,474.3 L784.0,471.7 L776.0,469.2 L768.0,466.7 L760.0,464.3 L752.0,462.0 L744.0,459.8 L736.0,457.7 L728.0,455.6 L720.0,453.7 L712.0,451.8 L704.0,450.0 L696.0,448.3 L688.0,446.6 L680.0,445.1 L672.0,443.7 L664.0,442.3 L656.0,441.1 L648.0,440.0 L640.0,439.0 L632.0,438.1 L624.0,437.3 L616.0,436.6 L608.0,435.9 L600.0,435.4 L592.0,435.0 L584.0,434.7 L576.0,434.5 L568.0,434.4 L560.0,434.4 L552.0,434.4 L544.0,434.6 L536.0,434.8 L528.0,435.2 L520.0,435.6 L512.0,436.1 L504.0,436.7 L496.0,437.3 L488.0,438.0 L480.0,438.9 L472.0,439.8 L464.0,440.7 L456.0,441.8 L448.0,442.9 L440.0,444.1 L432.0,445.3 L424.0,446.7 L416.0,448.1 L408.0,449.5 L400.0,451.1 L392.0,452.7 L384.0,454.4 L376.0,456.1 L368.0,457.9 L360.0,459.8 L352.0,461.7 L344.0,463.7 L336.0,465.7 L328.0,467.8 L320.0,469.9 L312.0,472.1 L304.0,474.3 L296.0,476.5 L288.0,478.8 L280.0,481.1 L272.0,483.5 L264.0,485.8 L256.0,488.3 L248.0,490.7 L240.0,493.2 L232.0,495.6 L224.0,498.2 L216.0,500.7 L208.0,503.2 L200.0,505.8 L192.0,508.3 L184.0,510.9 L176.0,513.5 L168.0,516.0 L160.0,518.6 L152.0,521.1 L144.0,523.6 L136.0,526.1 L128.0,528.6Z" fill-opacity="0.141"/>
</g>
<g clip-path="url(#cw)" fill="#ffa500">
<path d="M128.0,507.3 L136.0,504.9 L144.0,502.6 L152.0,500.3 L160.0,498.0 L168.0,495.6 L176.0,493.2 L184.0,490.7 L192.0,488.3 L200.0,485.8 L208.0,483.3 L216.0,480.8 L224.0,478.3 L232.0,475.7 L240.0,473.1 L248.0,470.5 L256.0,467.8 L264.0,465.1 L272.0,462.4 L280.0,459.8 L288.0,457.1 L296.0,454.5 L304.0,451.9 L312.0,449.3 L320.0,446.8 L328.0,444.4 L336.0,442.0 L344.0,439.7 L352.0,437.5 L360.0,435.4 L368.0,433.4 L376.0,431.6 L384.0,429.8 L392.0,428.0 L400.0,426.4 L408.0,424.8 L416.0,423.2 L424.0,421.7 L432.0,420.3 L440.0,419.0 L448.0,417.7 L456.0,416.5 L464.0,415.4 L472.0,414.3 L480.0,413.3 L488.0,412.4 L496.0,411.6 L504.0,410.9 L512.0,410.2 L520.0,409.6 L528.0,409.1 L536.0,408.7 L544.0,408.3 L552.0,408.1 L560.0,408.0 L568.0,407.9 L576.0,407.9 L584.0,408.0 L592.0,408.2 L600.0,408.5 L608.0,408.9 L616.0,409.4 L624.0,410.0 L632.0,410.7 L640.0,411.6 L648.0,412.6 L656.0,413.7 L664.0,415.0 L672.0,416.3 L680.0,417.9 L688.0,419.5 L696.0,421.2 L704.0,423.1 L712.0,425.0 L720.0,427.1 L728.0,429.2 L736.0,431.4 L744.0,433.8 L752.0,436.2 L760.0,438.6 L768.0,441.2 L776.0,443.8 L784.0,446.6 L792.0,449.5 L800.0,452.4 L808.0,455.5 L816.0,458.7 L824.0,461.9 L832.0,465.2 L840.0,468.5 L848.0,471.9 L856.0,475.4 L864.0,479.0 L872.0,482.7 L880.0,486.5 L888.0,490.4 L896.0,494.4 L904.0,498.5 L912.0,502.6 L920.0,506.8 L928.0,511.0 L936.0,515.2 L944.0,519.5 L952.0,523.8 L960.0,528.2 L968.0,532.5 L976.0,536.9 L984.0,541.2 L992.0,545.6 L1000.0,549.9 L1008.0,554.3 L1016.0,558.7 L1024.0,563.1 L1032.0,567.5 L1040.0,571.8 L1048.0,576.2 L1056.0,580.6 L1064.0,585.0 L1072.0,589.4 L1080.0,593.8 L1088.0,598.1 L1096.0,602.5 L1104.0,606.9 L1112.0,611.3 L1120.0,615.6 L1128.0,619.9 L1136.0,624.1 L1144.0,628.4 L1152.0,632.5 L1160.0,636.6 L1168.0,640.6 L1176.0,644.6 L1184.0,648.4 L1192.0,652.2 L1200.0,656.0 L1208.0,659.6 L1216.0,663.3 L1224.0,666.8 L1232.0,670.3 L1240.0,673.7 L1248.0,677.1 L1256.0,680.5 L1264.0,683.8 L1272.0,687.1 L1280.0,690.4 L1288.0,693.6 L1296.0,696.8 L1304.0,699.9 L1312.0,703.1 L1320.0,706.1 L1328.0,709.2 L1336.0,712.1 L1344.0,715.1 L1352.0,717.9 L1360.0,720.7 L1368.0,723.5 L1376.0,726.1 L1384.0,728.7 L1392.0,731.3 L1400.0,733.8 L1408.0,736.2 L1416.0,738.6 L1424.0,740.9 L1432.0,743.2 L1440.0,745.4 L1448.0,747.6 L1456.0,749.7 L1464.0,751.8 L1472.0,753.8 L1480.0,755.8 L1488.0,757.7 L1496.0,759.6 L1504.0,761.5 L1512.0,763.3 L1520.0,765.0 L1528.0,766.8 L1536.0,768.5 L1544.0,770.1 L1552.0,771.7 L1560.0,773.3 L1568.0,774.8 L1576.0,776.3 L1584.0,777.8 L1592.0,779.2 L1600.0,780.6 L1608.0,781.9 L1616.0,783.3 L1624.0,784.5 L1632.0,785.8 L1640.0,787.0 L1648.0,788.2 L1656.0,789.3 L1664.0,790.4 L1672.0,791.4 L1680.0,792.4 L1688.0,793.4 L1696.0,794.3 L1704.0,795.2 L1712.0,796.0 L1720.0,796.8 L1728.0,797.5 L1736.0,798.2 L1744.0,798.9 L1752.0,799.5 L1760.0,800.1 L1768.0,800.7 L1776.0,801.3 L1784.0,801.8 L1792.0,802.3 L1800.0,802.9 L1808.0,803.4 L1816.0,804.0 L1824.0,804.5 L1832.0,805.0 L1840.0,805.5 L1848.0,806.0 L1856.0,806.5 L1864.0,807.0 L1872.0,807.5 L1880.0,808.0 L1888.0,808.4 L1896.0,808.8 L1904.0,809.2 L1912.0,809.6 L1920.0,810.0 L1928.0,810.4 L1936.0,810.7 L1944.0,811.0 L1952.0,811.3 L1960.0,811.6 L1968.0,811.8 L1976.0,812.0 L1984.0,812.2 L1992.0,812.4 L1992.0,819.8 L1984.0,819.6 L1976.0,819.4 L1968.0,819.2 L1960.0,819.0 L1952.0,818.8 L1944.0,818.5 L1936.0,818.2 L1928.0,817.9 L1920.0,817.5 L1912.0,817.2 L1904.0,816.8 L1896.0,816.4 L1888.0,816.0 L1880.0,815.6 L1872.0,815.2 L1864.0,814.8 L1856.0,814.3 L1848.0,813.9 L1840.0,813.4 L1832.0,812.9 L1824.0,812.5 L1816.0,812.0 L1808.0,811.5 L1800.0,811.0 L1792.0,810.5 L1784.0,810.0 L1776.0,809.5 L1768.0,809.0 L1760.0,808.5 L1752.0,807.9 L1744.0,807.4 L1736.0,806.8 L1728.0,806.1 L1720.0,805.5 L1712.0,804.7 L1704.0,804.0 L1696.0,803.1 L1688.0,802.3 L1680.0,801.4 L1672.0,800.4 L1664.0,799.5 L1656.0,798.5 L1648.0,797.4 L1640.0,796.3 L1632.0,795.2 L1624.0,794.0 L1616.0,792.9 L1608.0,791.6 L1600.0,790.4 L1592.0,789.1 L1584.0,787.8 L1576.0,786.4 L1568.0,785.1 L1560.0,783.6 L1552.0,782.2 L1544.0,780.7 L1536.0,779.2 L1528.0,777.6 L1520.0,776.1 L1512.0,774.4 L1504.0,772.8 L1496.0,771.1 L1488.0,769.4 L1480.0,767.7 L1472.0,765.9 L1464.0,764.1 L1456.0,762.2 L1448.0,760.4 L1440.0,758.4 L1432.0,756.5 L1424.0,754.5 L1416.0,752.4 L1408.0,750.3 L1400.0,748.2 L1392.0,745.9 L1384.0,743.7 L1376.0,741.3 L1368.0,739.0 L1360.0,736.5 L1352.0,734.0 L1344.0,731.4 L1336.0,728.8 L1328.0,726.1 L1320.0,723.3 L1312.0,720.5 L1304.0,717.7 L1296.0,714.8 L1288.0,711.9 L1280.0,709.0 L1272.0,706.1 L1264.0,703.1 L1256.0,700.1 L1248.0,697.0 L1240.0,694.0 L1232.0,690.8 L1224.0,687.7 L1216.0,684.4 L1208.0,681.2 L1200.0,677.8 L1192.0,674.4 L1184.0,671.0 L1176.0,667.4 L1168.0,663.8 L1160.0,660.2 L1152.0,656.5 L1144.0,652.7 L1136.0,648.9 L1128.0,645.0 L1120.0,641.1 L1112.0,637.1 L1104.0,633.2 L1096.0,629.2 L1088.0,625.2 L1080.0,621.3 L1072.0,617.4 L1064.0,613.6 L1056.0,609.8 L1048.0,606.0 L1040.0,602.1 L1032.0,598.3 L1024.0,594.5 L1016.0,590.7 L1008.0,586.9 L1000.0,583.0 L992.0,579.1 L984.0,575.1 L976.0,571.1 L968.0,567.1 L960.0,563.0 L952.0,559.0 L944.0,555.0 L936.0,550.9 L928.0,546.9 L920.0,542.9 L912.0,539.0 L904.0,535.1 L896.0,531.3 L888.0,527.5 L880.0,523.8 L872.0,520.3 L864.0,516.8 L856.0,513.5 L848.0,510.3 L840.0,507.2 L832.0,504.2 L824.0,501.4 L816.0,498.7 L808.0,496.1 L800.0,493.7 L792.0,491.2 L784.0,488.9 L776.0,486.5 L768.0,484.2 L760.0,482.0 L752.0,479.8 L744.0,477.7 L736.0,475.7 L728.0,473.7 L720.0,471.8 L712.0,470.0 L704.0,468.3 L696.0,466.6 L688.0,465.1 L680.0,463.6 L672.0,462.2 L664.0,460.9 L656.0,459.7 L648.0,458.6 L640.0,457.5 L632.0,456.6 L624.0,455.8 L616.0,455.1 L608.0,454.5 L600.0,454.0 L592.0,453.6 L584.0,453.3 L576.0,453.1 L568.0,453.0 L560.0,452.9 L552.0,453.0 L544.0,453.2 L536.0,453.5 L528.0,453.9 L520.0,454.4 L512.0,454.9 L504.0,455.5 L496.0,456.3 L488.0,457.1 L480.0,457.9 L472.0,458.9 L464.0,459.9 L456.0,461.0 L448.0,462.2 L440.0,463.4 L432.0,464.7 L424.0,466.1 L416.0,467.5 L408.0,469.0 L400.0,470.6 L392.0,472.2 L384.0,473.9 L376.0,475.6 L368.0,477.3 L360.0,479.1 L352.0,480.8 L344.0,482.6 L336.0,484.4 L328.0,486.1 L320.0,487.9 L312.0,489.7 L304.0,491.6 L296.0,493.5 L288.0,495.4 L280.0,497.3 L272.0,499.3 L264.0,501.3 L256.0,503.4 L248.0,505.6 L240.0,507.8 L232.0,510.1 L224.0,512.4 L216.0,514.9 L208.0,517.3 L200.0,519.8 L192.0,522.3 L184.0,524.8 L176.0,527.3 L168.0,529.8 L160.0,532.3 L152.0,534.8 L144.0,537.3 L136.0,539.8 L128.0,542.3Z" fill-opacity="0.205"/>
<path d="M128.0,509.1 L136.0,506.7 L144.0,504.4 L152.0,502.0 L160.0,499.6 L168.0,497.2 L176.0,494.8 L184.0,492.4 L192.0,489.9 L200.0,487.4 L208.0,484.9 L216.0,482.4 L224.0,479.9 L232.0,477.3 L240.0,474.7 L248.0,472.1 L256.0,469.4 L264.0,466.8 L272.0,464.1 L280.0,461.5 L288.0,458.9 L296.0,456.3 L304.0,453.7 L312.0,451.2 L320.0,448.8 L328.0,446.4 L336.0,444.0 L344.0,441.8 L352.0,439.6 L360.0,437.5 L368.0,435.6 L376.0,433.7 L384.0,431.9 L392.0,430.2 L400.0,428.5 L408.0,426.9 L416.0,425.4 L424.0,423.9 L432.0,422.5 L440.0,421.2 L448.0,419.9 L456.0,418.7 L464.0,417.6 L472.0,416.6 L480.0,415.6 L488.0,414.7 L496.0,413.9 L504.0,413.2 L512.0,412.5 L520.0,411.9 L528.0,411.5 L536.0,411.1 L544.0,410.7 L552.0,410.5 L560.0,410.4 L568.0,410.3 L576.0,410.4 L584.0,410.5 L592.0,410.7 L600.0,411.0 L608.0,411.4 L616.0,411.9 L624.0,412.5 L632.0,413.3 L640.0,414.1 L648.0,415.1 L656.0,416.2 L664.0,417.5 L672.0,418.9 L680.0,420.4 L688.0,422.0 L696.0,423.7 L704.0,425.6 L712.0,427.5 L720.0,429.5 L728.0,431.6 L736.0,433.8 L744.0,436.1 L752.0,438.5 L760.0,441.0 L768.0,443.5 L776.0,446.1 L784.0,448.8 L792.0,451.7 L800.0,454.6 L808.0,457.7 L816.0,460.8 L824.0,463.9 L832.0,467.2 L840.0,470.5 L848.0,473.9 L856.0,477.3 L864.0,480.9 L872.0,484.6 L880.0,488.4 L888.0,492.3 L896.0,496.3 L904.0,500.4 L912.0,504.5 L920.0,508.6 L928.0,512.8 L936.0,517.1 L944.0,521.3 L952.0,525.6 L960.0,530.0 L968.0,534.3 L976.0,538.6 L984.0,543.0 L992.0,547.3 L1000.0,551.6 L1008.0,556.0 L1016.0,560.3 L1024.0,564.7 L1032.0,569.0 L1040.0,573.4 L1048.0,577.7 L1056.0,582.1 L1064.0,586.4 L1072.0,590.8 L1080.0,595.1 L1088.0,599.5 L1096.0,603.8 L1104.0,608.2 L1112.0,612.5 L1120.0,616.8 L1128.0,621.1 L1136.0,625.3 L1144.0,629.5 L1152.0,633.6 L1160.0,637.7 L1168.0,641.7 L1176.0,645.6 L1184.0,649.5 L1192.0,653.2 L1200.0,656.9 L1208.0,660.6 L1216.0,664.2 L1224.0,667.7 L1232.0,671.2 L1240.0,674.6 L1248.0,678.0 L1256.0,681.3 L1264.0,684.6 L1272.0,687.9 L1280.0,691.1 L1288.0,694.3 L1296.0,697.5 L1304.0,700.6 L1312.0,703.7 L1320.0,706.8 L1328.0,709.8 L1336.0,712.8 L1344.0,715.7 L1352.0,718.5 L1360.0,721.3 L1368.0,724.0 L1376.0,726.7 L1384.0,729.2 L1392.0,731.8 L1400.0,734.3 L1408.0,736.7 L1416.0,739.0 L1424.0,741.3 L1432.0,743.6 L1440.0,745.8 L1448.0,748.0 L1456.0,750.1 L1464.0,752.1 L1472.0,754.1 L1480.0,756.1 L1488.0,758.0 L1496.0,759.9 L1504.0,761.7 L1512.0,763.5 L1520.0,765.3 L1528.0,767.0 L1536.0,768.7 L1544.0,770.3 L1552.0,771.9 L1560.0,773.5 L1568.0,775.0 L1576.0,776.5 L1584.0,778.0 L1592.0,779.4 L1600.0,780.8 L1608.0,782.1 L1616.0,783.4 L1624.0,784.7 L1632.0,785.9 L1640.0,787.1 L1648.0,788.3 L1656.0,789.4 L1664.0,790.5 L1672.0,791.6 L1680.0,792.6 L1688.0,793.5 L1696.0,794.4 L1704.0,795.3 L1712.0,796.1 L1720.0,796.9 L1728.0,797.6 L1736.0,798.3 L1744.0,799.0 L1752.0,799.6 L1760.0,800.2 L1768.0,800.8 L1776.0,801.3 L1784.0,801.9 L1792.0,802.4 L1800.0,803.0 L1808.0,803.5 L1816.0,804.0 L1824.0,804.5 L1832.0,805.1 L1840.0,805.6 L1848.0,806.1 L1856.0,806.6 L1864.0,807.1 L1872.0,807.5 L1880.0,808.0 L1888.0,808.4 L1896.0,808.9 L1904.0,809.3 L1912.0,809.7 L1920.0,810.1 L1928.0,810.4 L1936.0,810.8 L1944.0,811.1 L1952.0,811.4 L1960.0,811.6 L1968.0,811.9 L1976.0,812.1 L1984.0,812.2 L1992.0,812.4 L1992.0,819.7 L1984.0,819.6 L1976.0,819.4 L1968.0,819.2 L1960.0,819.0 L1952.0,818.7 L1944.0,818.5 L1936.0,818.2 L1928.0,817.8 L1920.0,817.5 L1912.0,817.2 L1904.0,816.8 L1896.0,816.4 L1888.0,816.0 L1880.0,815.6 L1872.0,815.2 L1864.0,814.7 L1856.0,814.3 L1848.0,813.8 L1840.0,813.3 L1832.0,812.9 L1824.0,812.4 L1816.0,811.9 L1808.0,811.4 L1800.0,810.9 L1792.0,810.4 L1784.0,809.9 L1776.0,809.4 L1768.0,808.9 L1760.0,808.4 L1752.0,807.8 L1744.0,807.3 L1736.0,806.7 L1728.0,806.0 L1720.0,805.3 L1712.0,804.6 L1704.0,803.8 L1696.0,803.0 L1688.0,802.1 L1680.0,801.2 L1672.0,800.3 L1664.0,799.3 L1656.0,798.3 L1648.0,797.2 L1640.0,796.1 L1632.0,795.0 L1624.0,793.8 L1616.0,792.7 L1608.0,791.4 L1600.0,790.2 L1592.0,788.9 L1584.0,787.6 L1576.0,786.2 L1568.0,784.8 L1560.0,783.4 L1552.0,781.9 L1544.0,780.4 L1536.0,778.9 L1528.0,777.3 L1520.0,775.7 L1512.0,774.1 L1504.0,772.4 L1496.0,770.8 L1488.0,769.0 L1480.0,767.3 L1472.0,765.5 L1464.0,763.7 L1456.0,761.8 L1448.0,759.9 L1440.0,758.0 L1432.0,756.0 L1424.0,754.0 L1416.0,751.9 L1408.0,749.8 L1400.0,747.6 L1392.0,745.3 L1384.0,743.1 L1376.0,740.7 L1368.0,738.3 L1360.0,735.8 L1352.0,733.3 L1344.0,730.7 L1336.0,728.0 L1328.0,725.3 L1320.0,722.5 L1312.0,719.7 L1304.0,716.9 L1296.0,714.0 L1288.0,711.1 L1280.0,708.1 L1272.0,705.2 L1264.0,702.2 L1256.0,699.1 L1248.0,696.0 L1240.0,692.9 L1232.0,689.8 L1224.0,686.6 L1216.0,683.3 L1208.0,680.0 L1200.0,676.7 L1192.0,673.3 L1184.0,669.8 L1176.0,666.2 L1168.0,662.6 L1160.0,658.9 L1152.0,655.2 L1144.0,651.4 L1136.0,647.5 L1128.0,643.6 L1120.0,639.7 L1112.0,635.7 L1104.0,631.7 L1096.0,627.7 L1088.0,623.7 L1080.0,619.7 L1072.0,615.8 L1064.0,611.9 L1056.0,608.1 L1048.0,604.2 L1040.0,600.4 L1032.0,596.5 L1024.0,592.7 L1016.0,588.8 L1008.0,584.9 L1000.0,581.0 L992.0,577.0 L984.0,573.0 L976.0,569.0 L968.0,565.0 L960.0,560.9 L952.0,556.8 L944.0,552.7 L936.0,548.7 L928.0,544.6 L920.0,540.6 L912.0,536.7 L904.0,532.8 L896.0,528.9 L888.0,525.1 L880.0,521.4 L872.0,517.8 L864.0,514.4 L856.0,511.0 L848.0,507.8 L840.0,504.7 L832.0,501.7 L824.0,498.9 L816.0,496.1 L808.0,493.5 L800.0,491.0 L792.0,488.5 L784.0,486.1 L776.0,483.8 L768.0,481.4 L760.0,479.2 L752.0,477.0 L744.0,474.8 L736.0,472.8 L728.0,470.8 L720.0,468.9 L712.0,467.1 L704.0,465.3 L696.0,463.7 L688.0,462.1 L680.0,460.6 L672.0,459.2 L664.0,457.9 L656.0,456.7 L648.0,455.6 L640.0,454.6 L632.0,453.6 L624.0,452.8 L616.0,452.1 L608.0,451.5 L600.0,451.0 L592.0,450.6 L584.0,450.3 L576.0,450.1 L568.0,450.0 L560.0,450.0 L552.0,450.1 L544.0,450.2 L536.0,450.5 L528.0,450.9 L520.0,451.3 L512.0,451.9 L504.0,452.5 L496.0,453.2 L488.0,454.0 L480.0,454.9 L472.0,455.8 L464.0,456.8 L456.0,457.9 L448.0,459.1 L440.0,460.3 L432.0,461.6 L424.0,463.0 L416.0,464.4 L408.0,465.9 L400.0,467.5 L392.0,469.1 L384.0,470.7 L376.0,472.5 L368.0,474.2 L360.0,476.0 L352.0,477.8 L344.0,479.6 L336.0,481.4 L328.0,483.2 L320.0,485.0 L312.0,486.9 L304.0,488.8 L296.0,490.7 L288.0,492.7 L280.0,494.7 L272.0,496.8 L264.0,498.9 L256.0,501.0 L248.0,503.2 L240.0,505.4 L232.0,507.8 L224.0,510.1 L216.0,512.6 L208.0,515.1 L200.0,517.6 L192.0,520.1 L184.0,522.6 L176.0,525.1 L168.0,527.6 L160.0,530.1 L152.0,532.6 L144.0,535.1 L136.0,537.6 L128.0,540.1Z" fill-opacity="0.205"/>
<path d="M128.0,510.6 L136.0,508.2 L144.0,505.8 L152.0,503.5 L160.0,501.1 L168.0,498.6 L176.0,496.2 L184.0,493.7 L192.0,491.2 L200.0,488.7 L208.0,486.2 L216.0,483.7 L224.0,481.2 L232.0,478.6 L240.0,476.0 L248.0,473.4 L256.0,470.8 L264.0,468.2 L272.0,465.6 L280.0,463.0 L288.0,460.4 L296.0,457.8 L304.0,455.3 L312.0,452.8 L320.0,450.4 L328.0,448.1 L336.0,445.8 L344.0,443.5 L352.0,441.4 L360.0,439.3 L368.0,437.4 L376.0,435.5 L384.0,433.7 L392.0,432.0 L400.0,430.4 L408.0,428.8 L416.0,427.2 L424.0,425.8 L432.0,424.4 L440.0,423.1 L448.0,421.8 L456.0,420.6 L464.0,419.5 L472.0,418.5 L480.0,417.5 L488.0,416.7 L496.0,415.9 L504.0,415.1 L512.0,414.5 L520.0,413.9 L528.0,413.5 L536.0,413.1 L544.0,412.8 L552.0,412.6 L560.0,412.4 L568.0,412.4 L576.0,412.4 L584.0,412.6 L592.0,412.8 L600.0,413.1 L608.0,413.5 L616.0,414.0 L624.0,414.7 L632.0,415.4 L640.0,416.3 L648.0,417.3 L656.0,418.4 L664.0,419.7 L672.0,421.0 L680.0,422.5 L688.0,424.1 L696.0,425.9 L704.0,427.7 L712.0,429.6 L720.0,431.6 L728.0,433.7 L736.0,435.9 L744.0,438.2 L752.0,440.5 L760.0,442.9 L768.0,445.4 L776.0,448.0 L784.0,450.7 L792.0,453.6 L800.0,456.5 L808.0,459.5 L816.0,462.5 L824.0,465.7 L832.0,468.9 L840.0,472.2 L848.0,475.5 L856.0,479.0 L864.0,482.6 L872.0,486.3 L880.0,490.1 L888.0,494.0 L896.0,497.9 L904.0,502.0 L912.0,506.1 L920.0,510.2 L928.0,514.4 L936.0,518.6 L944.0,522.9 L952.0,527.2 L960.0,531.5 L968.0,535.8 L976.0,540.1 L984.0,544.4 L992.0,548.8 L1000.0,553.1 L1008.0,557.4 L1016.0,561.7 L1024.0,566.0 L1032.0,570.3 L1040.0,574.7 L1048.0,579.0 L1056.0,583.3 L1064.0,587.6 L1072.0,591.9 L1080.0,596.2 L1088.0,600.6 L1096.0,604.9 L1104.0,609.2 L1112.0,613.5 L1120.0,617.8 L1128.0,622.1 L1136.0,626.3 L1144.0,630.4 L1152.0,634.6 L1160.0,638.6 L1168.0,642.6 L1176.0,646.5 L1184.0,650.3 L1192.0,654.1 L1200.0,657.8 L1208.0,661.4 L1216.0,665.0 L1224.0,668.5 L1232.0,671.9 L1240.0,675.3 L1248.0,678.7 L1256.0,682.0 L1264.0,685.3 L1272.0,688.6 L1280.0,691.8 L1288.0,695.0 L1296.0,698.1 L1304.0,701.2 L1312.0,704.3 L1320.0,707.4 L1328.0,710.4 L1336.0,713.3 L1344.0,716.2 L1352.0,719.0 L1360.0,721.8 L1368.0,724.5 L1376.0,727.1 L1384.0,729.7 L1392.0,732.2 L1400.0,734.7 L1408.0,737.1 L1416.0,739.4 L1424.0,741.7 L1432.0,743.9 L1440.0,746.1 L1448.0,748.3 L1456.0,750.4 L1464.0,752.4 L1472.0,754.4 L1480.0,756.4 L1488.0,758.3 L1496.0,760.1 L1504.0,762.0 L1512.0,763.8 L1520.0,765.5 L1528.0,767.2 L1536.0,768.9 L1544.0,770.5 L1552.0,772.1 L1560.0,773.7 L1568.0,775.2 L1576.0,776.7 L1584.0,778.1 L1592.0,779.5 L1600.0,780.9 L1608.0,782.3 L1616.0,783.6 L1624.0,784.8 L1632.0,786.1 L1640.0,787.3 L1648.0,788.4 L1656.0,789.5 L1664.0,790.6 L1672.0,791.7 L1680.0,792.7 L1688.0,793.6 L1696.0,794.5 L1704.0,795.4 L1712.0,796.2 L1720.0,797.0 L1728.0,797.7 L1736.0,798.4 L1744.0,799.1 L1752.0,799.7 L1760.0,800.3 L1768.0,800.9 L1776.0,801.4 L1784.0,801.9 L1792.0,802.5 L1800.0,803.0 L1808.0,803.5 L1816.0,804.1 L1824.0,804.6 L1832.0,805.1 L1840.0,805.6 L1848.0,806.1 L1856.0,806.6 L1864.0,807.1 L1872.0,807.6 L1880.0,808.0 L1888.0,808.5 L1896.0,808.9 L1904.0,809.3 L1912.0,809.7 L1920.0,810.1 L1928.0,810.4 L1936.0,810.8 L1944.0,811.1 L1952.0,811.4 L1960.0,811.6 L1968.0,811.9 L1976.0,812.1 L1984.0,812.3 L1992.0,812.4 L1992.0,819.7 L1984.0,819.6 L1976.0,819.4 L1968.0,819.2 L1960.0,819.0 L1952.0,818.7 L1944.0,818.4 L1936.0,818.1 L1928.0,817.8 L1920.0,817.5 L1912.0,817.1 L1904.0,816.7 L1896.0,816.4 L1888.0,816.0 L1880.0,815.5 L1872.0,815.1 L1864.0,814.7 L1856.0,814.2 L1848.0,813.7 L1840.0,813.3 L1832.0,812.8 L1824.0,812.3 L1816.0,811.8 L1808.0,811.3 L1800.0,810.8 L1792.0,810.3 L1784.0,809.8 L1776.0,809.3 L1768.0,808.8 L1760.0,808.3 L1752.0,807.7 L1744.0,807.2 L1736.0,806.5 L1728.0,805.9 L1720.0,805.2 L1712.0,804.5 L1704.0,803.7 L1696.0,802.9 L1688.0,802.0 L1680.0,801.1 L1672.0,800.1 L1664.0,799.2 L1656.0,798.1 L1648.0,797.1 L1640.0,796.0 L1632.0,794.8 L1624.0,793.7 L1616.0,792.5 L1608.0,791.2 L1600.0,790.0 L1592.0,788.7 L1584.0,787.3 L1576.0,786.0 L1568.0,784.6 L1560.0,783.1 L1552.0,781.7 L1544.0,780.2 L1536.0,778.6 L1528.0,777.1 L1520.0,775.5 L1512.0,773.8 L1504.0,772.2 L1496.0,770.5 L1488.0,768.7 L1480.0,766.9 L1472.0,765.1 L1464.0,763.3 L1456.0,761.4 L1448.0,759.5 L1440.0,757.6 L1432.0,755.6 L1424.0,753.5 L1416.0,751.4 L1408.0,749.3 L1400.0,747.1 L1392.0,744.8 L1384.0,742.5 L1376.0,740.2 L1368.0,737.7 L1360.0,735.3 L1352.0,732.7 L1344.0,730.1 L1336.0,727.4 L1328.0,724.7 L1320.0,721.9 L1312.0,719.0 L1304.0,716.2 L1296.0,713.3 L1288.0,710.3 L1280.0,707.4 L1272.0,704.4 L1264.0,701.4 L1256.0,698.3 L1248.0,695.2 L1240.0,692.1 L1232.0,688.9 L1224.0,685.7 L1216.0,682.4 L1208.0,679.1 L1200.0,675.7 L1192.0,672.3 L1184.0,668.8 L1176.0,665.2 L1168.0,661.5 L1160.0,657.8 L1152.0,654.1 L1144.0,650.2 L1136.0,646.3 L1128.0,642.4 L1120.0,638.4 L1112.0,634.5 L1104.0,630.4 L1096.0,626.4 L1088.0,622.4 L1080.0,618.4 L1072.0,614.5 L1064.0,610.5 L1056.0,606.6 L1048.0,602.7 L1040.0,598.8 L1032.0,594.9 L1024.0,591.0 L1016.0,587.1 L1008.0,583.2 L1000.0,579.3 L992.0,575.3 L984.0,571.3 L976.0,567.2 L968.0,563.1 L960.0,559.0 L952.0,554.9 L944.0,550.9 L936.0,546.8 L928.0,542.7 L920.0,538.7 L912.0,534.7 L904.0,530.8 L896.0,526.9 L888.0,523.1 L880.0,519.4 L872.0,515.8 L864.0,512.3 L856.0,508.9 L848.0,505.7 L840.0,502.6 L832.0,499.6 L824.0,496.7 L816.0,493.9 L808.0,491.3 L800.0,488.7 L792.0,486.2 L784.0,483.8 L776.0,481.4 L768.0,479.0 L760.0,476.7 L752.0,474.5 L744.0,472.4 L736.0,470.3 L728.0,468.3 L720.0,466.4 L712.0,464.6 L704.0,462.8 L696.0,461.2 L688.0,459.6 L680.0,458.1 L672.0,456.7 L664.0,455.4 L656.0,454.2 L648.0,453.0 L640.0,452.0 L632.0,451.1 L624.0,450.3 L616.0,449.6 L608.0,449.0 L600.0,448.5 L592.0,448.1 L584.0,447.8 L576.0,447.5 L568.0,447.4 L560.0,447.4 L552.0,447.5 L544.0,447.7 L536.0,448.0 L528.0,448.3 L520.0,448.8 L512.0,449.3 L504.0,449.9 L496.0,450.6 L488.0,451.4 L480.0,452.3 L472.0,453.2 L464.0,454.2 L456.0,455.3 L448.0,456.4 L440.0,457.7 L432.0,459.0 L424.0,460.3 L416.0,461.7 L408.0,463.2 L400.0,464.8 L392.0,466.4 L384.0,468.1 L376.0,469.8 L368.0,471.6 L360.0,473.4 L352.0,475.2 L344.0,477.0 L336.0,478.8 L328.0,480.7 L320.0,482.6 L312.0,484.5 L304.0,486.4 L296.0,488.4 L288.0,490.4 L280.0,492.5 L272.0,494.6 L264.0,496.7 L256.0,498.9 L248.0,501.2 L240.0,503.4 L232.0,505.8 L224.0,508.2 L216.0,510.6 L208.0,513.1 L200.0,515.6 L192.0,518.2 L184.0,520.7 L176.0,523.2 L168.0,525.7 L160.0,528.2 L152.0,530.7 L144.0,533.2 L136.0,535.8 L128.0,538.2Z" fill-opacity="0.205"/>
<path d="M128.0,511.8 L136.0,509.4 L144.0,507.0 L152.0,504.6 L160.0,502.2 L168.0,499.8 L176.0,497.3 L184.0,494.8 L192.0,492.3 L200.0,489.8 L208.0,487.3 L216.0,484.8 L224.0,482.3 L232.0,479.7 L240.0,477.1 L248.0,474.5 L256.0,471.9 L264.0,469.3 L272.0,466.8 L280.0,464.2 L288.0,461.6 L296.0,459.1 L304.0,456.6 L312.0,454.2 L320.0,451.8 L328.0,449.4 L336.0,447.2 L344.0,444.9 L352.0,442.8 L360.0,440.8 L368.0,438.8 L376.0,437.0 L384.0,435.2 L392.0,433.5 L400.0,431.8 L408.0,430.3 L416.0,428.7 L424.0,427.3 L432.0,425.9 L440.0,424.6 L448.0,423.4 L456.0,422.2 L464.0,421.1 L472.0,420.1 L480.0,419.1 L488.0,418.3 L496.0,417.5 L504.0,416.7 L512.0,416.1 L520.0,415.6 L528.0,415.1 L536.0,414.7 L544.0,414.4 L552.0,414.2 L560.0,414.1 L568.0,414.1 L576.0,414.1 L584.0,414.3 L592.0,414.5 L600.0,414.8 L608.0,415.2 L616.0,415.8 L624.0,416.4 L632.0,417.2 L640.0,418.1 L648.0,419.1 L656.0,420.2 L664.0,421.4 L672.0,422.8 L680.0,424.3 L688.0,425.9 L696.0,427.6 L704.0,429.4 L712.0,431.3 L720.0,433.3 L728.0,435.4 L736.0,437.5 L744.0,439.8 L752.0,442.1 L760.0,444.5 L768.0,447.0 L776.0,449.6 L784.0,452.3 L792.0,455.1 L800.0,458.0 L808.0,460.9 L816.0,464.0 L824.0,467.1 L832.0,470.3 L840.0,473.6 L848.0,476.9 L856.0,480.4 L864.0,483.9 L872.0,487.6 L880.0,491.4 L888.0,495.3 L896.0,499.2 L904.0,503.3 L912.0,507.3 L920.0,511.5 L928.0,515.7 L936.0,519.9 L944.0,524.2 L952.0,528.4 L960.0,532.7 L968.0,537.0 L976.0,541.3 L984.0,545.6 L992.0,549.9 L1000.0,554.2 L1008.0,558.5 L1016.0,562.8 L1024.0,567.1 L1032.0,571.4 L1040.0,575.7 L1048.0,580.0 L1056.0,584.3 L1064.0,588.6 L1072.0,592.9 L1080.0,597.2 L1088.0,601.5 L1096.0,605.8 L1104.0,610.1 L1112.0,614.4 L1120.0,618.7 L1128.0,622.9 L1136.0,627.1 L1144.0,631.2 L1152.0,635.3 L1160.0,639.3 L1168.0,643.3 L1176.0,647.2 L1184.0,651.0 L1192.0,654.8 L1200.0,658.4 L1208.0,662.1 L1216.0,665.6 L1224.0,669.1 L1232.0,672.5 L1240.0,675.9 L1248.0,679.3 L1256.0,682.6 L1264.0,685.9 L1272.0,689.1 L1280.0,692.3 L1288.0,695.5 L1296.0,698.6 L1304.0,701.7 L1312.0,704.8 L1320.0,707.8 L1328.0,710.8 L1336.0,713.7 L1344.0,716.6 L1352.0,719.4 L1360.0,722.2 L1368.0,724.8 L1376.0,727.5 L1384.0,730.0 L1392.0,732.5 L1400.0,735.0 L1408.0,737.4 L1416.0,739.7 L1424.0,742.0 L1432.0,744.2 L1440.0,746.4 L1448.0,748.5 L1456.0,750.6 L1464.0,752.6 L1472.0,754.6 L1480.0,756.6 L1488.0,758.5 L1496.0,760.3 L1504.0,762.2 L1512.0,763.9 L1520.0,765.7 L1528.0,767.4 L1536.0,769.0 L1544.0,770.7 L1552.0,772.3 L1560.0,773.8 L1568.0,775.3 L1576.0,776.8 L1584.0,778.3 L1592.0,779.7 L1600.0,781.0 L1608.0,782.4 L1616.0,783.7 L1624.0,784.9 L1632.0,786.2 L1640.0,787.4 L1648.0,788.5 L1656.0,789.6 L1664.0,790.7 L1672.0,791.7 L1680.0,792.7 L1688.0,793.7 L1696.0,794.6 L1704.0,795.5 L1712.0,796.3 L1720.0,797.1 L1728.0,797.8 L1736.0,798.5 L1744.0,799.1 L1752.0,799.7 L1760.0,800.3 L1768.0,800.9 L1776.0,801.5 L1784.0,802.0 L1792.0,802.5 L1800.0,803.1 L1808.0,803.6 L1816.0,804.1 L1824.0,804.6 L1832.0,805.2 L1840.0,805.7 L1848.0,806.2 L1856.0,806.7 L1864.0,807.1 L1872.0,807.6 L1880.0,808.1 L1888.0,808.5 L1896.0,808.9 L1904.0,809.4 L1912.0,809.7 L1920.0,810.1 L1928.0,810.5 L1936.0,810.8 L1944.0,811.1 L1952.0,811.4 L1960.0,811.7 L1968.0,811.9 L1976.0,812.1 L1984.0,812.3 L1992.0,812.4 L1992.0,819.7 L1984.0,819.5 L1976.0,819.4 L1968.0,819.2 L1960.0,818.9 L1952.0,818.7 L1944.0,818.4 L1936.0,818.1 L1928.0,817.8 L1920.0,817.5 L1912.0,817.1 L1904.0,816.7 L1896.0,816.3 L1888.0,815.9 L1880.0,815.5 L1872.0,815.1 L1864.0,814.6 L1856.0,814.2 L1848.0,813.7 L1840.0,813.2 L1832.0,812.7 L1824.0,812.3 L1816.0,811.8 L1808.0,811.3 L1800.0,810.8 L1792.0,810.3 L1784.0,809.8 L1776.0,809.3 L1768.0,808.8 L1760.0,808.2 L1752.0,807.7 L1744.0,807.1 L1736.0,806.5 L1728.0,805.8 L1720.0,805.1 L1712.0,804.4 L1704.0,803.6 L1696.0,802.8 L1688.0,801.9 L1680.0,801.0 L1672.0,800.0 L1664.0,799.0 L1656.0,798.0 L1648.0,796.9 L1640.0,795.8 L1632.0,794.7 L1624.0,793.5 L1616.0,792.3 L1608.0,791.1 L1600.0,789.8 L1592.0,788.5 L1584.0,787.2 L1576.0,785.8 L1568.0,784.4 L1560.0,783.0 L1552.0,781.5 L1544.0,780.0 L1536.0,778.4 L1528.0,776.9 L1520.0,775.2 L1512.0,773.6 L1504.0,771.9 L1496.0,770.2 L1488.0,768.5 L1480.0,766.7 L1472.0,764.9 L1464.0,763.0 L1456.0,761.1 L1448.0,759.2 L1440.0,757.2 L1432.0,755.2 L1424.0,753.2 L1416.0,751.1 L1408.0,748.9 L1400.0,746.7 L1392.0,744.4 L1384.0,742.1 L1376.0,739.7 L1368.0,737.3 L1360.0,734.8 L1352.0,732.2 L1344.0,729.6 L1336.0,726.9 L1328.0,724.1 L1320.0,721.3 L1312.0,718.5 L1304.0,715.6 L1296.0,712.7 L1288.0,709.7 L1280.0,706.7 L1272.0,703.7 L1264.0,700.7 L1256.0,697.6 L1248.0,694.5 L1240.0,691.4 L1232.0,688.2 L1224.0,685.0 L1216.0,681.7 L1208.0,678.3 L1200.0,674.9 L1192.0,671.5 L1184.0,667.9 L1176.0,664.3 L1168.0,660.7 L1160.0,656.9 L1152.0,653.2 L1144.0,649.3 L1136.0,645.4 L1128.0,641.5 L1120.0,637.5 L1112.0,633.5 L1104.0,629.4 L1096.0,625.4 L1088.0,621.3 L1080.0,617.3 L1072.0,613.3 L1064.0,609.4 L1056.0,605.4 L1048.0,601.5 L1040.0,597.6 L1032.0,593.7 L1024.0,589.7 L1016.0,585.8 L1008.0,581.9 L1000.0,577.9 L992.0,573.9 L984.0,569.8 L976.0,565.8 L968.0,561.7 L960.0,557.5 L952.0,553.4 L944.0,549.3 L936.0,545.2 L928.0,541.2 L920.0,537.1 L912.0,533.1 L904.0,529.2 L896.0,525.3 L888.0,521.5 L880.0,517.7 L872.0,514.1 L864.0,510.6 L856.0,507.2 L848.0,504.0 L840.0,500.8 L832.0,497.8 L824.0,494.9 L816.0,492.1 L808.0,489.4 L800.0,486.8 L792.0,484.3 L784.0,481.8 L776.0,479.4 L768.0,477.1 L760.0,474.8 L752.0,472.6 L744.0,470.4 L736.0,468.3 L728.0,466.3 L720.0,464.4 L712.0,462.6 L704.0,460.8 L696.0,459.1 L688.0,457.5 L680.0,456.0 L672.0,454.6 L664.0,453.3 L656.0,452.1 L648.0,451.0 L640.0,450.0 L632.0,449.0 L624.0,448.2 L616.0,447.5 L608.0,446.9 L600.0,446.4 L592.0,446.0 L584.0,445.7 L576.0,445.5 L568.0,445.4 L560.0,445.4 L552.0,445.4 L544.0,445.6 L536.0,445.9 L528.0,446.2 L520.0,446.7 L512.0,447.2 L504.0,447.8 L496.0,448.5 L488.0,449.3 L480.0,450.1 L472.0,451.1 L464.0,452.1 L456.0,453.2 L448.0,454.3 L440.0,455.5 L432.0,456.8 L424.0,458.2 L416.0,459.6 L408.0,461.1 L400.0,462.6 L392.0,464.2 L384.0,465.9 L376.0,467.6 L368.0,469.4 L360.0,471.2 L352.0,473.0 L344.0,474.9 L336.0,476.7 L328.0,478.6 L320.0,480.6 L312.0,482.5 L304.0,484.5 L296.0,486.5 L288.0,488.6 L280.0,490.7 L272.0,492.8 L264.0,495.0 L256.0,497.2 L248.0,499.5 L240.0,501.8 L232.0,504.2 L224.0,506.6 L216.0,509.1 L208.0,511.6 L200.0,514.1 L192.0,516.6 L184.0,519.1 L176.0,521.6 L168.0,524.2 L160.0,526.7 L152.0,529.2 L144.0,531.7 L136.0,534.2 L128.0,536.7Z" fill-opacity="0.205"/>
<path d="M128.0,512.8 L136.0,510.4 L144.0,508.0 L152.0,505.6 L160.0,503.2 L168.0,500.7 L176.0,498.2 L184.0,495.7 L192.0,493.2 L200.0,490.7 L208.0,488.2 L216.0,485.7 L224.0,483.1 L232.0,480.6 L240.0,478.0 L248.0,475.4 L256.0,472.8 L264.0,470.3 L272.0,467.7 L280.0,465.1 L288.0,462.6 L296.0,460.1 L304.0,457.6 L312.0,455.2 L320.0,452.9 L328.0,450.5 L336.0,448.3 L344.0,446.1 L352.0,444.0 L360.0,442.0 L368.0,440.0 L376.0,438.2 L384.0,436.4 L392.0,434.7 L400.0,433.0 L408.0,431.5 L416.0,429.9 L424.0,428.5 L432.0,427.1 L440.0,425.8 L448.0,424.6 L456.0,423.4 L464.0,422.3 L472.0,421.3 L480.0,420.4 L488.0,419.5 L496.0,418.7 L504.0,418.0 L512.0,417.4 L520.0,416.9 L528.0,416.4 L536.0,416.0 L544.0,415.7 L552.0,415.5 L560.0,415.4 L568.0,415.4 L576.0,415.5 L584.0,415.6 L592.0,415.9 L600.0,416.2 L608.0,416.6 L616.0,417.2 L624.0,417.8 L632.0,418.6 L640.0,419.5 L648.0,420.5 L656.0,421.6 L664.0,422.9 L672.0,424.2 L680.0,425.7 L688.0,427.3 L696.0,429.0 L704.0,430.8 L712.0,432.7 L720.0,434.6 L728.0,436.7 L736.0,438.9 L744.0,441.1 L752.0,443.4 L760.0,445.8 L768.0,448.3 L776.0,450.9 L784.0,453.5 L792.0,456.3 L800.0,459.2 L808.0,462.1 L816.0,465.2 L824.0,468.3 L832.0,471.4 L840.0,474.7 L848.0,478.0 L856.0,481.4 L864.0,485.0 L872.0,488.7 L880.0,492.5 L888.0,496.3 L896.0,500.3 L904.0,504.3 L912.0,508.4 L920.0,512.5 L928.0,516.7 L936.0,520.9 L944.0,525.2 L952.0,529.4 L960.0,533.7 L968.0,538.0 L976.0,542.3 L984.0,546.6 L992.0,550.9 L1000.0,555.2 L1008.0,559.5 L1016.0,563.7 L1024.0,568.0 L1032.0,572.3 L1040.0,576.5 L1048.0,580.8 L1056.0,585.1 L1064.0,589.4 L1072.0,593.6 L1080.0,597.9 L1088.0,602.2 L1096.0,606.5 L1104.0,610.8 L1112.0,615.1 L1120.0,619.3 L1128.0,623.6 L1136.0,627.7 L1144.0,631.9 L1152.0,635.9 L1160.0,640.0 L1168.0,643.9 L1176.0,647.8 L1184.0,651.6 L1192.0,655.3 L1200.0,659.0 L1208.0,662.6 L1216.0,666.1 L1224.0,669.6 L1232.0,673.0 L1240.0,676.4 L1248.0,679.8 L1256.0,683.0 L1264.0,686.3 L1272.0,689.5 L1280.0,692.7 L1288.0,695.9 L1296.0,699.0 L1304.0,702.1 L1312.0,705.2 L1320.0,708.2 L1328.0,711.2 L1336.0,714.1 L1344.0,716.9 L1352.0,719.7 L1360.0,722.5 L1368.0,725.2 L1376.0,727.8 L1384.0,730.3 L1392.0,732.8 L1400.0,735.2 L1408.0,737.6 L1416.0,739.9 L1424.0,742.2 L1432.0,744.4 L1440.0,746.6 L1448.0,748.7 L1456.0,750.8 L1464.0,752.8 L1472.0,754.8 L1480.0,756.7 L1488.0,758.6 L1496.0,760.5 L1504.0,762.3 L1512.0,764.1 L1520.0,765.8 L1528.0,767.5 L1536.0,769.2 L1544.0,770.8 L1552.0,772.4 L1560.0,773.9 L1568.0,775.4 L1576.0,776.9 L1584.0,778.4 L1592.0,779.8 L1600.0,781.1 L1608.0,782.5 L1616.0,783.8 L1624.0,785.0 L1632.0,786.2 L1640.0,787.4 L1648.0,788.6 L1656.0,789.7 L1664.0,790.8 L1672.0,791.8 L1680.0,792.8 L1688.0,793.8 L1696.0,794.7 L1704.0,795.5 L1712.0,796.3 L1720.0,797.1 L1728.0,797.8 L1736.0,798.5 L1744.0,799.2 L1752.0,799.8 L1760.0,800.4 L1768.0,801.0 L1776.0,801.5 L1784.0,802.0 L1792.0,802.6 L1800.0,803.1 L1808.0,803.6 L1816.0,804.2 L1824.0,804.7 L1832.0,805.2 L1840.0,805.7 L1848.0,806.2 L1856.0,806.7 L1864.0,807.2 L1872.0,807.6 L1880.0,808.1 L1888.0,808.5 L1896.0,809.0 L1904.0,809.4 L1912.0,809.8 L1920.0,810.1 L1928.0,810.5 L1936.0,810.8 L1944.0,811.1 L1952.0,811.4 L1960.0,811.7 L1968.0,811.9 L1976.0,812.1 L1984.0,812.3 L1992.0,812.4 L1992.0,819.7 L1984.0,819.5 L1976.0,819.3 L1968.0,819.1 L1960.0,818.9 L1952.0,818.7 L1944.0,818.4 L1936.0,818.1 L1928.0,817.8 L1920.0,817.4 L1912.0,817.1 L1904.0,816.7 L1896.0,816.3 L1888.0,815.9 L1880.0,815.5 L1872.0,815.0 L1864.0,814.6 L1856.0,814.1 L1848.0,813.7 L1840.0,813.2 L1832.0,812.7 L1824.0,812.2 L1816.0,811.7 L1808.0,811.2 L1800.0,810.7 L1792.0,810.2 L1784.0,809.7 L1776.0,809.2 L1768.0,808.7 L1760.0,808.2 L1752.0,807.6 L1744.0,807.0 L1736.0,806.4 L1728.0,805.7 L1720.0,805.0 L1712.0,804.3 L1704.0,803.5 L1696.0,802.7 L1688.0,801.8 L1680.0,800.9 L1672.0,799.9 L1664.0,799.0 L1656.0,797.9 L1648.0,796.8 L1640.0,795.7 L1632.0,794.6 L1624.0,793.4 L1616.0,792.2 L1608.0,791.0 L1600.0,789.7 L1592.0,788.4 L1584.0,787.0 L1576.0,785.7 L1568.0,784.3 L1560.0,782.8 L1552.0,781.3 L1544.0,779.8 L1536.0,778.3 L1528.0,776.7 L1520.0,775.1 L1512.0,773.4 L1504.0,771.7 L1496.0,770.0 L1488.0,768.3 L1480.0,766.5 L1472.0,764.6 L1464.0,762.8 L1456.0,760.9 L1448.0,759.0 L1440.0,757.0 L1432.0,755.0 L1424.0,752.9 L1416.0,750.8 L1408.0,748.6 L1400.0,746.4 L1392.0,744.1 L1384.0,741.8 L1376.0,739.4 L1368.0,736.9 L1360.0,734.4 L1352.0,731.8 L1344.0,729.2 L1336.0,726.5 L1328.0,723.7 L1320.0,720.9 L1312.0,718.0 L1304.0,715.1 L1296.0,712.2 L1288.0,709.2 L1280.0,706.2 L1272.0,703.2 L1264.0,700.2 L1256.0,697.1 L1248.0,694.0 L1240.0,690.8 L1232.0,687.6 L1224.0,684.4 L1216.0,681.1 L1208.0,677.7 L1200.0,674.3 L1192.0,670.8 L1184.0,667.3 L1176.0,663.7 L1168.0,660.0 L1160.0,656.2 L1152.0,652.4 L1144.0,648.6 L1136.0,644.6 L1128.0,640.7 L1120.0,636.7 L1112.0,632.6 L1104.0,628.6 L1096.0,624.5 L1088.0,620.5 L1080.0,616.4 L1072.0,612.4 L1064.0,608.5 L1056.0,604.5 L1048.0,600.5 L1040.0,596.6 L1032.0,592.7 L1024.0,588.7 L1016.0,584.7 L1008.0,580.8 L1000.0,576.8 L992.0,572.7 L984.0,568.7 L976.0,564.6 L968.0,560.5 L960.0,556.3 L952.0,552.2 L944.0,548.1 L936.0,544.0 L928.0,539.9 L920.0,535.8 L912.0,531.8 L904.0,527.9 L896.0,524.0 L888.0,520.2 L880.0,516.4 L872.0,512.8 L864.0,509.3 L856.0,505.9 L848.0,502.6 L840.0,499.4 L832.0,496.4 L824.0,493.5 L816.0,490.7 L808.0,488.0 L800.0,485.3 L792.0,482.8 L784.0,480.3 L776.0,477.9 L768.0,475.5 L760.0,473.2 L752.0,471.0 L744.0,468.8 L736.0,466.7 L728.0,464.7 L720.0,462.8 L712.0,460.9 L704.0,459.2 L696.0,457.5 L688.0,455.9 L680.0,454.4 L672.0,453.0 L664.0,451.7 L656.0,450.4 L648.0,449.3 L640.0,448.3 L632.0,447.4 L624.0,446.6 L616.0,445.9 L608.0,445.3 L600.0,444.8 L592.0,444.3 L584.0,444.0 L576.0,443.8 L568.0,443.7 L560.0,443.7 L552.0,443.8 L544.0,444.0 L536.0,444.2 L528.0,444.6 L520.0,445.0 L512.0,445.5 L504.0,446.1 L496.0,446.8 L488.0,447.6 L480.0,448.4 L472.0,449.4 L464.0,450.4 L456.0,451.4 L448.0,452.6 L440.0,453.8 L432.0,455.1 L424.0,456.4 L416.0,457.8 L408.0,459.3 L400.0,460.9 L392.0,462.5 L384.0,464.2 L376.0,465.9 L368.0,467.7 L360.0,469.5 L352.0,471.3 L344.0,473.2 L336.0,475.1 L328.0,477.0 L320.0,479.0 L312.0,480.9 L304.0,483.0 L296.0,485.0 L288.0,487.1 L280.0,489.2 L272.0,491.4 L264.0,493.6 L256.0,495.9 L248.0,498.2 L240.0,500.5 L232.0,502.9 L224.0,505.3 L216.0,507.8 L208.0,510.3 L200.0,512.8 L192.0,515.4 L184.0,517.9 L176.0,520.4 L168.0,522.9 L160.0,525.4 L152.0,528.0 L144.0,530.5 L136.0,533.0 L128.0,535.5Z" fill-opacity="0.205"/>
<path d="M128.0,513.6 L136.0,511.2 L144.0,508.8 L152.0,506.4 L160.0,503.9 L168.0,501.4 L176.0,499.0 L184.0,496.4 L192.0,493.9 L200.0,491.4 L208.0,488.9 L216.0,486.4 L224.0,483.8 L232.0,481.3 L240.0,478.7 L248.0,476.1 L256.0,473.6 L264.0,471.0 L272.0,468.5 L280.0,465.9 L288.0,463.4 L296.0,460.9 L304.0,458.5 L312.0,456.1 L320.0,453.7 L328.0,451.4 L336.0,449.2 L344.0,447.0 L352.0,444.9 L360.0,442.9 L368.0,441.0 L376.0,439.1 L384.0,437.3 L392.0,435.6 L400.0,434.0 L408.0,432.4 L416.0,430.9 L424.0,429.5 L432.0,428.1 L440.0,426.8 L448.0,425.6 L456.0,424.4 L464.0,423.3 L472.0,422.3 L480.0,421.4 L488.0,420.5 L496.0,419.8 L504.0,419.1 L512.0,418.5 L520.0,417.9 L528.0,417.5 L536.0,417.1 L544.0,416.8 L552.0,416.6 L560.0,416.5 L568.0,416.5 L576.0,416.6 L584.0,416.7 L592.0,417.0 L600.0,417.3 L608.0,417.8 L616.0,418.3 L624.0,419.0 L632.0,419.7 L640.0,420.6 L648.0,421.6 L656.0,422.7 L664.0,424.0 L672.0,425.4 L680.0,426.8 L688.0,428.4 L696.0,430.1 L704.0,431.9 L712.0,433.8 L720.0,435.7 L728.0,437.8 L736.0,439.9 L744.0,442.2 L752.0,444.5 L760.0,446.9 L768.0,449.3 L776.0,451.9 L784.0,454.5 L792.0,457.3 L800.0,460.1 L808.0,463.1 L816.0,466.1 L824.0,469.2 L832.0,472.3 L840.0,475.6 L848.0,478.9 L856.0,482.3 L864.0,485.9 L872.0,489.5 L880.0,493.3 L888.0,497.2 L896.0,501.1 L904.0,505.1 L912.0,509.2 L920.0,513.3 L928.0,517.5 L936.0,521.7 L944.0,526.0 L952.0,530.2 L960.0,534.5 L968.0,538.8 L976.0,543.1 L984.0,547.4 L992.0,551.7 L1000.0,555.9 L1008.0,560.2 L1016.0,564.5 L1024.0,568.7 L1032.0,573.0 L1040.0,577.2 L1048.0,581.5 L1056.0,585.7 L1064.0,590.0 L1072.0,594.3 L1080.0,598.5 L1088.0,602.8 L1096.0,607.1 L1104.0,611.4 L1112.0,615.6 L1120.0,619.9 L1128.0,624.1 L1136.0,628.2 L1144.0,632.4 L1152.0,636.4 L1160.0,640.4 L1168.0,644.4 L1176.0,648.2 L1184.0,652.0 L1192.0,655.8 L1200.0,659.4 L1208.0,663.0 L1216.0,666.5 L1224.0,670.0 L1232.0,673.4 L1240.0,676.8 L1248.0,680.1 L1256.0,683.4 L1264.0,686.7 L1272.0,689.9 L1280.0,693.1 L1288.0,696.2 L1296.0,699.3 L1304.0,702.4 L1312.0,705.5 L1320.0,708.5 L1328.0,711.4 L1336.0,714.4 L1344.0,717.2 L1352.0,720.0 L1360.0,722.7 L1368.0,725.4 L1376.0,728.0 L1384.0,730.5 L1392.0,733.0 L1400.0,735.5 L1408.0,737.8 L1416.0,740.1 L1424.0,742.4 L1432.0,744.6 L1440.0,746.8 L1448.0,748.9 L1456.0,751.0 L1464.0,753.0 L1472.0,754.9 L1480.0,756.9 L1488.0,758.8 L1496.0,760.6 L1504.0,762.4 L1512.0,764.2 L1520.0,765.9 L1528.0,767.6 L1536.0,769.3 L1544.0,770.9 L1552.0,772.5 L1560.0,774.0 L1568.0,775.5 L1576.0,777.0 L1584.0,778.4 L1592.0,779.8 L1600.0,781.2 L1608.0,782.5 L1616.0,783.8 L1624.0,785.1 L1632.0,786.3 L1640.0,787.5 L1648.0,788.7 L1656.0,789.8 L1664.0,790.8 L1672.0,791.9 L1680.0,792.9 L1688.0,793.8 L1696.0,794.7 L1704.0,795.6 L1712.0,796.4 L1720.0,797.2 L1728.0,797.9 L1736.0,798.6 L1744.0,799.2 L1752.0,799.8 L1760.0,800.4 L1768.0,801.0 L1776.0,801.5 L1784.0,802.1 L1792.0,802.6 L1800.0,803.1 L1808.0,803.7 L1816.0,804.2 L1824.0,804.7 L1832.0,805.2 L1840.0,805.7 L1848.0,806.2 L1856.0,806.7 L1864.0,807.2 L1872.0,807.7 L1880.0,808.1 L1888.0,808.6 L1896.0,809.0 L1904.0,809.4 L1912.0,809.8 L1920.0,810.2 L1928.0,810.5 L1936.0,810.8 L1944.0,811.1 L1952.0,811.4 L1960.0,811.7 L1968.0,811.9 L1976.0,812.1 L1984.0,812.3 L1992.0,812.5 L1992.0,819.7 L1984.0,819.5 L1976.0,819.3 L1968.0,819.1 L1960.0,818.9 L1952.0,818.7 L1944.0,818.4 L1936.0,818.1 L1928.0,817.8 L1920.0,817.4 L1912.0,817.1 L1904.0,816.7 L1896.0,816.3 L1888.0,815.9 L1880.0,815.5 L1872.0,815.0 L1864.0,814.6 L1856.0,814.1 L1848.0,813.6 L1840.0,813.2 L1832.0,812.7 L1824.0,812.2 L1816.0,811.7 L1808.0,811.2 L1800.0,810.7 L1792.0,810.2 L1784.0,809.7 L1776.0,809.2 L1768.0,808.7 L1760.0,808.1 L1752.0,807.6 L1744.0,807.0 L1736.0,806.3 L1728.0,805.7 L1720.0,805.0 L1712.0,804.2 L1704.0,803.5 L1696.0,802.6 L1688.0,801.8 L1680.0,800.8 L1672.0,799.9 L1664.0,798.9 L1656.0,797.8 L1648.0,796.8 L1640.0,795.7 L1632.0,794.5 L1624.0,793.3 L1616.0,792.1 L1608.0,790.9 L1600.0,789.6 L1592.0,788.3 L1584.0,786.9 L1576.0,785.6 L1568.0,784.1 L1560.0,782.7 L1552.0,781.2 L1544.0,779.7 L1536.0,778.1 L1528.0,776.6 L1520.0,774.9 L1512.0,773.3 L1504.0,771.6 L1496.0,769.8 L1488.0,768.1 L1480.0,766.3 L1472.0,764.5 L1464.0,762.6 L1456.0,760.7 L1448.0,758.7 L1440.0,756.8 L1432.0,754.7 L1424.0,752.7 L1416.0,750.5 L1408.0,748.3 L1400.0,746.1 L1392.0,743.8 L1384.0,741.5 L1376.0,739.1 L1368.0,736.6 L1360.0,734.1 L1352.0,731.5 L1344.0,728.9 L1336.0,726.1 L1328.0,723.4 L1320.0,720.5 L1312.0,717.7 L1304.0,714.8 L1296.0,711.8 L1288.0,708.9 L1280.0,705.8 L1272.0,702.8 L1264.0,699.8 L1256.0,696.7 L1248.0,693.5 L1240.0,690.4 L1232.0,687.1 L1224.0,683.9 L1216.0,680.6 L1208.0,677.2 L1200.0,673.8 L1192.0,670.3 L1184.0,666.7 L1176.0,663.1 L1168.0,659.4 L1160.0,655.7 L1152.0,651.9 L1144.0,648.0 L1136.0,644.0 L1128.0,640.1 L1120.0,636.1 L1112.0,632.0 L1104.0,627.9 L1096.0,623.9 L1088.0,619.8 L1080.0,615.7 L1072.0,611.7 L1064.0,607.7 L1056.0,603.7 L1048.0,599.8 L1040.0,595.8 L1032.0,591.8 L1024.0,587.9 L1016.0,583.9 L1008.0,579.9 L1000.0,575.9 L992.0,571.8 L984.0,567.7 L976.0,563.6 L968.0,559.5 L960.0,555.4 L952.0,551.2 L944.0,547.1 L936.0,543.0 L928.0,538.9 L920.0,534.8 L912.0,530.8 L904.0,526.8 L896.0,522.9 L888.0,519.1 L880.0,515.4 L872.0,511.7 L864.0,508.2 L856.0,504.8 L848.0,501.5 L840.0,498.3 L832.0,495.3 L824.0,492.3 L816.0,489.5 L808.0,486.8 L800.0,484.1 L792.0,481.6 L784.0,479.1 L776.0,476.6 L768.0,474.3 L760.0,471.9 L752.0,469.7 L744.0,467.5 L736.0,465.4 L728.0,463.4 L720.0,461.5 L712.0,459.6 L704.0,457.9 L696.0,456.2 L688.0,454.6 L680.0,453.1 L672.0,451.7 L664.0,450.3 L656.0,449.1 L648.0,448.0 L640.0,447.0 L632.0,446.1 L624.0,445.2 L616.0,444.5 L608.0,443.9 L600.0,443.4 L592.0,443.0 L584.0,442.7 L576.0,442.5 L568.0,442.4 L560.0,442.4 L552.0,442.5 L544.0,442.6 L536.0,442.9 L528.0,443.2 L520.0,443.7 L512.0,444.2 L504.0,444.8 L496.0,445.5 L488.0,446.2 L480.0,447.1 L472.0,448.0 L464.0,449.0 L456.0,450.1 L448.0,451.2 L440.0,452.4 L432.0,453.7 L424.0,455.0 L416.0,456.5 L408.0,457.9 L400.0,459.5 L392.0,461.1 L384.0,462.8 L376.0,464.5 L368.0,466.3 L360.0,468.1 L352.0,470.0 L344.0,471.8 L336.0,473.7 L328.0,475.7 L320.0,477.7 L312.0,479.7 L304.0,481.7 L296.0,483.8 L288.0,485.9 L280.0,488.1 L272.0,490.3 L264.0,492.5 L256.0,494.8 L248.0,497.1 L240.0,499.5 L232.0,501.9 L224.0,504.3 L216.0,506.8 L208.0,509.3 L200.0,511.8 L192.0,514.4 L184.0,516.9 L176.0,519.4 L168.0,521.9 L160.0,524.5 L152.0,527.0 L144.0,529.5 L136.0,532.0 L128.0,534.5Z" fill-opacity="0.205"/>
<path d="M128.0,514.2 L136.0,511.8 L144.0,509.4 L152.0,507.0 L160.0,504.5 L168.0,502.0 L176.0,499.5 L184.0,497.0 L192.0,494.5 L200.0,492.0 L208.0,489.5 L216.0,486.9 L224.0,484.4 L232.0,481.8 L240.0,479.3 L248.0,476.7 L256.0,474.2 L264.0,471.6 L272.0,469.1 L280.0,466.5 L288.0,464.0 L296.0,461.6 L304.0,459.1 L312.0,456.8 L320.0,454.4 L328.0,452.1 L336.0,449.9 L344.0,447.7 L352.0,445.7 L360.0,443.6 L368.0,441.7 L376.0,439.9 L384.0,438.1 L392.0,436.4 L400.0,434.8 L408.0,433.2 L416.0,431.7 L424.0,430.3 L432.0,428.9 L440.0,427.6 L448.0,426.4 L456.0,425.2 L464.0,424.1 L472.0,423.1 L480.0,422.2 L488.0,421.4 L496.0,420.6 L504.0,419.9 L512.0,419.3 L520.0,418.8 L528.0,418.3 L536.0,417.9 L544.0,417.7 L552.0,417.5 L560.0,417.4 L568.0,417.4 L576.0,417.4 L584.0,417.6 L592.0,417.8 L600.0,418.2 L608.0,418.6 L616.0,419.2 L624.0,419.9 L632.0,420.6 L640.0,421.5 L648.0,422.5 L656.0,423.7 L664.0,424.9 L672.0,426.3 L680.0,427.7 L688.0,429.3 L696.0,431.0 L704.0,432.8 L712.0,434.6 L720.0,436.6 L728.0,438.7 L736.0,440.8 L744.0,443.0 L752.0,445.3 L760.0,447.7 L768.0,450.2 L776.0,452.7 L784.0,455.3 L792.0,458.1 L800.0,460.9 L808.0,463.8 L816.0,466.8 L824.0,469.9 L832.0,473.0 L840.0,476.3 L848.0,479.6 L856.0,483.0 L864.0,486.6 L872.0,490.2 L880.0,494.0 L888.0,497.8 L896.0,501.8 L904.0,505.8 L912.0,509.9 L920.0,514.0 L928.0,518.2 L936.0,522.4 L944.0,526.6 L952.0,530.9 L960.0,535.2 L968.0,539.4 L976.0,543.7 L984.0,548.0 L992.0,552.3 L1000.0,556.5 L1008.0,560.8 L1016.0,565.0 L1024.0,569.3 L1032.0,573.5 L1040.0,577.8 L1048.0,582.0 L1056.0,586.2 L1064.0,590.5 L1072.0,594.7 L1080.0,599.0 L1088.0,603.3 L1096.0,607.5 L1104.0,611.8 L1112.0,616.1 L1120.0,620.3 L1128.0,624.5 L1136.0,628.7 L1144.0,632.8 L1152.0,636.8 L1160.0,640.8 L1168.0,644.8 L1176.0,648.6 L1184.0,652.4 L1192.0,656.1 L1200.0,659.8 L1208.0,663.3 L1216.0,666.9 L1224.0,670.3 L1232.0,673.7 L1240.0,677.1 L1248.0,680.4 L1256.0,683.7 L1264.0,686.9 L1272.0,690.2 L1280.0,693.3 L1288.0,696.5 L1296.0,699.6 L1304.0,702.7 L1312.0,705.7 L1320.0,708.7 L1328.0,711.7 L1336.0,714.6 L1344.0,717.4 L1352.0,720.2 L1360.0,722.9 L1368.0,725.6 L1376.0,728.2 L1384.0,730.7 L1392.0,733.2 L1400.0,735.6 L1408.0,738.0 L1416.0,740.3 L1424.0,742.6 L1432.0,744.8 L1440.0,746.9 L1448.0,749.0 L1456.0,751.1 L1464.0,753.1 L1472.0,755.1 L1480.0,757.0 L1488.0,758.9 L1496.0,760.7 L1504.0,762.5 L1512.0,764.3 L1520.0,766.0 L1528.0,767.7 L1536.0,769.4 L1544.0,771.0 L1552.0,772.6 L1560.0,774.1 L1568.0,775.6 L1576.0,777.1 L1584.0,778.5 L1592.0,779.9 L1600.0,781.3 L1608.0,782.6 L1616.0,783.9 L1624.0,785.1 L1632.0,786.4 L1640.0,787.6 L1648.0,788.7 L1656.0,789.8 L1664.0,790.9 L1672.0,791.9 L1680.0,792.9 L1688.0,793.9 L1696.0,794.8 L1704.0,795.6 L1712.0,796.4 L1720.0,797.2 L1728.0,797.9 L1736.0,798.6 L1744.0,799.3 L1752.0,799.9 L1760.0,800.5 L1768.0,801.0 L1776.0,801.6 L1784.0,802.1 L1792.0,802.6 L1800.0,803.2 L1808.0,803.7 L1816.0,804.2 L1824.0,804.7 L1832.0,805.2 L1840.0,805.7 L1848.0,806.2 L1856.0,806.7 L1864.0,807.2 L1872.0,807.7 L1880.0,808.1 L1888.0,808.6 L1896.0,809.0 L1904.0,809.4 L1912.0,809.8 L1920.0,810.2 L1928.0,810.5 L1936.0,810.8 L1944.0,811.2 L1952.0,811.4 L1960.0,811.7 L1968.0,811.9 L1976.0,812.1 L1984.0,812.3 L1992.0,812.5 L1992.0,819.6 L1984.0,819.5 L1976.0,819.3 L1968.0,819.1 L1960.0,818.9 L1952.0,818.6 L1944.0,818.4 L1936.0,818.1 L1928.0,817.7 L1920.0,817.4 L1912.0,817.0 L1904.0,816.7 L1896.0,816.3 L1888.0,815.9 L1880.0,815.4 L1872.0,815.0 L1864.0,814.5 L1856.0,814.1 L1848.0,813.6 L1840.0,813.1 L1832.0,812.7 L1824.0,812.2 L1816.0,811.7 L1808.0,811.2 L1800.0,810.7 L1792.0,810.2 L1784.0,809.7 L1776.0,809.1 L1768.0,808.6 L1760.0,808.1 L1752.0,807.5 L1744.0,806.9 L1736.0,806.3 L1728.0,805.6 L1720.0,804.9 L1712.0,804.2 L1704.0,803.4 L1696.0,802.6 L1688.0,801.7 L1680.0,800.8 L1672.0,799.8 L1664.0,798.8 L1656.0,797.8 L1648.0,796.7 L1640.0,795.6 L1632.0,794.4 L1624.0,793.3 L1616.0,792.0 L1608.0,790.8 L1600.0,789.5 L1592.0,788.2 L1584.0,786.9 L1576.0,785.5 L1568.0,784.0 L1560.0,782.6 L1552.0,781.1 L1544.0,779.6 L1536.0,778.0 L1528.0,776.4 L1520.0,774.8 L1512.0,773.2 L1504.0,771.5 L1496.0,769.7 L1488.0,768.0 L1480.0,766.2 L1472.0,764.3 L1464.0,762.4 L1456.0,760.5 L1448.0,758.6 L1440.0,756.6 L1432.0,754.6 L1424.0,752.5 L1416.0,750.3 L1408.0,748.2 L1400.0,745.9 L1392.0,743.6 L1384.0,741.3 L1376.0,738.9 L1368.0,736.4 L1360.0,733.9 L1352.0,731.3 L1344.0,728.6 L1336.0,725.9 L1328.0,723.1 L1320.0,720.3 L1312.0,717.4 L1304.0,714.5 L1296.0,711.5 L1288.0,708.5 L1280.0,705.5 L1272.0,702.5 L1264.0,699.4 L1256.0,696.3 L1248.0,693.2 L1240.0,690.0 L1232.0,686.8 L1224.0,683.5 L1216.0,680.2 L1208.0,676.8 L1200.0,673.4 L1192.0,669.9 L1184.0,666.3 L1176.0,662.7 L1168.0,659.0 L1160.0,655.2 L1152.0,651.4 L1144.0,647.5 L1136.0,643.6 L1128.0,639.6 L1120.0,635.5 L1112.0,631.5 L1104.0,627.4 L1096.0,623.3 L1088.0,619.2 L1080.0,615.2 L1072.0,611.1 L1064.0,607.1 L1056.0,603.1 L1048.0,599.1 L1040.0,595.2 L1032.0,591.2 L1024.0,587.2 L1016.0,583.2 L1008.0,579.2 L1000.0,575.1 L992.0,571.1 L984.0,567.0 L976.0,562.9 L968.0,558.8 L960.0,554.6 L952.0,550.5 L944.0,546.3 L936.0,542.2 L928.0,538.1 L920.0,534.0 L912.0,530.0 L904.0,526.0 L896.0,522.1 L888.0,518.3 L880.0,514.5 L872.0,510.8 L864.0,507.3 L856.0,503.9 L848.0,500.6 L840.0,497.4 L832.0,494.4 L824.0,491.4 L816.0,488.6 L808.0,485.8 L800.0,483.2 L792.0,480.6 L784.0,478.1 L776.0,475.6 L768.0,473.3 L760.0,470.9 L752.0,468.7 L744.0,466.5 L736.0,464.4 L728.0,462.4 L720.0,460.4 L712.0,458.6 L704.0,456.8 L696.0,455.1 L688.0,453.5 L680.0,452.0 L672.0,450.6 L664.0,449.3 L656.0,448.0 L648.0,446.9 L640.0,445.9 L632.0,445.0 L624.0,444.2 L616.0,443.5 L608.0,442.9 L600.0,442.4 L592.0,442.0 L584.0,441.7 L576.0,441.4 L568.0,441.3 L560.0,441.3 L552.0,441.4 L544.0,441.6 L536.0,441.8 L528.0,442.2 L520.0,442.6 L512.0,443.1 L504.0,443.7 L496.0,444.4 L488.0,445.1 L480.0,446.0 L472.0,446.9 L464.0,447.9 L456.0,449.0 L448.0,450.1 L440.0,451.3 L432.0,452.6 L424.0,453.9 L416.0,455.3 L408.0,456.8 L400.0,458.4 L392.0,460.0 L384.0,461.7 L376.0,463.4 L368.0,465.2 L360.0,467.0 L352.0,468.9 L344.0,470.7 L336.0,472.7 L328.0,474.6 L320.0,476.6 L312.0,478.7 L304.0,480.7 L296.0,482.8 L288.0,485.0 L280.0,487.2 L272.0,489.4 L264.0,491.6 L256.0,493.9 L248.0,496.3 L240.0,498.6 L232.0,501.0 L224.0,503.5 L216.0,506.0 L208.0,508.5 L200.0,511.0 L192.0,513.6 L184.0,516.1 L176.0,518.6 L168.0,521.2 L160.0,523.7 L152.0,526.2 L144.0,528.7 L136.0,531.2 L128.0,533.7Z" fill-opacity="0.205"/>
<path d="M128.0,514.8 L136.0,512.3 L144.0,509.9 L152.0,507.4 L160.0,505.0 L168.0,502.5 L176.0,500.0 L184.0,497.5 L192.0,495.0 L200.0,492.4 L208.0,489.9 L216.0,487.4 L224.0,484.8 L232.0,482.3 L240.0,479.7 L248.0,477.2 L256.0,474.6 L264.0,472.1 L272.0,469.5 L280.0,467.0 L288.0,464.5 L296.0,462.1 L304.0,459.7 L312.0,457.3 L320.0,455.0 L328.0,452.7 L336.0,450.5 L344.0,448.3 L352.0,446.2 L360.0,444.2 L368.0,442.3 L376.0,440.5 L384.0,438.7 L392.0,437.0 L400.0,435.4 L408.0,433.8 L416.0,432.3 L424.0,430.9 L432.0,429.5 L440.0,428.2 L448.0,427.0 L456.0,425.9 L464.0,424.8 L472.0,423.8 L480.0,422.9 L488.0,422.0 L496.0,421.2 L504.0,420.6 L512.0,419.9 L520.0,419.4 L528.0,419.0 L536.0,418.6 L544.0,418.3 L552.0,418.1 L560.0,418.1 L568.0,418.0 L576.0,418.1 L584.0,418.3 L592.0,418.5 L600.0,418.9 L608.0,419.4 L616.0,419.9 L624.0,420.6 L632.0,421.4 L640.0,422.2 L648.0,423.3 L656.0,424.4 L664.0,425.6 L672.0,427.0 L680.0,428.4 L688.0,430.0 L696.0,431.7 L704.0,433.5 L712.0,435.3 L720.0,437.3 L728.0,439.3 L736.0,441.5 L744.0,443.7 L752.0,446.0 L760.0,448.4 L768.0,450.8 L776.0,453.4 L784.0,456.0 L792.0,458.7 L800.0,461.5 L808.0,464.4 L816.0,467.4 L824.0,470.5 L832.0,473.6 L840.0,476.8 L848.0,480.1 L856.0,483.6 L864.0,487.1 L872.0,490.8 L880.0,494.5 L888.0,498.4 L896.0,502.3 L904.0,506.3 L912.0,510.4 L920.0,514.5 L928.0,518.7 L936.0,522.9 L944.0,527.1 L952.0,531.4 L960.0,535.7 L968.0,540.0 L976.0,544.2 L984.0,548.5 L992.0,552.8 L1000.0,557.0 L1008.0,561.3 L1016.0,565.5 L1024.0,569.7 L1032.0,574.0 L1040.0,578.2 L1048.0,582.4 L1056.0,586.7 L1064.0,590.9 L1072.0,595.1 L1080.0,599.4 L1088.0,603.6 L1096.0,607.9 L1104.0,612.2 L1112.0,616.4 L1120.0,620.6 L1128.0,624.8 L1136.0,629.0 L1144.0,633.1 L1152.0,637.1 L1160.0,641.1 L1168.0,645.1 L1176.0,648.9 L1184.0,652.7 L1192.0,656.4 L1200.0,660.0 L1208.0,663.6 L1216.0,667.1 L1224.0,670.6 L1232.0,674.0 L1240.0,677.4 L1248.0,680.7 L1256.0,683.9 L1264.0,687.2 L1272.0,690.4 L1280.0,693.5 L1288.0,696.7 L1296.0,699.8 L1304.0,702.9 L1312.0,705.9 L1320.0,708.9 L1328.0,711.9 L1336.0,714.8 L1344.0,717.6 L1352.0,720.4 L1360.0,723.1 L1368.0,725.8 L1376.0,728.3 L1384.0,730.9 L1392.0,733.3 L1400.0,735.8 L1408.0,738.1 L1416.0,740.4 L1424.0,742.7 L1432.0,744.9 L1440.0,747.0 L1448.0,749.1 L1456.0,751.2 L1464.0,753.2 L1472.0,755.2 L1480.0,757.1 L1488.0,759.0 L1496.0,760.8 L1504.0,762.6 L1512.0,764.4 L1520.0,766.1 L1528.0,767.8 L1536.0,769.4 L1544.0,771.0 L1552.0,772.6 L1560.0,774.2 L1568.0,775.7 L1576.0,777.1 L1584.0,778.6 L1592.0,780.0 L1600.0,781.3 L1608.0,782.6 L1616.0,783.9 L1624.0,785.2 L1632.0,786.4 L1640.0,787.6 L1648.0,788.7 L1656.0,789.9 L1664.0,790.9 L1672.0,792.0 L1680.0,792.9 L1688.0,793.9 L1696.0,794.8 L1704.0,795.7 L1712.0,796.5 L1720.0,797.2 L1728.0,798.0 L1736.0,798.6 L1744.0,799.3 L1752.0,799.9 L1760.0,800.5 L1768.0,801.0 L1776.0,801.6 L1784.0,802.1 L1792.0,802.7 L1800.0,803.2 L1808.0,803.7 L1816.0,804.2 L1824.0,804.7 L1832.0,805.3 L1840.0,805.8 L1848.0,806.3 L1856.0,806.7 L1864.0,807.2 L1872.0,807.7 L1880.0,808.1 L1888.0,808.6 L1896.0,809.0 L1904.0,809.4 L1912.0,809.8 L1920.0,810.2 L1928.0,810.5 L1936.0,810.9 L1944.0,811.2 L1952.0,811.5 L1960.0,811.7 L1968.0,811.9 L1976.0,812.2 L1984.0,812.3 L1992.0,812.5 L1992.0,819.6 L1984.0,819.5 L1976.0,819.3 L1968.0,819.1 L1960.0,818.9 L1952.0,818.6 L1944.0,818.4 L1936.0,818.1 L1928.0,817.7 L1920.0,817.4 L1912.0,817.0 L1904.0,816.7 L1896.0,816.3 L1888.0,815.8 L1880.0,815.4 L1872.0,815.0 L1864.0,814.5 L1856.0,814.1 L1848.0,813.6 L1840.0,813.1 L1832.0,812.6 L1824.0,812.1 L1816.0,811.6 L1808.0,811.1 L1800.0,810.6 L1792.0,810.1 L1784.0,809.6 L1776.0,809.1 L1768.0,808.6 L1760.0,808.0 L1752.0,807.5 L1744.0,806.9 L1736.0,806.3 L1728.0,805.6 L1720.0,804.9 L1712.0,804.2 L1704.0,803.4 L1696.0,802.5 L1688.0,801.7 L1680.0,800.7 L1672.0,799.8 L1664.0,798.8 L1656.0,797.7 L1648.0,796.7 L1640.0,795.5 L1632.0,794.4 L1624.0,793.2 L1616.0,792.0 L1608.0,790.7 L1600.0,789.5 L1592.0,788.1 L1584.0,786.8 L1576.0,785.4 L1568.0,784.0 L1560.0,782.5 L1552.0,781.0 L1544.0,779.5 L1536.0,777.9 L1528.0,776.4 L1520.0,774.7 L1512.0,773.1 L1504.0,771.4 L1496.0,769.6 L1488.0,767.9 L1480.0,766.0 L1472.0,764.2 L1464.0,762.3 L1456.0,760.4 L1448.0,758.5 L1440.0,756.5 L1432.0,754.4 L1424.0,752.3 L1416.0,750.2 L1408.0,748.0 L1400.0,745.7 L1392.0,743.5 L1384.0,741.1 L1376.0,738.7 L1368.0,736.2 L1360.0,733.7 L1352.0,731.1 L1344.0,728.4 L1336.0,725.7 L1328.0,722.9 L1320.0,720.0 L1312.0,717.2 L1304.0,714.2 L1296.0,711.3 L1288.0,708.3 L1280.0,705.3 L1272.0,702.2 L1264.0,699.2 L1256.0,696.0 L1248.0,692.9 L1240.0,689.7 L1232.0,686.5 L1224.0,683.2 L1216.0,679.9 L1208.0,676.5 L1200.0,673.1 L1192.0,669.6 L1184.0,666.0 L1176.0,662.3 L1168.0,658.6 L1160.0,654.9 L1152.0,651.0 L1144.0,647.1 L1136.0,643.2 L1128.0,639.2 L1120.0,635.1 L1112.0,631.1 L1104.0,627.0 L1096.0,622.9 L1088.0,618.8 L1080.0,614.7 L1072.0,610.7 L1064.0,606.7 L1056.0,602.6 L1048.0,598.6 L1040.0,594.7 L1032.0,590.7 L1024.0,586.7 L1016.0,582.6 L1008.0,578.6 L1000.0,574.6 L992.0,570.5 L984.0,566.4 L976.0,562.3 L968.0,558.1 L960.0,554.0 L952.0,549.8 L944.0,545.7 L936.0,541.5 L928.0,537.4 L920.0,533.4 L912.0,529.3 L904.0,525.4 L896.0,521.4 L888.0,517.6 L880.0,513.8 L872.0,510.2 L864.0,506.6 L856.0,503.2 L848.0,499.9 L840.0,496.7 L832.0,493.6 L824.0,490.7 L816.0,487.8 L808.0,485.1 L800.0,482.4 L792.0,479.8 L784.0,477.3 L776.0,474.9 L768.0,472.5 L760.0,470.1 L752.0,467.9 L744.0,465.7 L736.0,463.6 L728.0,461.6 L720.0,459.6 L712.0,457.7 L704.0,456.0 L696.0,454.3 L688.0,452.7 L680.0,451.2 L672.0,449.7 L664.0,448.4 L656.0,447.2 L648.0,446.1 L640.0,445.1 L632.0,444.1 L624.0,443.3 L616.0,442.6 L608.0,442.0 L600.0,441.5 L592.0,441.1 L584.0,440.8 L576.0,440.6 L568.0,440.5 L560.0,440.5 L552.0,440.5 L544.0,440.7 L536.0,441.0 L528.0,441.3 L520.0,441.7 L512.0,442.2 L504.0,442.8 L496.0,443.5 L488.0,444.3 L480.0,445.1 L472.0,446.0 L464.0,447.0 L456.0,448.1 L448.0,449.2 L440.0,450.4 L432.0,451.7 L424.0,453.0 L416.0,454.5 L408.0,455.9 L400.0,457.5 L392.0,459.1 L384.0,460.8 L376.0,462.5 L368.0,464.3 L360.0,466.1 L352.0,468.0 L344.0,469.9 L336.0,471.8 L328.0,473.8 L320.0,475.8 L312.0,477.9 L304.0,479.9 L296.0,482.1 L288.0,484.2 L280.0,486.4 L272.0,488.6 L264.0,490.9 L256.0,493.2 L248.0,495.6 L240.0,498.0 L232.0,500.4 L224.0,502.8 L216.0,505.3 L208.0,507.9 L200.0,510.4 L192.0,512.9 L184.0,515.5 L176.0,518.0 L168.0,520.5 L160.0,523.1 L152.0,525.6 L144.0,528.1 L136.0,530.6 L128.0,533.1Z" fill-opacity="0.205"/>
<path d="M128.0,515.2 L136.0,512.7 L144.0,510.3 L152.0,507.8 L160.0,505.4 L168.0,502.9 L176.0,500.4 L184.0,497.8 L192.0,495.3 L200.0,492.8 L208.0,490.3 L216.0,487.7 L224.0,485.2 L232.0,482.6 L240.0,480.1 L248.0,477.5 L256.0,475.0 L264.0,472.4 L272.0,469.9 L280.0,467.4 L288.0,464.9 L296.0,462.5 L304.0,460.1 L312.0,457.7 L320.0,455.4 L328.0,453.1 L336.0,450.9 L344.0,448.8 L352.0,446.7 L360.0,444.7 L368.0,442.8 L376.0,441.0 L384.0,439.2 L392.0,437.5 L400.0,435.9 L408.0,434.3 L416.0,432.8 L424.0,431.4 L432.0,430.0 L440.0,428.7 L448.0,427.5 L456.0,426.4 L464.0,425.3 L472.0,424.3 L480.0,423.4 L488.0,422.5 L496.0,421.8 L504.0,421.1 L512.0,420.5 L520.0,419.9 L528.0,419.5 L536.0,419.1 L544.0,418.9 L552.0,418.7 L560.0,418.6 L568.0,418.6 L576.0,418.7 L584.0,418.8 L592.0,419.1 L600.0,419.5 L608.0,419.9 L616.0,420.5 L624.0,421.2 L632.0,421.9 L640.0,422.8 L648.0,423.8 L656.0,425.0 L664.0,426.2 L672.0,427.6 L680.0,429.0 L688.0,430.6 L696.0,432.3 L704.0,434.0 L712.0,435.9 L720.0,437.8 L728.0,439.9 L736.0,442.0 L744.0,444.2 L752.0,446.5 L760.0,448.9 L768.0,451.3 L776.0,453.9 L784.0,456.5 L792.0,459.2 L800.0,462.0 L808.0,464.9 L816.0,467.9 L824.0,470.9 L832.0,474.1 L840.0,477.3 L848.0,480.6 L856.0,484.0 L864.0,487.5 L872.0,491.2 L880.0,495.0 L888.0,498.8 L896.0,502.8 L904.0,506.8 L912.0,510.8 L920.0,515.0 L928.0,519.1 L936.0,523.3 L944.0,527.6 L952.0,531.8 L960.0,536.1 L968.0,540.4 L976.0,544.6 L984.0,548.9 L992.0,553.1 L1000.0,557.4 L1008.0,561.6 L1016.0,565.9 L1024.0,570.1 L1032.0,574.3 L1040.0,578.5 L1048.0,582.8 L1056.0,587.0 L1064.0,591.2 L1072.0,595.4 L1080.0,599.7 L1088.0,603.9 L1096.0,608.2 L1104.0,612.4 L1112.0,616.7 L1120.0,620.9 L1128.0,625.1 L1136.0,629.3 L1144.0,633.3 L1152.0,637.4 L1160.0,641.4 L1168.0,645.3 L1176.0,649.1 L1184.0,652.9 L1192.0,656.6 L1200.0,660.3 L1208.0,663.8 L1216.0,667.3 L1224.0,670.8 L1232.0,674.2 L1240.0,677.6 L1248.0,680.9 L1256.0,684.1 L1264.0,687.4 L1272.0,690.5 L1280.0,693.7 L1288.0,696.8 L1296.0,700.0 L1304.0,703.0 L1312.0,706.1 L1320.0,709.1 L1328.0,712.0 L1336.0,714.9 L1344.0,717.7 L1352.0,720.5 L1360.0,723.2 L1368.0,725.9 L1376.0,728.5 L1384.0,731.0 L1392.0,733.5 L1400.0,735.9 L1408.0,738.2 L1416.0,740.5 L1424.0,742.8 L1432.0,745.0 L1440.0,747.1 L1448.0,749.2 L1456.0,751.3 L1464.0,753.3 L1472.0,755.2 L1480.0,757.1 L1488.0,759.0 L1496.0,760.9 L1504.0,762.7 L1512.0,764.4 L1520.0,766.1 L1528.0,767.8 L1536.0,769.5 L1544.0,771.1 L1552.0,772.7 L1560.0,774.2 L1568.0,775.7 L1576.0,777.2 L1584.0,778.6 L1592.0,780.0 L1600.0,781.4 L1608.0,782.7 L1616.0,784.0 L1624.0,785.2 L1632.0,786.4 L1640.0,787.6 L1648.0,788.8 L1656.0,789.9 L1664.0,791.0 L1672.0,792.0 L1680.0,793.0 L1688.0,793.9 L1696.0,794.8 L1704.0,795.7 L1712.0,796.5 L1720.0,797.3 L1728.0,798.0 L1736.0,798.7 L1744.0,799.3 L1752.0,799.9 L1760.0,800.5 L1768.0,801.1 L1776.0,801.6 L1784.0,802.1 L1792.0,802.7 L1800.0,803.2 L1808.0,803.7 L1816.0,804.2 L1824.0,804.8 L1832.0,805.3 L1840.0,805.8 L1848.0,806.3 L1856.0,806.8 L1864.0,807.2 L1872.0,807.7 L1880.0,808.2 L1888.0,808.6 L1896.0,809.0 L1904.0,809.4 L1912.0,809.8 L1920.0,810.2 L1928.0,810.5 L1936.0,810.9 L1944.0,811.2 L1952.0,811.5 L1960.0,811.7 L1968.0,812.0 L1976.0,812.2 L1984.0,812.3 L1992.0,812.5 L1992.0,819.6 L1984.0,819.5 L1976.0,819.3 L1968.0,819.1 L1960.0,818.9 L1952.0,818.6 L1944.0,818.3 L1936.0,818.0 L1928.0,817.7 L1920.0,817.4 L1912.0,817.0 L1904.0,816.6 L1896.0,816.2 L1888.0,815.8 L1880.0,815.4 L1872.0,815.0 L1864.0,814.5 L1856.0,814.1 L1848.0,813.6 L1840.0,813.1 L1832.0,812.6 L1824.0,812.1 L1816.0,811.6 L1808.0,811.1 L1800.0,810.6 L1792.0,810.1 L1784.0,809.6 L1776.0,809.1 L1768.0,808.6 L1760.0,808.0 L1752.0,807.5 L1744.0,806.9 L1736.0,806.2 L1728.0,805.6 L1720.0,804.9 L1712.0,804.1 L1704.0,803.3 L1696.0,802.5 L1688.0,801.6 L1680.0,800.7 L1672.0,799.7 L1664.0,798.7 L1656.0,797.7 L1648.0,796.6 L1640.0,795.5 L1632.0,794.3 L1624.0,793.2 L1616.0,791.9 L1608.0,790.7 L1600.0,789.4 L1592.0,788.1 L1584.0,786.7 L1576.0,785.3 L1568.0,783.9 L1560.0,782.5 L1552.0,781.0 L1544.0,779.4 L1536.0,777.9 L1528.0,776.3 L1520.0,774.6 L1512.0,773.0 L1504.0,771.3 L1496.0,769.5 L1488.0,767.8 L1480.0,766.0 L1472.0,764.1 L1464.0,762.2 L1456.0,760.3 L1448.0,758.4 L1440.0,756.4 L1432.0,754.3 L1424.0,752.2 L1416.0,750.1 L1408.0,747.9 L1400.0,745.6 L1392.0,743.3 L1384.0,741.0 L1376.0,738.5 L1368.0,736.1 L1360.0,733.5 L1352.0,730.9 L1344.0,728.2 L1336.0,725.5 L1328.0,722.7 L1320.0,719.9 L1312.0,717.0 L1304.0,714.1 L1296.0,711.1 L1288.0,708.1 L1280.0,705.1 L1272.0,702.0 L1264.0,698.9 L1256.0,695.8 L1248.0,692.7 L1240.0,689.5 L1232.0,686.3 L1224.0,683.0 L1216.0,679.6 L1208.0,676.2 L1200.0,672.8 L1192.0,669.3 L1184.0,665.7 L1176.0,662.1 L1168.0,658.4 L1160.0,654.6 L1152.0,650.7 L1144.0,646.8 L1136.0,642.9 L1128.0,638.9 L1120.0,634.8 L1112.0,630.7 L1104.0,626.6 L1096.0,622.5 L1088.0,618.4 L1080.0,614.4 L1072.0,610.3 L1064.0,606.3 L1056.0,602.3 L1048.0,598.3 L1040.0,594.2 L1032.0,590.2 L1024.0,586.2 L1016.0,582.2 L1008.0,578.2 L1000.0,574.1 L992.0,570.0 L984.0,565.9 L976.0,561.8 L968.0,557.7 L960.0,553.5 L952.0,549.3 L944.0,545.2 L936.0,541.0 L928.0,536.9 L920.0,532.8 L912.0,528.8 L904.0,524.8 L896.0,520.9 L888.0,517.0 L880.0,513.3 L872.0,509.6 L864.0,506.1 L856.0,502.6 L848.0,499.3 L840.0,496.1 L832.0,493.1 L824.0,490.1 L816.0,487.2 L808.0,484.5 L800.0,481.8 L792.0,479.2 L784.0,476.7 L776.0,474.2 L768.0,471.8 L760.0,469.5 L752.0,467.2 L744.0,465.0 L736.0,462.9 L728.0,460.9 L720.0,459.0 L712.0,457.1 L704.0,455.3 L696.0,453.6 L688.0,452.0 L680.0,450.5 L672.0,449.1 L664.0,447.8 L656.0,446.5 L648.0,445.4 L640.0,444.4 L632.0,443.5 L624.0,442.7 L616.0,442.0 L608.0,441.3 L600.0,440.8 L592.0,440.4 L584.0,440.1 L576.0,439.9 L568.0,439.8 L560.0,439.8 L552.0,439.9 L544.0,440.0 L536.0,440.3 L528.0,440.6 L520.0,441.1 L512.0,441.6 L504.0,442.2 L496.0,442.8 L488.0,443.6 L480.0,444.4 L472.0,445.3 L464.0,446.3 L456.0,447.4 L448.0,448.5 L440.0,449.7 L432.0,451.0 L424.0,452.3 L416.0,453.7 L408.0,455.2 L400.0,456.8 L392.0,458.4 L384.0,460.1 L376.0,461.8 L368.0,463.6 L360.0,465.4 L352.0,467.3 L344.0,469.2 L336.0,471.1 L328.0,473.1 L320.0,475.2 L312.0,477.2 L304.0,479.3 L296.0,481.4 L288.0,483.6 L280.0,485.8 L272.0,488.1 L264.0,490.4 L256.0,492.7 L248.0,495.0 L240.0,497.4 L232.0,499.9 L224.0,502.3 L216.0,504.8 L208.0,507.3 L200.0,509.9 L192.0,512.4 L184.0,515.0 L176.0,517.5 L168.0,520.0 L160.0,522.6 L152.0,525.1 L144.0,527.6 L136.0,530.1 L128.0,532.6Z" fill-opacity="0.205"/>
<path d="M128.0,515.5 L136.0,513.0 L144.0,510.6 L152.0,508.1 L160.0,505.7 L168.0,503.2 L176.0,500.7 L184.0,498.1 L192.0,495.6 L200.0,493.1 L208.0,490.5 L216.0,488.0 L224.0,485.5 L232.0,482.9 L240.0,480.4 L248.0,477.8 L256.0,475.3 L264.0,472.7 L272.0,470.2 L280.0,467.7 L288.0,465.3 L296.0,462.8 L304.0,460.4 L312.0,458.1 L320.0,455.8 L328.0,453.5 L336.0,451.3 L344.0,449.2 L352.0,447.1 L360.0,445.1 L368.0,443.2 L376.0,441.3 L384.0,439.6 L392.0,437.9 L400.0,436.3 L408.0,434.7 L416.0,433.2 L424.0,431.8 L432.0,430.4 L440.0,429.1 L448.0,427.9 L456.0,426.8 L464.0,425.7 L472.0,424.7 L480.0,423.8 L488.0,422.9 L496.0,422.2 L504.0,421.5 L512.0,420.9 L520.0,420.4 L528.0,419.9 L536.0,419.6 L544.0,419.3 L552.0,419.1 L560.0,419.0 L568.0,419.0 L576.0,419.1 L584.0,419.3 L592.0,419.6 L600.0,419.9 L608.0,420.4 L616.0,420.9 L624.0,421.6 L632.0,422.4 L640.0,423.3 L648.0,424.3 L656.0,425.4 L664.0,426.7 L672.0,428.0 L680.0,429.5 L688.0,431.0 L696.0,432.7 L704.0,434.5 L712.0,436.3 L720.0,438.3 L728.0,440.3 L736.0,442.5 L744.0,444.7 L752.0,447.0 L760.0,449.3 L768.0,451.8 L776.0,454.3 L784.0,456.9 L792.0,459.6 L800.0,462.4 L808.0,465.3 L816.0,468.3 L824.0,471.3 L832.0,474.4 L840.0,477.6 L848.0,481.0 L856.0,484.4 L864.0,487.9 L872.0,491.5 L880.0,495.3 L888.0,499.2 L896.0,503.1 L904.0,507.1 L912.0,511.2 L920.0,515.3 L928.0,519.5 L936.0,523.7 L944.0,527.9 L952.0,532.1 L960.0,536.4 L968.0,540.7 L976.0,544.9 L984.0,549.2 L992.0,553.5 L1000.0,557.7 L1008.0,561.9 L1016.0,566.2 L1024.0,570.4 L1032.0,574.6 L1040.0,578.8 L1048.0,583.0 L1056.0,587.2 L1064.0,591.5 L1072.0,595.7 L1080.0,599.9 L1088.0,604.2 L1096.0,608.4 L1104.0,612.7 L1112.0,616.9 L1120.0,621.1 L1128.0,625.3 L1136.0,629.5 L1144.0,633.6 L1152.0,637.6 L1160.0,641.6 L1168.0,645.5 L1176.0,649.3 L1184.0,653.1 L1192.0,656.8 L1200.0,660.4 L1208.0,664.0 L1216.0,667.5 L1224.0,671.0 L1232.0,674.4 L1240.0,677.7 L1248.0,681.0 L1256.0,684.3 L1264.0,687.5 L1272.0,690.7 L1280.0,693.8 L1288.0,697.0 L1296.0,700.1 L1304.0,703.2 L1312.0,706.2 L1320.0,709.2 L1328.0,712.1 L1336.0,715.0 L1344.0,717.8 L1352.0,720.6 L1360.0,723.3 L1368.0,726.0 L1376.0,728.6 L1384.0,731.1 L1392.0,733.5 L1400.0,736.0 L1408.0,738.3 L1416.0,740.6 L1424.0,742.8 L1432.0,745.0 L1440.0,747.2 L1448.0,749.3 L1456.0,751.3 L1464.0,753.3 L1472.0,755.3 L1480.0,757.2 L1488.0,759.1 L1496.0,760.9 L1504.0,762.7 L1512.0,764.5 L1520.0,766.2 L1528.0,767.9 L1536.0,769.5 L1544.0,771.1 L1552.0,772.7 L1560.0,774.2 L1568.0,775.7 L1576.0,777.2 L1584.0,778.6 L1592.0,780.0 L1600.0,781.4 L1608.0,782.7 L1616.0,784.0 L1624.0,785.3 L1632.0,786.5 L1640.0,787.7 L1648.0,788.8 L1656.0,789.9 L1664.0,791.0 L1672.0,792.0 L1680.0,793.0 L1688.0,793.9 L1696.0,794.8 L1704.0,795.7 L1712.0,796.5 L1720.0,797.3 L1728.0,798.0 L1736.0,798.7 L1744.0,799.3 L1752.0,799.9 L1760.0,800.5 L1768.0,801.1 L1776.0,801.6 L1784.0,802.2 L1792.0,802.7 L1800.0,803.2 L1808.0,803.7 L1816.0,804.3 L1824.0,804.8 L1832.0,805.3 L1840.0,805.8 L1848.0,806.3 L1856.0,806.8 L1864.0,807.2 L1872.0,807.7 L1880.0,808.2 L1888.0,808.6 L1896.0,809.0 L1904.0,809.4 L1912.0,809.8 L1920.0,810.2 L1928.0,810.5 L1936.0,810.9 L1944.0,811.2 L1952.0,811.5 L1960.0,811.7 L1968.0,812.0 L1976.0,812.2 L1984.0,812.3 L1992.0,812.5 L1992.0,819.6 L1984.0,819.5 L1976.0,819.3 L1968.0,819.1 L1960.0,818.9 L1952.0,818.6 L1944.0,818.3 L1936.0,818.0 L1928.0,817.7 L1920.0,817.4 L1912.0,817.0 L1904.0,816.6 L1896.0,816.2 L1888.0,815.8 L1880.0,815.4 L1872.0,815.0 L1864.0,814.5 L1856.0,814.0 L1848.0,813.6 L1840.0,813.1 L1832.0,812.6 L1824.0,812.1 L1816.0,811.6 L1808.0,811.1 L1800.0,810.6 L1792.0,810.1 L1784.0,809.6 L1776.0,809.1 L1768.0,808.5 L1760.0,808.0 L1752.0,807.4 L1744.0,806.8 L1736.0,806.2 L1728.0,805.6 L1720.0,804.9 L1712.0,804.1 L1704.0,803.3 L1696.0,802.5 L1688.0,801.6 L1680.0,800.7 L1672.0,799.7 L1664.0,798.7 L1656.0,797.7 L1648.0,796.6 L1640.0,795.5 L1632.0,794.3 L1624.0,793.1 L1616.0,791.9 L1608.0,790.6 L1600.0,789.4 L1592.0,788.0 L1584.0,786.7 L1576.0,785.3 L1568.0,783.9 L1560.0,782.4 L1552.0,780.9 L1544.0,779.4 L1536.0,777.8 L1528.0,776.2 L1520.0,774.6 L1512.0,772.9 L1504.0,771.2 L1496.0,769.5 L1488.0,767.7 L1480.0,765.9 L1472.0,764.0 L1464.0,762.2 L1456.0,760.2 L1448.0,758.3 L1440.0,756.3 L1432.0,754.2 L1424.0,752.1 L1416.0,750.0 L1408.0,747.8 L1400.0,745.5 L1392.0,743.2 L1384.0,740.8 L1376.0,738.4 L1368.0,735.9 L1360.0,733.4 L1352.0,730.8 L1344.0,728.1 L1336.0,725.4 L1328.0,722.6 L1320.0,719.7 L1312.0,716.8 L1304.0,713.9 L1296.0,710.9 L1288.0,707.9 L1280.0,704.9 L1272.0,701.9 L1264.0,698.8 L1256.0,695.7 L1248.0,692.5 L1240.0,689.3 L1232.0,686.1 L1224.0,682.8 L1216.0,679.4 L1208.0,676.0 L1200.0,672.6 L1192.0,669.1 L1184.0,665.5 L1176.0,661.9 L1168.0,658.1 L1160.0,654.3 L1152.0,650.5 L1144.0,646.6 L1136.0,642.6 L1128.0,638.6 L1120.0,634.6 L1112.0,630.5 L1104.0,626.4 L1096.0,622.3 L1088.0,618.2 L1080.0,614.1 L1072.0,610.0 L1064.0,606.0 L1056.0,602.0 L1048.0,597.9 L1040.0,593.9 L1032.0,589.9 L1024.0,585.9 L1016.0,581.9 L1008.0,577.8 L1000.0,573.8 L992.0,569.7 L984.0,565.6 L976.0,561.4 L968.0,557.3 L960.0,553.1 L952.0,548.9 L944.0,544.8 L936.0,540.6 L928.0,536.5 L920.0,532.4 L912.0,528.4 L904.0,524.4 L896.0,520.5 L888.0,516.6 L880.0,512.8 L872.0,509.2 L864.0,505.6 L856.0,502.2 L848.0,498.9 L840.0,495.7 L832.0,492.6 L824.0,489.6 L816.0,486.8 L808.0,484.0 L800.0,481.3 L792.0,478.7 L784.0,476.2 L776.0,473.7 L768.0,471.3 L760.0,469.0 L752.0,466.7 L744.0,464.5 L736.0,462.4 L728.0,460.4 L720.0,458.4 L712.0,456.6 L704.0,454.8 L696.0,453.1 L688.0,451.5 L680.0,450.0 L672.0,448.5 L664.0,447.2 L656.0,446.0 L648.0,444.9 L640.0,443.8 L632.0,442.9 L624.0,442.1 L616.0,441.4 L608.0,440.8 L600.0,440.3 L592.0,439.9 L584.0,439.6 L576.0,439.4 L568.0,439.3 L560.0,439.2 L552.0,439.3 L544.0,439.5 L536.0,439.7 L528.0,440.1 L520.0,440.5 L512.0,441.0 L504.0,441.6 L496.0,442.3 L488.0,443.0 L480.0,443.9 L472.0,444.8 L464.0,445.8 L456.0,446.8 L448.0,447.9 L440.0,449.1 L432.0,450.4 L424.0,451.8 L416.0,453.2 L408.0,454.7 L400.0,456.2 L392.0,457.8 L384.0,459.5 L376.0,461.2 L368.0,463.0 L360.0,464.9 L352.0,466.7 L344.0,468.6 L336.0,470.6 L328.0,472.6 L320.0,474.6 L312.0,476.7 L304.0,478.8 L296.0,481.0 L288.0,483.1 L280.0,485.4 L272.0,487.6 L264.0,489.9 L256.0,492.2 L248.0,494.6 L240.0,497.0 L232.0,499.4 L224.0,501.9 L216.0,504.4 L208.0,506.9 L200.0,509.5 L192.0,512.0 L184.0,514.5 L176.0,517.1 L168.0,519.6 L160.0,522.2 L152.0,524.7 L144.0,527.2 L136.0,529.7 L128.0,532.2Z" fill-opacity="0.205"/>
<path d="M128.0,515.7 L136.0,513.3 L144.0,510.8 L152.0,508.4 L160.0,505.9 L168.0,503.4 L176.0,500.9 L184.0,498.4 L192.0,495.8 L200.0,493.3 L208.0,490.8 L216.0,488.2 L224.0,485.7 L232.0,483.1 L240.0,480.6 L248.0,478.0 L256.0,475.5 L264.0,473.0 L272.0,470.5 L280.0,468.0 L288.0,465.5 L296.0,463.1 L304.0,460.7 L312.0,458.3 L320.0,456.0 L328.0,453.8 L336.0,451.6 L344.0,449.5 L352.0,447.4 L360.0,445.4 L368.0,443.5 L376.0,441.7 L384.0,439.9 L392.0,438.2 L400.0,436.6 L408.0,435.0 L416.0,433.5 L424.0,432.1 L432.0,430.7 L440.0,429.4 L448.0,428.2 L456.0,427.1 L464.0,426.0 L472.0,425.0 L480.0,424.1 L488.0,423.3 L496.0,422.5 L504.0,421.8 L512.0,421.2 L520.0,420.7 L528.0,420.3 L536.0,419.9 L544.0,419.6 L552.0,419.5 L560.0,419.4 L568.0,419.4 L576.0,419.5 L584.0,419.6 L592.0,419.9 L600.0,420.3 L608.0,420.7 L616.0,421.3 L624.0,422.0 L632.0,422.8 L640.0,423.7 L648.0,424.7 L656.0,425.8 L664.0,427.0 L672.0,428.4 L680.0,429.8 L688.0,431.4 L696.0,433.1 L704.0,434.8 L712.0,436.7 L720.0,438.6 L728.0,440.7 L736.0,442.8 L744.0,445.0 L752.0,447.3 L760.0,449.7 L768.0,452.1 L776.0,454.6 L784.0,457.2 L792.0,459.9 L800.0,462.7 L808.0,465.6 L816.0,468.6 L824.0,471.6 L832.0,474.7 L840.0,477.9 L848.0,481.2 L856.0,484.6 L864.0,488.2 L872.0,491.8 L880.0,495.6 L888.0,499.4 L896.0,503.4 L904.0,507.4 L912.0,511.4 L920.0,515.6 L928.0,519.7 L936.0,523.9 L944.0,528.1 L952.0,532.4 L960.0,536.7 L968.0,540.9 L976.0,545.2 L984.0,549.5 L992.0,553.7 L1000.0,557.9 L1008.0,562.2 L1016.0,566.4 L1024.0,570.6 L1032.0,574.8 L1040.0,579.0 L1048.0,583.2 L1056.0,587.5 L1064.0,591.7 L1072.0,595.9 L1080.0,600.1 L1088.0,604.4 L1096.0,608.6 L1104.0,612.9 L1112.0,617.1 L1120.0,621.3 L1128.0,625.5 L1136.0,629.6 L1144.0,633.7 L1152.0,637.8 L1160.0,641.7 L1168.0,645.6 L1176.0,649.5 L1184.0,653.2 L1192.0,656.9 L1200.0,660.6 L1208.0,664.1 L1216.0,667.6 L1224.0,671.1 L1232.0,674.5 L1240.0,677.8 L1248.0,681.1 L1256.0,684.4 L1264.0,687.6 L1272.0,690.8 L1280.0,694.0 L1288.0,697.1 L1296.0,700.2 L1304.0,703.3 L1312.0,706.3 L1320.0,709.3 L1328.0,712.2 L1336.0,715.1 L1344.0,717.9 L1352.0,720.7 L1360.0,723.4 L1368.0,726.1 L1376.0,728.6 L1384.0,731.2 L1392.0,733.6 L1400.0,736.0 L1408.0,738.4 L1416.0,740.7 L1424.0,742.9 L1432.0,745.1 L1440.0,747.2 L1448.0,749.3 L1456.0,751.4 L1464.0,753.4 L1472.0,755.3 L1480.0,757.2 L1488.0,759.1 L1496.0,761.0 L1504.0,762.8 L1512.0,764.5 L1520.0,766.2 L1528.0,767.9 L1536.0,769.6 L1544.0,771.2 L1552.0,772.7 L1560.0,774.3 L1568.0,775.8 L1576.0,777.2 L1584.0,778.7 L1592.0,780.1 L1600.0,781.4 L1608.0,782.7 L1616.0,784.0 L1624.0,785.3 L1632.0,786.5 L1640.0,787.7 L1648.0,788.8 L1656.0,789.9 L1664.0,791.0 L1672.0,792.0 L1680.0,793.0 L1688.0,794.0 L1696.0,794.9 L1704.0,795.7 L1712.0,796.5 L1720.0,797.3 L1728.0,798.0 L1736.0,798.7 L1744.0,799.3 L1752.0,799.9 L1760.0,800.5 L1768.0,801.1 L1776.0,801.6 L1784.0,802.2 L1792.0,802.7 L1800.0,803.2 L1808.0,803.7 L1816.0,804.3 L1824.0,804.8 L1832.0,805.3 L1840.0,805.8 L1848.0,806.3 L1856.0,806.8 L1864.0,807.3 L1872.0,807.7 L1880.0,808.2 L1888.0,808.6 L1896.0,809.0 L1904.0,809.4 L1912.0,809.8 L1920.0,810.2 L1928.0,810.5 L1936.0,810.9 L1944.0,811.2 L1952.0,811.5 L1960.0,811.7 L1968.0,812.0 L1976.0,812.2 L1984.0,812.3 L1992.0,812.5 L1992.0,819.6 L1984.0,819.5 L1976.0,819.3 L1968.0,819.1 L1960.0,818.9 L1952.0,818.6 L1944.0,818.3 L1936.0,818.0 L1928.0,817.7 L1920.0,817.4 L1912.0,817.0 L1904.0,816.6 L1896.0,816.2 L1888.0,815.8 L1880.0,815.4 L1872.0,815.0 L1864.0,814.5 L1856.0,814.0 L1848.0,813.6 L1840.0,813.1 L1832.0,812.6 L1824.0,812.1 L1816.0,811.6 L1808.0,811.1 L1800.0,810.6 L1792.0,810.1 L1784.0,809.6 L1776.0,809.1 L1768.0,808.5 L1760.0,808.0 L1752.0,807.4 L1744.0,806.8 L1736.0,806.2 L1728.0,805.5 L1720.0,804.8 L1712.0,804.1 L1704.0,803.3 L1696.0,802.5 L1688.0,801.6 L1680.0,800.6 L1672.0,799.7 L1664.0,798.7 L1656.0,797.6 L1648.0,796.6 L1640.0,795.4 L1632.0,794.3 L1624.0,793.1 L1616.0,791.9 L1608.0,790.6 L1600.0,789.3 L1592.0,788.0 L1584.0,786.6 L1576.0,785.3 L1568.0,783.8 L1560.0,782.4 L1552.0,780.9 L1544.0,779.3 L1536.0,777.8 L1528.0,776.2 L1520.0,774.5 L1512.0,772.9 L1504.0,771.2 L1496.0,769.4 L1488.0,767.6 L1480.0,765.8 L1472.0,764.0 L1464.0,762.1 L1456.0,760.2 L1448.0,758.2 L1440.0,756.2 L1432.0,754.1 L1424.0,752.0 L1416.0,749.9 L1408.0,747.7 L1400.0,745.4 L1392.0,743.1 L1384.0,740.8 L1376.0,738.3 L1368.0,735.8 L1360.0,733.3 L1352.0,730.7 L1344.0,728.0 L1336.0,725.3 L1328.0,722.5 L1320.0,719.6 L1312.0,716.7 L1304.0,713.8 L1296.0,710.8 L1288.0,707.8 L1280.0,704.8 L1272.0,701.7 L1264.0,698.6 L1256.0,695.5 L1248.0,692.4 L1240.0,689.2 L1232.0,685.9 L1224.0,682.6 L1216.0,679.3 L1208.0,675.9 L1200.0,672.4 L1192.0,668.9 L1184.0,665.3 L1176.0,661.7 L1168.0,658.0 L1160.0,654.2 L1152.0,650.3 L1144.0,646.4 L1136.0,642.4 L1128.0,638.4 L1120.0,634.4 L1112.0,630.3 L1104.0,626.2 L1096.0,622.1 L1088.0,617.9 L1080.0,613.9 L1072.0,609.8 L1064.0,605.7 L1056.0,601.7 L1048.0,597.7 L1040.0,593.7 L1032.0,589.6 L1024.0,585.6 L1016.0,581.6 L1008.0,577.5 L1000.0,573.5 L992.0,569.4 L984.0,565.3 L976.0,561.1 L968.0,557.0 L960.0,552.8 L952.0,548.6 L944.0,544.5 L936.0,540.3 L928.0,536.2 L920.0,532.1 L912.0,528.1 L904.0,524.1 L896.0,520.1 L888.0,516.3 L880.0,512.5 L872.0,508.8 L864.0,505.3 L856.0,501.8 L848.0,498.5 L840.0,495.3 L832.0,492.2 L824.0,489.3 L816.0,486.4 L808.0,483.6 L800.0,480.9 L792.0,478.3 L784.0,475.8 L776.0,473.3 L768.0,470.9 L760.0,468.6 L752.0,466.3 L744.0,464.1 L736.0,462.0 L728.0,460.0 L720.0,458.0 L712.0,456.1 L704.0,454.3 L696.0,452.7 L688.0,451.0 L680.0,449.5 L672.0,448.1 L664.0,446.8 L656.0,445.6 L648.0,444.4 L640.0,443.4 L632.0,442.5 L624.0,441.7 L616.0,441.0 L608.0,440.4 L600.0,439.9 L592.0,439.5 L584.0,439.2 L576.0,439.0 L568.0,438.8 L560.0,438.8 L552.0,438.9 L544.0,439.1 L536.0,439.3 L528.0,439.6 L520.0,440.1 L512.0,440.6 L504.0,441.2 L496.0,441.8 L488.0,442.6 L480.0,443.4 L472.0,444.3 L464.0,445.3 L456.0,446.4 L448.0,447.5 L440.0,448.7 L432.0,450.0 L424.0,451.3 L416.0,452.7 L408.0,454.2 L400.0,455.8 L392.0,457.4 L384.0,459.0 L376.0,460.8 L368.0,462.6 L360.0,464.4 L352.0,466.3 L344.0,468.2 L336.0,470.2 L328.0,472.2 L320.0,474.2 L312.0,476.3 L304.0,478.4 L296.0,480.6 L288.0,482.8 L280.0,485.0 L272.0,487.2 L264.0,489.5 L256.0,491.9 L248.0,494.3 L240.0,496.7 L232.0,499.1 L224.0,501.6 L216.0,504.1 L208.0,506.6 L200.0,509.1 L192.0,511.7 L184.0,514.2 L176.0,516.8 L168.0,519.3 L160.0,521.8 L152.0,524.4 L144.0,526.9 L136.0,529.4 L128.0,531.9Z" fill-opacity="0.205"/>
<path d="M128.0,515.9 L136.0,513.5 L144.0,511.0 L152.0,508.6 L160.0,506.1 L168.0,503.6 L176.0,501.1 L184.0,498.6 L192.0,496.0 L200.0,493.5 L208.0,490.9 L216.0,488.4 L224.0,485.9 L232.0,483.3 L240.0,480.8 L248.0,478.2 L256.0,475.7 L264.0,473.2 L272.0,470.7 L280.0,468.2 L288.0,465.7 L296.0,463.3 L304.0,460.9 L312.0,458.6 L320.0,456.3 L328.0,454.0 L336.0,451.8 L344.0,449.7 L352.0,447.6 L360.0,445.6 L368.0,443.7 L376.0,441.9 L384.0,440.1 L392.0,438.4 L400.0,436.8 L408.0,435.2 L416.0,433.8 L424.0,432.3 L432.0,431.0 L440.0,429.7 L448.0,428.5 L456.0,427.3 L464.0,426.3 L472.0,425.3 L480.0,424.4 L488.0,423.5 L496.0,422.8 L504.0,422.1 L512.0,421.5 L520.0,421.0 L528.0,420.5 L536.0,420.2 L544.0,419.9 L552.0,419.7 L560.0,419.7 L568.0,419.7 L576.0,419.7 L584.0,419.9 L592.0,420.2 L600.0,420.6 L608.0,421.0 L616.0,421.6 L624.0,422.3 L632.0,423.0 L640.0,423.9 L648.0,425.0 L656.0,426.1 L664.0,427.3 L672.0,428.7 L680.0,430.1 L688.0,431.7 L696.0,433.4 L704.0,435.1 L712.0,437.0 L720.0,438.9 L728.0,440.9 L736.0,443.1 L744.0,445.3 L752.0,447.6 L760.0,449.9 L768.0,452.4 L776.0,454.9 L784.0,457.5 L792.0,460.2 L800.0,463.0 L808.0,465.9 L816.0,468.8 L824.0,471.8 L832.0,475.0 L840.0,478.2 L848.0,481.5 L856.0,484.9 L864.0,488.4 L872.0,492.0 L880.0,495.8 L888.0,499.6 L896.0,503.6 L904.0,507.6 L912.0,511.7 L920.0,515.8 L928.0,519.9 L936.0,524.1 L944.0,528.4 L952.0,532.6 L960.0,536.9 L968.0,541.1 L976.0,545.4 L984.0,549.7 L992.0,553.9 L1000.0,558.1 L1008.0,562.4 L1016.0,566.6 L1024.0,570.8 L1032.0,575.0 L1040.0,579.2 L1048.0,583.4 L1056.0,587.6 L1064.0,591.8 L1072.0,596.1 L1080.0,600.3 L1088.0,604.5 L1096.0,608.8 L1104.0,613.0 L1112.0,617.2 L1120.0,621.4 L1128.0,625.6 L1136.0,629.8 L1144.0,633.8 L1152.0,637.9 L1160.0,641.9 L1168.0,645.8 L1176.0,649.6 L1184.0,653.4 L1192.0,657.1 L1200.0,660.7 L1208.0,664.2 L1216.0,667.7 L1224.0,671.2 L1232.0,674.6 L1240.0,677.9 L1248.0,681.2 L1256.0,684.5 L1264.0,687.7 L1272.0,690.9 L1280.0,694.0 L1288.0,697.2 L1296.0,700.3 L1304.0,703.3 L1312.0,706.4 L1320.0,709.3 L1328.0,712.3 L1336.0,715.2 L1344.0,718.0 L1352.0,720.8 L1360.0,723.5 L1368.0,726.1 L1376.0,728.7 L1384.0,731.2 L1392.0,733.7 L1400.0,736.1 L1408.0,738.4 L1416.0,740.7 L1424.0,742.9 L1432.0,745.1 L1440.0,747.3 L1448.0,749.4 L1456.0,751.4 L1464.0,753.4 L1472.0,755.4 L1480.0,757.3 L1488.0,759.2 L1496.0,761.0 L1504.0,762.8 L1512.0,764.5 L1520.0,766.3 L1528.0,767.9 L1536.0,769.6 L1544.0,771.2 L1552.0,772.8 L1560.0,774.3 L1568.0,775.8 L1576.0,777.3 L1584.0,778.7 L1592.0,780.1 L1600.0,781.4 L1608.0,782.8 L1616.0,784.0 L1624.0,785.3 L1632.0,786.5 L1640.0,787.7 L1648.0,788.8 L1656.0,789.9 L1664.0,791.0 L1672.0,792.0 L1680.0,793.0 L1688.0,794.0 L1696.0,794.9 L1704.0,795.7 L1712.0,796.5 L1720.0,797.3 L1728.0,798.0 L1736.0,798.7 L1744.0,799.3 L1752.0,800.0 L1760.0,800.5 L1768.0,801.1 L1776.0,801.6 L1784.0,802.2 L1792.0,802.7 L1800.0,803.2 L1808.0,803.8 L1816.0,804.3 L1824.0,804.8 L1832.0,805.3 L1840.0,805.8 L1848.0,806.3 L1856.0,806.8 L1864.0,807.3 L1872.0,807.7 L1880.0,808.2 L1888.0,808.6 L1896.0,809.0 L1904.0,809.4 L1912.0,809.8 L1920.0,810.2 L1928.0,810.6 L1936.0,810.9 L1944.0,811.2 L1952.0,811.5 L1960.0,811.7 L1968.0,812.0 L1976.0,812.2 L1984.0,812.3 L1992.0,812.5 L1992.0,819.6 L1984.0,819.5 L1976.0,819.3 L1968.0,819.1 L1960.0,818.9 L1952.0,818.6 L1944.0,818.3 L1936.0,818.0 L1928.0,817.7 L1920.0,817.4 L1912.0,817.0 L1904.0,816.6 L1896.0,816.2 L1888.0,815.8 L1880.0,815.4 L1872.0,814.9 L1864.0,814.5 L1856.0,814.0 L1848.0,813.6 L1840.0,813.1 L1832.0,812.6 L1824.0,812.1 L1816.0,811.6 L1808.0,811.1 L1800.0,810.6 L1792.0,810.1 L1784.0,809.6 L1776.0,809.0 L1768.0,808.5 L1760.0,808.0 L1752.0,807.4 L1744.0,806.8 L1736.0,806.2 L1728.0,805.5 L1720.0,804.8 L1712.0,804.1 L1704.0,803.3 L1696.0,802.4 L1688.0,801.6 L1680.0,800.6 L1672.0,799.7 L1664.0,798.7 L1656.0,797.6 L1648.0,796.5 L1640.0,795.4 L1632.0,794.3 L1624.0,793.1 L1616.0,791.8 L1608.0,790.6 L1600.0,789.3 L1592.0,788.0 L1584.0,786.6 L1576.0,785.2 L1568.0,783.8 L1560.0,782.3 L1552.0,780.8 L1544.0,779.3 L1536.0,777.7 L1528.0,776.1 L1520.0,774.5 L1512.0,772.8 L1504.0,771.1 L1496.0,769.4 L1488.0,767.6 L1480.0,765.8 L1472.0,763.9 L1464.0,762.1 L1456.0,760.1 L1448.0,758.2 L1440.0,756.1 L1432.0,754.1 L1424.0,752.0 L1416.0,749.8 L1408.0,747.6 L1400.0,745.4 L1392.0,743.1 L1384.0,740.7 L1376.0,738.3 L1368.0,735.8 L1360.0,733.2 L1352.0,730.6 L1344.0,727.9 L1336.0,725.2 L1328.0,722.4 L1320.0,719.5 L1312.0,716.6 L1304.0,713.7 L1296.0,710.7 L1288.0,707.7 L1280.0,704.7 L1272.0,701.6 L1264.0,698.5 L1256.0,695.4 L1248.0,692.2 L1240.0,689.0 L1232.0,685.8 L1224.0,682.5 L1216.0,679.2 L1208.0,675.8 L1200.0,672.3 L1192.0,668.8 L1184.0,665.2 L1176.0,661.5 L1168.0,657.8 L1160.0,654.0 L1152.0,650.2 L1144.0,646.2 L1136.0,642.3 L1128.0,638.3 L1120.0,634.2 L1112.0,630.1 L1104.0,626.0 L1096.0,621.9 L1088.0,617.8 L1080.0,613.7 L1072.0,609.6 L1064.0,605.6 L1056.0,601.5 L1048.0,597.5 L1040.0,593.5 L1032.0,589.4 L1024.0,585.4 L1016.0,581.4 L1008.0,577.3 L1000.0,573.2 L992.0,569.2 L984.0,565.0 L976.0,560.9 L968.0,556.7 L960.0,552.6 L952.0,548.4 L944.0,544.2 L936.0,540.1 L928.0,535.9 L920.0,531.8 L912.0,527.8 L904.0,523.8 L896.0,519.9 L888.0,516.0 L880.0,512.2 L872.0,508.6 L864.0,505.0 L856.0,501.6 L848.0,498.2 L840.0,495.0 L832.0,492.0 L824.0,489.0 L816.0,486.1 L808.0,483.3 L800.0,480.6 L792.0,478.0 L784.0,475.5 L776.0,473.0 L768.0,470.6 L760.0,468.2 L752.0,466.0 L744.0,463.8 L736.0,461.7 L728.0,459.6 L720.0,457.7 L712.0,455.8 L704.0,454.0 L696.0,452.3 L688.0,450.7 L680.0,449.2 L672.0,447.8 L664.0,446.4 L656.0,445.2 L648.0,444.1 L640.0,443.1 L632.0,442.2 L624.0,441.4 L616.0,440.6 L608.0,440.0 L600.0,439.5 L592.0,439.1 L584.0,438.8 L576.0,438.6 L568.0,438.5 L560.0,438.5 L552.0,438.6 L544.0,438.7 L536.0,439.0 L528.0,439.3 L520.0,439.7 L512.0,440.2 L504.0,440.8 L496.0,441.5 L488.0,442.2 L480.0,443.1 L472.0,444.0 L464.0,445.0 L456.0,446.0 L448.0,447.1 L440.0,448.3 L432.0,449.6 L424.0,451.0 L416.0,452.4 L408.0,453.9 L400.0,455.4 L392.0,457.0 L384.0,458.7 L376.0,460.4 L368.0,462.2 L360.0,464.1 L352.0,465.9 L344.0,467.9 L336.0,469.8 L328.0,471.8 L320.0,473.9 L312.0,476.0 L304.0,478.1 L296.0,480.3 L288.0,482.4 L280.0,484.7 L272.0,487.0 L264.0,489.3 L256.0,491.6 L248.0,494.0 L240.0,496.4 L232.0,498.8 L224.0,501.3 L216.0,503.8 L208.0,506.4 L200.0,508.9 L192.0,511.4 L184.0,514.0 L176.0,516.5 L168.0,519.1 L160.0,521.6 L152.0,524.1 L144.0,526.6 L136.0,529.2 L128.0,531.6Z" fill-opacity="0.205"/>
<path d="M128.0,516.1 L136.0,513.6 L144.0,511.2 L152.0,508.7 L160.0,506.2 L168.0,503.7 L176.0,501.2 L184.0,498.7 L192.0,496.2 L200.0,493.6 L208.0,491.1 L216.0,488.6 L224.0,486.0 L232.0,483.5 L240.0,480.9 L248.0,478.4 L256.0,475.8 L264.0,473.3 L272.0,470.8 L280.0,468.3 L288.0,465.9 L296.0,463.5 L304.0,461.1 L312.0,458.7 L320.0,456.4 L328.0,454.2 L336.0,452.0 L344.0,449.9 L352.0,447.8 L360.0,445.8 L368.0,443.9 L376.0,442.1 L384.0,440.3 L392.0,438.6 L400.0,437.0 L408.0,435.4 L416.0,433.9 L424.0,432.5 L432.0,431.2 L440.0,429.9 L448.0,428.7 L456.0,427.5 L464.0,426.5 L472.0,425.5 L480.0,424.6 L488.0,423.7 L496.0,423.0 L504.0,422.3 L512.0,421.7 L520.0,421.2 L528.0,420.8 L536.0,420.4 L544.0,420.1 L552.0,420.0 L560.0,419.9 L568.0,419.9 L576.0,420.0 L584.0,420.1 L592.0,420.4 L600.0,420.8 L608.0,421.3 L616.0,421.8 L624.0,422.5 L632.0,423.3 L640.0,424.2 L648.0,425.2 L656.0,426.3 L664.0,427.6 L672.0,428.9 L680.0,430.4 L688.0,431.9 L696.0,433.6 L704.0,435.3 L712.0,437.2 L720.0,439.1 L728.0,441.2 L736.0,443.3 L744.0,445.5 L752.0,447.8 L760.0,450.1 L768.0,452.6 L776.0,455.1 L784.0,457.7 L792.0,460.4 L800.0,463.2 L808.0,466.1 L816.0,469.0 L824.0,472.0 L832.0,475.1 L840.0,478.3 L848.0,481.6 L856.0,485.0 L864.0,488.6 L872.0,492.2 L880.0,496.0 L888.0,499.8 L896.0,503.8 L904.0,507.8 L912.0,511.8 L920.0,515.9 L928.0,520.1 L936.0,524.3 L944.0,528.5 L952.0,532.8 L960.0,537.0 L968.0,541.3 L976.0,545.6 L984.0,549.8 L992.0,554.1 L1000.0,558.3 L1008.0,562.5 L1016.0,566.7 L1024.0,570.9 L1032.0,575.1 L1040.0,579.3 L1048.0,583.5 L1056.0,587.8 L1064.0,592.0 L1072.0,596.2 L1080.0,600.4 L1088.0,604.6 L1096.0,608.9 L1104.0,613.1 L1112.0,617.3 L1120.0,621.6 L1128.0,625.7 L1136.0,629.9 L1144.0,633.9 L1152.0,638.0 L1160.0,642.0 L1168.0,645.9 L1176.0,649.7 L1184.0,653.5 L1192.0,657.1 L1200.0,660.8 L1208.0,664.3 L1216.0,667.8 L1224.0,671.3 L1232.0,674.7 L1240.0,678.0 L1248.0,681.3 L1256.0,684.6 L1264.0,687.8 L1272.0,691.0 L1280.0,694.1 L1288.0,697.2 L1296.0,700.3 L1304.0,703.4 L1312.0,706.4 L1320.0,709.4 L1328.0,712.3 L1336.0,715.2 L1344.0,718.1 L1352.0,720.8 L1360.0,723.5 L1368.0,726.2 L1376.0,728.7 L1384.0,731.3 L1392.0,733.7 L1400.0,736.1 L1408.0,738.5 L1416.0,740.8 L1424.0,743.0 L1432.0,745.2 L1440.0,747.3 L1448.0,749.4 L1456.0,751.4 L1464.0,753.4 L1472.0,755.4 L1480.0,757.3 L1488.0,759.2 L1496.0,761.0 L1504.0,762.8 L1512.0,764.6 L1520.0,766.3 L1528.0,768.0 L1536.0,769.6 L1544.0,771.2 L1552.0,772.8 L1560.0,774.3 L1568.0,775.8 L1576.0,777.3 L1584.0,778.7 L1592.0,780.1 L1600.0,781.4 L1608.0,782.8 L1616.0,784.1 L1624.0,785.3 L1632.0,786.5 L1640.0,787.7 L1648.0,788.8 L1656.0,790.0 L1664.0,791.0 L1672.0,792.0 L1680.0,793.0 L1688.0,794.0 L1696.0,794.9 L1704.0,795.7 L1712.0,796.5 L1720.0,797.3 L1728.0,798.0 L1736.0,798.7 L1744.0,799.4 L1752.0,800.0 L1760.0,800.6 L1768.0,801.1 L1776.0,801.7 L1784.0,802.2 L1792.0,802.7 L1800.0,803.2 L1808.0,803.8 L1816.0,804.3 L1824.0,804.8 L1832.0,805.3 L1840.0,805.8 L1848.0,806.3 L1856.0,806.8 L1864.0,807.3 L1872.0,807.7 L1880.0,808.2 L1888.0,808.6 L1896.0,809.0 L1904.0,809.4 L1912.0,809.8 L1920.0,810.2 L1928.0,810.6 L1936.0,810.9 L1944.0,811.2 L1952.0,811.5 L1960.0,811.7 L1968.0,812.0 L1976.0,812.2 L1984.0,812.3 L1992.0,812.5 L1992.0,819.6 L1984.0,819.5 L1976.0,819.3 L1968.0,819.1 L1960.0,818.9 L1952.0,818.6 L1944.0,818.3 L1936.0,818.0 L1928.0,817.7 L1920.0,817.4 L1912.0,817.0 L1904.0,816.6 L1896.0,816.2 L1888.0,815.8 L1880.0,815.4 L1872.0,814.9 L1864.0,814.5 L1856.0,814.0 L1848.0,813.6 L1840.0,813.1 L1832.0,812.6 L1824.0,812.1 L1816.0,811.6 L1808.0,811.1 L1800.0,810.6 L1792.0,810.1 L1784.0,809.6 L1776.0,809.0 L1768.0,808.5 L1760.0,808.0 L1752.0,807.4 L1744.0,806.8 L1736.0,806.2 L1728.0,805.5 L1720.0,804.8 L1712.0,804.1 L1704.0,803.3 L1696.0,802.4 L1688.0,801.5 L1680.0,800.6 L1672.0,799.6 L1664.0,798.6 L1656.0,797.6 L1648.0,796.5 L1640.0,795.4 L1632.0,794.2 L1624.0,793.1 L1616.0,791.8 L1608.0,790.6 L1600.0,789.3 L1592.0,788.0 L1584.0,786.6 L1576.0,785.2 L1568.0,783.8 L1560.0,782.3 L1552.0,780.8 L1544.0,779.3 L1536.0,777.7 L1528.0,776.1 L1520.0,774.5 L1512.0,772.8 L1504.0,771.1 L1496.0,769.4 L1488.0,767.6 L1480.0,765.8 L1472.0,763.9 L1464.0,762.0 L1456.0,760.1 L1448.0,758.1 L1440.0,756.1 L1432.0,754.0 L1424.0,751.9 L1416.0,749.8 L1408.0,747.6 L1400.0,745.3 L1392.0,743.0 L1384.0,740.6 L1376.0,738.2 L1368.0,735.7 L1360.0,733.1 L1352.0,730.5 L1344.0,727.8 L1336.0,725.1 L1328.0,722.3 L1320.0,719.5 L1312.0,716.6 L1304.0,713.6 L1296.0,710.6 L1288.0,707.6 L1280.0,704.6 L1272.0,701.5 L1264.0,698.4 L1256.0,695.3 L1248.0,692.2 L1240.0,688.9 L1232.0,685.7 L1224.0,682.4 L1216.0,679.1 L1208.0,675.7 L1200.0,672.2 L1192.0,668.7 L1184.0,665.1 L1176.0,661.4 L1168.0,657.7 L1160.0,653.9 L1152.0,650.0 L1144.0,646.1 L1136.0,642.1 L1128.0,638.1 L1120.0,634.1 L1112.0,630.0 L1104.0,625.9 L1096.0,621.7 L1088.0,617.6 L1080.0,613.5 L1072.0,609.5 L1064.0,605.4 L1056.0,601.4 L1048.0,597.3 L1040.0,593.3 L1032.0,589.3 L1024.0,585.2 L1016.0,581.2 L1008.0,577.1 L1000.0,573.1 L992.0,569.0 L984.0,564.8 L976.0,560.7 L968.0,556.5 L960.0,552.4 L952.0,548.2 L944.0,544.0 L936.0,539.9 L928.0,535.7 L920.0,531.6 L912.0,527.6 L904.0,523.6 L896.0,519.7 L888.0,515.8 L880.0,512.0 L872.0,508.3 L864.0,504.8 L856.0,501.3 L848.0,498.0 L840.0,494.8 L832.0,491.7 L824.0,488.7 L816.0,485.9 L808.0,483.1 L800.0,480.4 L792.0,477.8 L784.0,475.2 L776.0,472.7 L768.0,470.3 L760.0,468.0 L752.0,465.7 L744.0,463.5 L736.0,461.4 L728.0,459.4 L720.0,457.4 L712.0,455.5 L704.0,453.7 L696.0,452.0 L688.0,450.4 L680.0,448.9 L672.0,447.5 L664.0,446.2 L656.0,444.9 L648.0,443.8 L640.0,442.8 L632.0,441.9 L624.0,441.1 L616.0,440.4 L608.0,439.8 L600.0,439.3 L592.0,438.9 L584.0,438.6 L576.0,438.3 L568.0,438.2 L560.0,438.2 L552.0,438.3 L544.0,438.4 L536.0,438.7 L528.0,439.0 L520.0,439.5 L512.0,440.0 L504.0,440.6 L496.0,441.2 L488.0,442.0 L480.0,442.8 L472.0,443.7 L464.0,444.7 L456.0,445.7 L448.0,446.9 L440.0,448.1 L432.0,449.3 L424.0,450.7 L416.0,452.1 L408.0,453.6 L400.0,455.1 L392.0,456.7 L384.0,458.4 L376.0,460.1 L368.0,461.9 L360.0,463.8 L352.0,465.7 L344.0,467.6 L336.0,469.6 L328.0,471.6 L320.0,473.6 L312.0,475.7 L304.0,477.8 L296.0,480.0 L288.0,482.2 L280.0,484.4 L272.0,486.7 L264.0,489.0 L256.0,491.4 L248.0,493.8 L240.0,496.2 L232.0,498.6 L224.0,501.1 L216.0,503.6 L208.0,506.1 L200.0,508.7 L192.0,511.2 L184.0,513.8 L176.0,516.3 L168.0,518.9 L160.0,521.4 L152.0,523.9 L144.0,526.4 L136.0,529.0 L128.0,531.4Z" fill-opacity="0.205"/>
<path d="M128.0,516.2 L136.0,513.8 L144.0,511.3 L152.0,508.8 L160.0,506.4 L168.0,503.9 L176.0,501.3 L184.0,498.8 L192.0,496.3 L200.0,493.7 L208.0,491.2 L216.0,488.7 L224.0,486.1 L232.0,483.6 L240.0,481.0 L248.0,478.5 L256.0,476.0 L264.0,473.4 L272.0,470.9 L280.0,468.5 L288.0,466.0 L296.0,463.6 L304.0,461.2 L312.0,458.9 L320.0,456.6 L328.0,454.3 L336.0,452.2 L344.0,450.0 L352.0,448.0 L360.0,446.0 L368.0,444.1 L376.0,442.2 L384.0,440.5 L392.0,438.8 L400.0,437.2 L408.0,435.6 L416.0,434.1 L424.0,432.7 L432.0,431.3 L440.0,430.0 L448.0,428.8 L456.0,427.7 L464.0,426.6 L472.0,425.7 L480.0,424.7 L488.0,423.9 L496.0,423.2 L504.0,422.5 L512.0,421.9 L520.0,421.4 L528.0,420.9 L536.0,420.6 L544.0,420.3 L552.0,420.1 L560.0,420.0 L568.0,420.1 L576.0,420.1 L584.0,420.3 L592.0,420.6 L600.0,421.0 L608.0,421.4 L616.0,422.0 L624.0,422.7 L632.0,423.5 L640.0,424.4 L648.0,425.4 L656.0,426.5 L664.0,427.7 L672.0,429.1 L680.0,430.5 L688.0,432.1 L696.0,433.8 L704.0,435.5 L712.0,437.4 L720.0,439.3 L728.0,441.3 L736.0,443.5 L744.0,445.7 L752.0,447.9 L760.0,450.3 L768.0,452.7 L776.0,455.2 L784.0,457.9 L792.0,460.6 L800.0,463.3 L808.0,466.2 L816.0,469.2 L824.0,472.2 L832.0,475.3 L840.0,478.5 L848.0,481.8 L856.0,485.2 L864.0,488.7 L872.0,492.4 L880.0,496.1 L888.0,500.0 L896.0,503.9 L904.0,507.9 L912.0,512.0 L920.0,516.1 L928.0,520.2 L936.0,524.4 L944.0,528.7 L952.0,532.9 L960.0,537.2 L968.0,541.4 L976.0,545.7 L984.0,549.9 L992.0,554.2 L1000.0,558.4 L1008.0,562.6 L1016.0,566.8 L1024.0,571.0 L1032.0,575.3 L1040.0,579.5 L1048.0,583.7 L1056.0,587.9 L1064.0,592.1 L1072.0,596.3 L1080.0,600.5 L1088.0,604.7 L1096.0,609.0 L1104.0,613.2 L1112.0,617.4 L1120.0,621.6 L1128.0,625.8 L1136.0,629.9 L1144.0,634.0 L1152.0,638.1 L1160.0,642.0 L1168.0,645.9 L1176.0,649.8 L1184.0,653.5 L1192.0,657.2 L1200.0,660.8 L1208.0,664.4 L1216.0,667.9 L1224.0,671.3 L1232.0,674.7 L1240.0,678.1 L1248.0,681.4 L1256.0,684.6 L1264.0,687.8 L1272.0,691.0 L1280.0,694.2 L1288.0,697.3 L1296.0,700.4 L1304.0,703.4 L1312.0,706.5 L1320.0,709.5 L1328.0,712.4 L1336.0,715.3 L1344.0,718.1 L1352.0,720.9 L1360.0,723.6 L1368.0,726.2 L1376.0,728.8 L1384.0,731.3 L1392.0,733.8 L1400.0,736.2 L1408.0,738.5 L1416.0,740.8 L1424.0,743.0 L1432.0,745.2 L1440.0,747.3 L1448.0,749.4 L1456.0,751.5 L1464.0,753.5 L1472.0,755.4 L1480.0,757.3 L1488.0,759.2 L1496.0,761.0 L1504.0,762.8 L1512.0,764.6 L1520.0,766.3 L1528.0,768.0 L1536.0,769.6 L1544.0,771.2 L1552.0,772.8 L1560.0,774.3 L1568.0,775.8 L1576.0,777.3 L1584.0,778.7 L1592.0,780.1 L1600.0,781.5 L1608.0,782.8 L1616.0,784.1 L1624.0,785.3 L1632.0,786.5 L1640.0,787.7 L1648.0,788.9 L1656.0,790.0 L1664.0,791.0 L1672.0,792.1 L1680.0,793.0 L1688.0,794.0 L1696.0,794.9 L1704.0,795.7 L1712.0,796.6 L1720.0,797.3 L1728.0,798.0 L1736.0,798.7 L1744.0,799.4 L1752.0,800.0 L1760.0,800.6 L1768.0,801.1 L1776.0,801.7 L1784.0,802.2 L1792.0,802.7 L1800.0,803.2 L1808.0,803.8 L1816.0,804.3 L1824.0,804.8 L1832.0,805.3 L1840.0,805.8 L1848.0,806.3 L1856.0,806.8 L1864.0,807.3 L1872.0,807.7 L1880.0,808.2 L1888.0,808.6 L1896.0,809.0 L1904.0,809.4 L1912.0,809.8 L1920.0,810.2 L1928.0,810.6 L1936.0,810.9 L1944.0,811.2 L1952.0,811.5 L1960.0,811.7 L1968.0,812.0 L1976.0,812.2 L1984.0,812.4 L1992.0,812.5 L1992.0,819.6 L1984.0,819.5 L1976.0,819.3 L1968.0,819.1 L1960.0,818.9 L1952.0,818.6 L1944.0,818.3 L1936.0,818.0 L1928.0,817.7 L1920.0,817.4 L1912.0,817.0 L1904.0,816.6 L1896.0,816.2 L1888.0,815.8 L1880.0,815.4 L1872.0,814.9 L1864.0,814.5 L1856.0,814.0 L1848.0,813.5 L1840.0,813.1 L1832.0,812.6 L1824.0,812.1 L1816.0,811.6 L1808.0,811.1 L1800.0,810.6 L1792.0,810.1 L1784.0,809.5 L1776.0,809.0 L1768.0,808.5 L1760.0,808.0 L1752.0,807.4 L1744.0,806.8 L1736.0,806.2 L1728.0,805.5 L1720.0,804.8 L1712.0,804.0 L1704.0,803.3 L1696.0,802.4 L1688.0,801.5 L1680.0,800.6 L1672.0,799.6 L1664.0,798.6 L1656.0,797.6 L1648.0,796.5 L1640.0,795.4 L1632.0,794.2 L1624.0,793.0 L1616.0,791.8 L1608.0,790.6 L1600.0,789.3 L1592.0,787.9 L1584.0,786.6 L1576.0,785.2 L1568.0,783.8 L1560.0,782.3 L1552.0,780.8 L1544.0,779.3 L1536.0,777.7 L1528.0,776.1 L1520.0,774.5 L1512.0,772.8 L1504.0,771.1 L1496.0,769.3 L1488.0,767.5 L1480.0,765.7 L1472.0,763.9 L1464.0,762.0 L1456.0,760.1 L1448.0,758.1 L1440.0,756.1 L1432.0,754.0 L1424.0,751.9 L1416.0,749.7 L1408.0,747.5 L1400.0,745.3 L1392.0,743.0 L1384.0,740.6 L1376.0,738.2 L1368.0,735.7 L1360.0,733.1 L1352.0,730.5 L1344.0,727.8 L1336.0,725.0 L1328.0,722.2 L1320.0,719.4 L1312.0,716.5 L1304.0,713.6 L1296.0,710.6 L1288.0,707.6 L1280.0,704.5 L1272.0,701.5 L1264.0,698.4 L1256.0,695.2 L1248.0,692.1 L1240.0,688.9 L1232.0,685.6 L1224.0,682.3 L1216.0,679.0 L1208.0,675.6 L1200.0,672.1 L1192.0,668.6 L1184.0,665.0 L1176.0,661.3 L1168.0,657.6 L1160.0,653.8 L1152.0,649.9 L1144.0,646.0 L1136.0,642.0 L1128.0,638.0 L1120.0,634.0 L1112.0,629.9 L1104.0,625.8 L1096.0,621.6 L1088.0,617.5 L1080.0,613.4 L1072.0,609.3 L1064.0,605.3 L1056.0,601.2 L1048.0,597.2 L1040.0,593.2 L1032.0,589.1 L1024.0,585.1 L1016.0,581.0 L1008.0,577.0 L1000.0,572.9 L992.0,568.8 L984.0,564.7 L976.0,560.5 L968.0,556.4 L960.0,552.2 L952.0,548.0 L944.0,543.8 L936.0,539.7 L928.0,535.6 L920.0,531.5 L912.0,527.4 L904.0,523.4 L896.0,519.5 L888.0,515.6 L880.0,511.8 L872.0,508.2 L864.0,504.6 L856.0,501.1 L848.0,497.8 L840.0,494.6 L832.0,491.5 L824.0,488.6 L816.0,485.7 L808.0,482.9 L800.0,480.2 L792.0,477.6 L784.0,475.0 L776.0,472.5 L768.0,470.1 L760.0,467.8 L752.0,465.5 L744.0,463.3 L736.0,461.2 L728.0,459.2 L720.0,457.2 L712.0,455.3 L704.0,453.5 L696.0,451.8 L688.0,450.2 L680.0,448.7 L672.0,447.3 L664.0,446.0 L656.0,444.7 L648.0,443.6 L640.0,442.6 L632.0,441.7 L624.0,440.9 L616.0,440.2 L608.0,439.6 L600.0,439.1 L592.0,438.6 L584.0,438.3 L576.0,438.1 L568.0,438.0 L560.0,438.0 L552.0,438.1 L544.0,438.2 L536.0,438.5 L528.0,438.8 L520.0,439.2 L512.0,439.7 L504.0,440.3 L496.0,441.0 L488.0,441.7 L480.0,442.6 L472.0,443.5 L464.0,444.5 L456.0,445.5 L448.0,446.6 L440.0,447.8 L432.0,449.1 L424.0,450.5 L416.0,451.9 L408.0,453.3 L400.0,454.9 L392.0,456.5 L384.0,458.2 L376.0,459.9 L368.0,461.7 L360.0,463.6 L352.0,465.4 L344.0,467.4 L336.0,469.3 L328.0,471.4 L320.0,473.4 L312.0,475.5 L304.0,477.6 L296.0,479.8 L288.0,482.0 L280.0,484.3 L272.0,486.5 L264.0,488.9 L256.0,491.2 L248.0,493.6 L240.0,496.0 L232.0,498.5 L224.0,500.9 L216.0,503.4 L208.0,506.0 L200.0,508.5 L192.0,511.1 L184.0,513.6 L176.0,516.2 L168.0,518.7 L160.0,521.2 L152.0,523.8 L144.0,526.3 L136.0,528.8 L128.0,531.3Z" fill-opacity="0.205"/>
</g>
<path d="M128.0,523.3 L132.0,522.1 L136.0,520.8 L140.0,519.6 L144.0,518.3 L148.0,517.1 L152.0,515.8 L156.0,514.5 L160.0,513.3 L164.0,512.0 L168.0,510.7 L172.0,509.4 L176.0,508.1 L180.0,506.9 L184.0,505.6 L188.0,504.3 L192.0,503.0 L196.0,501.7 L200.0,500.5 L204.0,499.2 L208.0,497.9 L212.0,496.6 L216.0,495.3 L220.0,494.1 L224.0,492.8 L228.0,491.5 L232.0,490.3 L236.0,489.0 L240.0,487.7 L244.0,486.5 L248.0,485.2 L252.0,484.0 L256.0,482.8 L260.0,481.5 L264.0,480.3 L268.0,479.1 L272.0,477.9 L276.0,476.7 L280.0,475.5 L284.0,474.3 L288.0,473.1 L292.0,471.9 L296.0,470.8 L300.0,469.6 L304.0,468.5 L308.0,467.4 L312.0,466.2 L316.0,465.1 L320.0,464.0 L324.0,462.9 L328.0,461.9 L332.0,460.8 L336.0,459.8 L340.0,458.7 L344.0,457.7 L348.0,456.7 L352.0,455.7 L356.0,454.7 L360.0,453.8 L364.0,452.8 L368.0,451.9 L372.0,451.0 L376.0,450.1 L380.0,449.2 L384.0,448.3 L388.0,447.5 L392.0,446.6 L396.0,445.8 L400.0,445.0 L404.0,444.3 L408.0,443.5 L412.0,442.7 L416.0,442.0 L420.0,441.3 L424.0,440.6 L428.0,439.9 L432.0,439.3 L436.0,438.6 L440.0,438.0 L444.0,437.4 L448.0,436.8 L452.0,436.3 L456.0,435.7 L460.0,435.2 L464.0,434.7 L468.0,434.2 L472.0,433.7 L476.0,433.3 L480.0,432.9 L484.0,432.4 L488.0,432.1 L492.0,431.7 L496.0,431.3 L500.0,431.0 L504.0,430.7 L508.0,430.4 L512.0,430.1 L516.0,429.9 L520.0,429.6 L524.0,429.4 L528.0,429.2 L532.0,429.0 L536.0,428.9 L540.0,428.8 L544.0,428.7 L548.0,428.6 L552.0,428.5 L556.0,428.5 L560.0,428.4 L564.0,428.4 L568.0,428.5 L572.0,428.5 L576.0,428.6 L580.0,428.7 L584.0,428.8 L588.0,428.9 L592.0,429.1 L596.0,429.3 L600.0,429.5 L604.0,429.8 L608.0,430.0 L612.0,430.3 L616.0,430.6 L620.0,431.0 L624.0,431.3 L628.0,431.7 L632.0,432.1 L636.0,432.6 L640.0,433.0 L644.0,433.5 L648.0,434.1 L652.0,434.6 L656.0,435.2 L660.0,435.8 L664.0,436.4 L668.0,437.1 L672.0,437.7 L676.0,438.4 L680.0,439.2 L684.0,439.9 L688.0,440.7 L692.0,441.5 L696.0,442.3 L700.0,443.2 L704.0,444.1 L708.0,444.9 L712.0,445.9 L716.0,446.8 L720.0,447.8 L724.0,448.7 L728.0,449.8 L732.0,450.8 L736.0,451.8 L740.0,452.9 L744.0,454.0 L748.0,455.1 L752.0,456.2 L756.0,457.4 L760.0,458.5 L764.0,459.7 L768.0,460.9 L772.0,462.1 L776.0,463.4 L780.0,464.6 L784.0,465.9 L788.0,467.2 L792.0,468.5 L796.0,469.9 L800.0,471.2 L804.0,472.6 L808.0,474.0 L812.0,475.5 L816.0,476.9 L820.0,478.4 L824.0,479.9 L828.0,481.4 L832.0,482.9 L836.0,484.5 L840.0,486.0 L844.0,487.7 L848.0,489.3 L852.0,491.0 L856.0,492.7 L860.0,494.4 L864.0,496.1 L868.0,497.9 L872.0,499.8 L876.0,501.6 L880.0,503.5 L884.0,505.4 L888.0,507.3 L892.0,509.3 L896.0,511.2 L900.0,513.2 L904.0,515.2 L908.0,517.2 L912.0,519.2 L916.0,521.3 L920.0,523.3 L924.0,525.4 L928.0,527.5 L932.0,529.6 L936.0,531.7 L940.0,533.8 L944.0,535.9 L948.0,538.0 L952.0,540.1 L956.0,542.2 L960.0,544.3 L964.0,546.4 L968.0,548.5 L972.0,550.7 L976.0,552.8 L980.0,554.9 L984.0,557.0 L988.0,559.1 L992.0,561.2 L996.0,563.3 L1000.0,565.3 L1004.0,567.4 L1008.0,569.5 L1012.0,571.6 L1016.0,573.6 L1020.0,575.7 L1024.0,577.8 L1028.0,579.8 L1032.0,581.9 L1036.0,584.0 L1040.0,586.0 L1044.0,588.1 L1048.0,590.2 L1052.0,592.2 L1056.0,594.3 L1060.0,596.4 L1064.0,598.4 L1068.0,600.5 L1072.0,602.6 L1076.0,604.6 L1080.0,606.7 L1084.0,608.8 L1088.0,610.9 L1092.0,613.0 L1096.0,615.1 L1100.0,617.2 L1104.0,619.3 L1108.0,621.4 L1112.0,623.4 L1116.0,625.5 L1120.0,627.6 L1124.0,629.7 L1128.0,631.7 L1132.0,633.8 L1136.0,635.8 L1140.0,637.8 L1144.0,639.8 L1148.0,641.8 L1152.0,643.8 L1156.0,645.8 L1160.0,647.7 L1164.0,649.7 L1168.0,651.6 L1172.0,653.5 L1176.0,655.4 L1180.0,657.2 L1184.0,659.1 L1188.0,660.9 L1192.0,662.7 L1196.0,664.5 L1200.0,666.3 L1204.0,668.1 L1208.0,669.8 L1212.0,671.6 L1216.0,673.3 L1220.0,675.0 L1224.0,676.7 L1228.0,678.4 L1232.0,680.0 L1236.0,681.7 L1240.0,683.3 L1244.0,685.0 L1248.0,686.6 L1252.0,688.2 L1256.0,689.8 L1260.0,691.4 L1264.0,693.0 L1268.0,694.5 L1272.0,696.1 L1276.0,697.7 L1280.0,699.2 L1284.0,700.8 L1288.0,702.3 L1292.0,703.8 L1296.0,705.4 L1300.0,706.9 L1304.0,708.4 L1308.0,709.9 L1312.0,711.4 L1316.0,712.8 L1320.0,714.3 L1324.0,715.8 L1328.0,717.2 L1332.0,718.6 L1336.0,720.0 L1340.0,721.4 L1344.0,722.8 L1348.0,724.2 L1352.0,725.6 L1356.0,726.9 L1360.0,728.2 L1364.0,729.5 L1368.0,730.8 L1372.0,732.1 L1376.0,733.4 L1380.0,734.6 L1384.0,735.8 L1388.0,737.0 L1392.0,738.3 L1396.0,739.4 L1400.0,740.6 L1404.0,741.8 L1408.0,742.9 L1412.0,744.0 L1416.0,745.2 L1420.0,746.3 L1424.0,747.4 L1428.0,748.4 L1432.0,749.5 L1436.0,750.6 L1440.0,751.6 L1444.0,752.6 L1448.0,753.7 L1452.0,754.7 L1456.0,755.7 L1460.0,756.7 L1464.0,757.6 L1468.0,758.6 L1472.0,759.6 L1476.0,760.5 L1480.0,761.4 L1484.0,762.4 L1488.0,763.3 L1492.0,764.2 L1496.0,765.1 L1500.0,766.0 L1504.0,766.9 L1508.0,767.7 L1512.0,768.6 L1516.0,769.5 L1520.0,770.3 L1524.0,771.1 L1528.0,772.0 L1532.0,772.8 L1536.0,773.6 L1540.0,774.4 L1544.0,775.2 L1548.0,776.0 L1552.0,776.7 L1556.0,777.5 L1560.0,778.3 L1564.0,779.0 L1568.0,779.7 L1572.0,780.5 L1576.0,781.2 L1580.0,781.9 L1584.0,782.6 L1588.0,783.3 L1592.0,784.0 L1596.0,784.6 L1600.0,785.3 L1604.0,786.0 L1608.0,786.6 L1612.0,787.3 L1616.0,787.9 L1620.0,788.5 L1624.0,789.1 L1628.0,789.7 L1632.0,790.3 L1636.0,790.9 L1640.0,791.5 L1644.0,792.1 L1648.0,792.6 L1652.0,793.2 L1656.0,793.7 L1660.0,794.3 L1664.0,794.8 L1668.0,795.3 L1672.0,795.8 L1676.0,796.3 L1680.0,796.8 L1684.0,797.3 L1688.0,797.7 L1692.0,798.2 L1696.0,798.6 L1700.0,799.0 L1704.0,799.5 L1708.0,799.9 L1712.0,800.3 L1716.0,800.7 L1720.0,801.0 L1724.0,801.4 L1728.0,801.7 L1732.0,802.1 L1736.0,802.4 L1740.0,802.7 L1744.0,803.1 L1748.0,803.4 L1752.0,803.7 L1756.0,803.9 L1760.0,804.2 L1764.0,804.5 L1768.0,804.8 L1772.0,805.1 L1776.0,805.3 L1780.0,805.6 L1784.0,805.9 L1788.0,806.1 L1792.0,806.4 L1796.0,806.6 L1800.0,806.9 L1804.0,807.1 L1808.0,807.4 L1812.0,807.7 L1816.0,807.9 L1820.0,808.2 L1824.0,808.4 L1828.0,808.7 L1832.0,808.9 L1836.0,809.2 L1840.0,809.4 L1844.0,809.7 L1848.0,809.9 L1852.0,810.2 L1856.0,810.4 L1860.0,810.6 L1864.0,810.9 L1868.0,811.1 L1872.0,811.3 L1876.0,811.6 L1880.0,811.8 L1884.0,812.0 L1888.0,812.2 L1892.0,812.4 L1896.0,812.6 L1900.0,812.8 L1904.0,813.0 L1908.0,813.2 L1912.0,813.4 L1916.0,813.6 L1920.0,813.8 L1924.0,814.0 L1928.0,814.1 L1932.0,814.3 L1936.0,814.5 L1940.0,814.6 L1944.0,814.8 L1948.0,814.9 L1952.0,815.0 L1956.0,815.2 L1960.0,815.3 L1964.0,815.4 L1968.0,815.5 L1972.0,815.6 L1976.0,815.7 L1980.0,815.8 L1984.0,815.9 L1988.0,816.0 L1992.0,816.1 L1996.0,816.1" fill="none" stroke="#000" stroke-width="5.2" stroke-linejoin="round"/>
<path d="M134.5,436.7 L137.2,435.3 L139.8,433.9 L142.5,432.5 L145.1,431.1 L147.7,429.6 L150.4,428.2 L153.0,426.7 L155.6,425.2 L158.2,423.5 L160.7,421.5 L163.3,419.6 L165.9,418.3 L168.5,418.0 L171.3,418.5 L174.1,419.5 L177.0,420.7 L179.9,422.0 L182.8,423.1 L185.7,423.9 L188.6,424.7 L191.5,425.5 L194.3,426.3 L197.2,427.3 L200.0,428.3 L202.8,429.5 L205.5,430.6 L208.3,431.8 L211.0,433.0 L213.8,434.3 L216.5,435.7 L219.2,437.0 L222.0,438.0 L224.9,438.6 L227.8,439.0 L230.8,439.3 L233.8,439.6 L236.9,439.8 L239.9,440.0 L242.9,440.2 L245.9,440.3 L248.9,440.4 L251.8,440.6 L254.8,440.7 L257.8,440.8 L260.8,440.8 L263.8,440.9 L266.8,441.1 L269.8,441.2 L272.8,441.4 L275.8,441.7 L278.8,441.9 L281.8,442.3 L284.8,442.7 L287.7,443.2 L290.7,443.8 L293.6,444.3 L296.6,444.7 L299.6,444.9 L302.6,445.0 L305.6,445.1 L308.6,445.2 L311.6,445.3 L314.6,445.4 L317.6,445.5 L320.6,445.5 L323.6,445.6 L326.6,445.7 L329.6,445.8 L332.6,445.9 L335.6,446.0 L338.6,446.2 L341.6,446.3 L344.6,446.5 L347.5,446.8 L350.5,447.1 L353.5,447.3 L356.5,447.4 L359.5,447.5 L362.5,447.6 L365.5,447.6 L368.5,447.7 L371.5,447.7 L374.5,447.8 L377.5,447.9 L380.5,447.9 L383.5,448.0 L386.5,448.0 L389.5,447.8 L392.5,447.5 L395.5,447.1 L398.5,446.9 L401.5,446.9 L404.5,446.9 L407.5,446.9 L410.5,446.9 L413.5,446.9 L416.5,446.9 L419.5,446.8 L422.5,446.7 L425.5,446.6 L428.5,446.5 L431.5,446.6 L434.5,446.8 L437.4,447.1 L440.4,447.4 L443.4,447.6 L446.4,447.6 L449.4,447.5 L452.4,447.4 L455.4,447.3 L458.4,447.1 L461.4,446.9 L464.4,446.7 L467.4,446.5 L470.4,446.3 L473.4,446.2 L476.4,446.0 L479.4,445.8 L482.4,445.7 L485.4,445.5 L488.4,445.3 L491.4,445.1 L494.4,445.0 L497.4,444.8 L500.4,444.7 L503.4,444.6 L506.3,444.5 L509.3,444.4 L512.3,444.3 L515.3,444.3 L518.3,444.2 L521.3,444.1 L524.3,444.1 L527.3,444.0 L530.3,443.9 L533.3,443.8 L536.3,443.6 L539.3,443.4 L542.3,443.2 L545.3,443.0 L548.3,442.7 L551.3,442.5 L554.3,442.3 L557.3,442.0 L560.3,441.8 L563.3,441.6 L566.3,441.4 L569.3,441.2 L572.2,441.0 L575.2,440.8 L578.2,440.6 L581.2,440.4 L584.2,440.2 L587.2,440.0 L590.2,439.8 L593.2,439.6 L596.2,439.4 L599.2,439.1 L602.2,438.9 L605.2,438.7 L608.1,438.4 L611.1,438.2 L614.1,437.9 L617.1,437.6 L620.1,437.4 L623.1,437.0 L626.1,436.7 L629.1,436.3 L632.0,435.9 L635.0,435.5 L638.0,435.2 L641.0,434.9 L644.0,434.6 L647.0,434.5 L649.9,434.4 L652.9,434.3 L655.9,434.3 L658.9,434.2 L661.9,434.2 L664.9,434.2 L667.9,434.2 L670.9,434.1 L673.9,434.1 L676.9,434.0 L679.9,433.9 L682.9,433.8 L685.9,433.7 L688.9,433.5 L691.9,433.3 L694.9,433.0 L697.9,432.7 L700.9,432.4 L703.9,432.0 L706.8,431.6 L709.8,431.2 L712.8,430.8 L715.7,430.3 L718.7,429.9 L721.7,429.5 L724.7,429.2 L727.7,428.9 L730.6,428.6 L733.6,428.4 L736.6,428.1 L739.6,427.8 L742.6,427.6 L745.6,427.3 L748.6,427.0 L751.5,426.6 L754.5,426.0 L757.4,425.3 L760.3,424.5 L763.2,423.7 L766.1,423.1 L769.1,422.5 L772.0,422.0 L775.0,421.5 L777.9,421.0 L780.9,420.4 L783.8,419.8 L786.8,419.3 L789.7,418.7 L792.6,418.0 L795.6,417.4 L798.5,416.6 L801.4,415.8 L804.3,415.0 L807.2,414.3 L810.1,413.7 L813.1,413.2 L816.0,412.7 L819.0,412.2 L821.9,411.6 L824.8,410.8 L827.7,410.0 L830.6,409.1 L833.4,408.2 L836.3,407.3 L839.2,406.5 L842.1,405.7 L845.0,404.8 L847.9,404.0 L850.8,403.3 L853.7,402.6 L856.6,401.9 L859.5,401.2 L862.4,400.5 L865.3,399.8 L868.2,399.0 L871.1,398.2 L874.0,397.4 L876.9,396.5 L879.8,395.6 L882.6,394.6 L885.4,393.6 L888.2,392.5 L891.0,391.4 L893.8,390.4 L896.6,389.4 L899.5,388.4 L902.3,387.4 L905.1,386.4 L908.0,385.4 L910.8,384.5 L913.7,383.6 L916.6,382.7 L919.4,381.8 L922.2,380.7 L925.0,379.6 L927.7,378.4 L930.5,377.2 L933.2,376.0 L936.0,374.9 L938.8,373.8 L941.6,372.7 L944.4,371.6 L947.2,370.4 L949.8,369.1 L952.5,367.7 L955.1,366.2 L957.7,364.7 L960.3,363.2 L962.9,361.7 L965.5,360.1 L968.0,358.6 L970.6,357.0 L973.2,355.5 L975.8,354.1 L978.5,352.7 L981.1,351.2 L983.8,349.8 L986.3,348.3 L988.8,346.6 L991.3,345.0 L993.8,343.3 L996.3,341.5 L998.7,339.8 L1001.2,338.1 L1003.6,336.3 L1006.0,334.5 L1008.4,332.7 L1010.8,330.9 L1013.2,329.1 L1015.6,327.3 L1018.0,325.5 L1020.4,323.7 L1022.8,321.9 L1025.2,320.1 L1027.6,318.3 L1030.0,316.5 L1032.3,314.6 L1034.5,312.6 L1036.7,310.5 L1038.9,308.4 L1041.0,306.3 L1043.2,304.2 L1045.4,302.2 L1047.6,300.2 L1049.8,298.2 L1052.0,296.1 L1054.2,294.1 L1056.4,292.0 L1058.5,289.9 L1060.7,287.8 L1062.8,285.7 L1064.9,283.6 L1067.0,281.4 L1069.1,279.3 L1071.1,277.1 L1073.2,274.9 L1075.2,272.7 L1077.3,270.5 L1079.4,268.3 L1081.4,266.1 L1083.4,263.9 L1085.4,261.6 L1087.3,259.3 L1089.1,257.0 L1091.0,254.6 L1092.8,252.2 L1094.7,249.9 L1096.6,247.5 L1098.4,245.2 L1100.3,242.8 L1102.1,240.4 L1103.9,238.0 L1105.6,235.6 L1107.2,233.1 L1108.9,230.6 L1110.6,228.1 L1112.3,225.6 L1114.1,223.2 L1115.9,220.8 L1117.6,218.4 L1119.4,215.9 L1121.2,213.5 L1123.0,211.1 L1124.8,208.7 L1126.5,206.3 L1128.2,203.8 L1129.7,201.2 L1131.2,198.6 L1132.7,196.0 L1134.2,193.4 L1135.6,190.7 L1137.0,188.1 L1138.4,185.4 L1139.8,182.8 L1141.2,180.1 L1142.6,177.5 L1144.0,174.8 L1145.5,172.2 L1146.9,169.6 L1148.3,166.9 L1149.8,164.3 L1151.2,161.7 L1152.6,159.0 L1154.0,156.4 L1155.4,153.7 L1156.8,151.0 L1158.1,148.3 L1159.4,145.6 L1160.7,142.9 L1162.0,140.2 L1163.3,137.5 L1164.6,134.8 L1166.0,132.2 L1167.4,129.5 L1168.7,126.8 L1170.1,124.1 L1171.3,121.4 L1172.6,118.7 L1173.8,116.0 L1175.1,113.2 L1176.3,110.5 L1177.5,107.8 L1178.7,105.0 L1179.9,102.3 L1181.2,99.5 L1182.4,96.8 L1183.6,94.1 L1184.9,91.3" fill="none" stroke="#0000ff" stroke-opacity="0.4" stroke-width="5.55" stroke-dasharray="5.55 9.16" stroke-dashoffset="8.5"/>
<path d="M134.0,534.5 L137.0,534.8 L140.0,535.0 L143.0,535.3 L146.0,535.5 L148.9,535.8 L151.9,536.0 L154.9,536.3 L157.9,536.6 L160.9,536.8 L163.9,537.1 L166.9,537.4 L169.9,537.6 L172.9,537.9 L175.8,538.2 L178.8,538.5 L181.8,538.8 L184.8,539.1 L187.8,539.3 L190.8,539.5 L193.8,539.7 L196.8,539.8 L199.8,539.9 L202.8,540.1 L205.8,540.2 L208.8,540.3 L211.8,540.4 L214.8,540.4 L217.8,540.5 L220.8,540.5 L223.8,540.5 L226.8,540.5 L229.8,540.4 L232.8,540.3 L235.8,540.2 L238.8,540.1 L241.8,540.0 L244.8,539.9 L247.8,539.8 L250.8,539.7 L253.8,539.7 L256.8,539.6 L259.8,539.6 L262.8,539.5 L265.8,539.5 L268.8,539.5 L271.8,539.4 L274.8,539.4 L277.8,539.4 L280.8,539.3 L283.8,539.3 L286.7,539.2 L289.7,539.1 L292.7,539.0 L295.7,539.0 L298.7,538.9 L301.7,538.8 L304.7,538.7 L307.7,538.6 L310.7,538.5 L313.7,538.4 L316.7,538.3 L319.7,538.1 L322.7,538.0 L325.7,537.9 L328.7,537.7 L331.7,537.6 L334.7,537.4 L337.7,537.3 L340.7,537.1 L343.7,536.9 L346.7,536.7 L349.7,536.4 L352.7,536.2 L355.7,535.9 L358.6,535.7 L361.6,535.4 L364.6,535.1 L367.6,534.9 L370.6,534.6 L373.6,534.4 L376.6,534.2 L379.6,533.9 L382.6,533.7 L385.6,533.5 L388.6,533.3 L391.5,533.1 L394.5,532.8 L397.5,532.6 L400.5,532.3 L403.5,532.0 L406.5,531.8 L409.5,531.7 L412.5,531.7 L415.5,531.8 L418.5,531.9 L421.5,532.0 L424.5,532.1 L427.5,532.2 L430.5,532.4 L433.5,532.5 L436.5,532.7 L439.5,532.9 L442.5,533.1 L445.5,533.3 L448.4,533.5 L451.4,533.7 L454.4,533.9 L457.4,534.1 L460.4,534.2 L463.4,534.4 L466.4,534.6 L469.4,534.8 L472.4,535.0 L475.4,535.2 L478.4,535.3 L481.4,535.4 L484.4,535.5 L487.4,535.5 L490.4,535.5 L493.4,535.5 L496.4,535.4 L499.4,535.4 L502.4,535.3 L505.4,535.2 L508.4,535.2 L511.4,535.1 L514.4,535.0 L517.4,535.0 L520.4,534.9 L523.4,534.8 L526.4,534.8 L529.4,534.7 L532.4,534.6 L535.4,534.5 L538.4,534.4 L541.4,534.3 L544.4,534.1 L547.4,534.0 L550.4,533.8 L553.4,533.6 L556.3,533.3 L559.3,533.0 L562.3,532.7 L565.3,532.4 L568.3,532.1 L571.3,531.8 L574.3,531.5 L577.3,531.2 L580.2,531.0 L583.2,530.7 L586.2,530.4 L589.2,530.1 L592.2,529.9 L595.2,529.6 L598.2,529.4 L601.2,529.1 L604.2,528.9 L607.1,528.7 L610.1,528.5 L613.1,528.3 L616.1,528.2 L619.1,528.0 L622.1,527.8 L625.1,527.7 L628.1,527.6 L631.1,527.5 L634.1,527.4 L637.1,527.3 L640.1,527.3 L643.1,527.2 L646.1,527.2 L649.1,527.2 L652.1,527.2 L655.1,527.1 L658.1,527.1 L661.1,527.0 L664.1,527.0 L667.1,526.9 L670.1,526.8 L673.1,526.8 L676.1,526.7 L679.1,526.6 L682.1,526.5 L685.1,526.4 L688.1,526.2 L691.1,526.1 L694.1,525.9 L697.1,525.7 L700.1,525.5 L703.0,525.2 L706.0,524.8 L709.0,524.5 L712.0,524.1 L715.0,523.7 L718.0,523.3 L720.9,522.9 L723.9,522.5 L726.9,522.1 L729.8,521.6 L732.8,521.1 L735.7,520.5 L738.7,520.0 L741.6,519.5 L744.6,519.0 L747.6,518.5 L750.5,518.1 L753.5,517.7 L756.5,517.3 L759.5,517.0 L762.4,516.7 L765.4,516.4 L768.4,516.1 L771.4,515.8 L774.4,515.5 L777.4,515.1 L780.3,514.8 L783.3,514.4 L786.3,513.9 L789.2,513.5 L792.2,513.0 L795.2,512.5 L798.1,512.0 L801.1,511.5 L804.1,511.1 L807.0,510.7 L810.0,510.3 L813.0,509.9 L816.0,509.6 L818.9,509.2 L821.9,508.9 L824.9,508.6 L827.9,508.3 L830.9,508.0 L833.9,507.7 L836.8,507.3 L839.8,507.0 L842.8,506.7 L845.8,506.3 L848.8,506.0 L851.8,505.7 L854.8,505.3 L857.8,505.0 L860.7,504.6 L863.7,504.1 L866.6,503.6 L869.5,503.0 L872.4,502.3 L875.3,501.5 L878.2,500.6 L881.0,499.7 L883.9,498.7 L886.8,497.7 L889.6,496.7 L892.4,495.7 L895.3,494.7 L898.1,493.7 L900.9,492.7 L903.7,491.6 L906.5,490.5 L909.3,489.4 L912.1,488.3 L914.9,487.2 L917.7,486.1 L920.5,485.1 L923.3,484.0 L926.1,483.0 L929.0,482.0 L931.8,481.0 L934.6,480.1 L937.5,479.1 L940.3,478.1 L943.1,477.1 L946.0,476.1 L948.8,475.0 L951.6,473.9 L954.3,472.8 L957.1,471.7 L959.9,470.5 L962.6,469.3 L965.4,468.1 L968.1,466.9 L970.9,465.7 L973.6,464.4 L976.3,463.2 L979.0,461.9 L981.8,460.7 L984.5,459.4 L987.2,458.1 L989.9,456.9 L992.6,455.6 L995.3,454.3 L998.0,452.9 L1000.7,451.6 L1003.4,450.3 L1006.1,448.9 L1008.7,447.5 L1011.4,446.2 L1014.1,444.8 L1016.7,443.4 L1019.4,442.0 L1022.0,440.5 L1024.6,439.0 L1027.2,437.5 L1029.7,435.8 L1032.1,434.2 L1034.5,432.4 L1036.9,430.6 L1039.3,428.7 L1041.6,426.8 L1043.9,424.8 L1046.2,422.9 L1048.5,421.0 L1050.8,419.1 L1053.2,417.2 L1055.6,415.4 L1058.0,413.5 L1060.4,411.7 L1062.8,409.9 L1065.2,408.1 L1067.6,406.3 L1069.9,404.4 L1072.2,402.5 L1074.5,400.6 L1076.7,398.6 L1078.9,396.5 L1081.0,394.4 L1083.1,392.2 L1085.1,390.1 L1087.2,387.9 L1089.2,385.6 L1091.2,383.4 L1093.3,381.2 L1095.3,379.0 L1097.4,376.8 L1099.5,374.7 L1101.6,372.5 L1103.7,370.4 L1105.8,368.2 L1107.9,366.1 L1109.9,363.9 L1112.0,361.7 L1114.0,359.5 L1116.0,357.3 L1118.0,355.0 L1119.9,352.8 L1121.9,350.5 L1123.8,348.2 L1125.7,345.8 L1127.6,343.5 L1129.5,341.1 L1131.3,338.8 L1133.1,336.4 L1134.9,334.0 L1136.7,331.6 L1138.4,329.1 L1140.1,326.6 L1141.8,324.1 L1143.4,321.6 L1145.1,319.1 L1146.7,316.6 L1148.4,314.1 L1150.1,311.6 L1151.7,309.1 L1153.4,306.7 L1155.1,304.2 L1156.8,301.7 L1158.6,299.2 L1160.2,296.8 L1161.9,294.3 L1163.6,291.8 L1165.2,289.2 L1166.7,286.7 L1168.3,284.1 L1169.7,281.5 L1171.2,278.9 L1172.6,276.2 L1174.0,273.6 L1175.4,270.9 L1176.8,268.3 L1178.2,265.6 L1179.6,263.0 L1181.1,260.3 L1182.5,257.7 L1184.0,255.1 L1185.5,252.5 L1187.0,249.9 L1188.5,247.3 L1189.9,244.7 L1191.4,242.0 L1192.8,239.4 L1194.1,236.7 L1195.5,234.0 L1196.9,231.4 L1198.2,228.7 L1199.5,226.0 L1200.8,223.3 L1202.1,220.6 L1203.5,217.9 L1204.8,215.2 L1206.1,212.5 L1207.5,209.9 L1208.9,207.2 L1210.2,204.5 L1211.6,201.8 L1212.9,199.1 L1214.3,196.5 L1215.6,193.8 L1216.8,191.0 L1218.0,188.3 L1219.2,185.5 L1220.4,182.8 L1221.5,180.0 L1222.7,177.2 L1223.8,174.5 L1225.0,171.7 L1226.1,168.9 L1227.2,166.1 L1228.4,163.4 L1229.6,160.6 L1230.7,157.8 L1231.9,155.1 L1233.0,152.3 L1234.2,149.5 L1235.3,146.7 L1236.5,144.0 L1237.6,141.2 L1238.7,138.4 L1239.9,135.6 L1241.0,132.9 L1242.1,130.1 L1243.2,127.3 L1244.4,124.5 L1245.5,121.7 L1246.7,119.0 L1247.9,116.2 L1249.1,113.5 L1250.4,110.8 L1251.6,108.0 L1252.8,105.3 L1254.0,102.5 L1255.1,99.8 L1256.3,97.0 L1257.5,94.2" fill="none" stroke="#0000ff" stroke-opacity="0.4" stroke-width="5.55" stroke-dasharray="20.54 8.88" stroke-dashoffset="9.5"/>
<path d="M120.0,664.2 L123.0,664.2 L126.0,664.2 L129.0,664.2 L132.0,664.2 L135.0,664.2 L138.0,664.2 L141.0,664.2 L144.0,664.2 L147.0,664.2 L150.0,664.2 L153.0,664.2 L156.0,664.2 L159.0,664.2 L162.0,664.2 L165.0,664.2 L168.0,664.2 L171.0,664.2 L174.0,664.2 L177.0,664.2 L180.0,664.2 L183.0,664.2 L186.0,664.2 L189.0,664.2 L192.0,664.2 L195.0,664.2 L198.0,664.2 L201.0,664.2 L204.0,664.2 L207.0,664.2 L210.0,664.2 L213.0,664.2 L216.0,664.2 L219.0,664.2 L222.0,664.2 L225.0,664.2 L228.0,664.2 L231.0,664.2 L234.0,664.2 L237.0,664.2 L240.0,664.2 L243.0,664.2 L246.0,664.2 L249.0,664.2 L252.0,664.2 L255.0,664.2 L258.0,664.2 L261.0,664.2 L264.0,664.2 L267.0,664.2 L270.0,664.2 L273.0,664.2 L276.0,664.2 L279.0,664.2 L282.0,664.2 L285.0,664.2 L288.0,664.2 L291.0,664.2 L294.0,664.2 L297.0,664.2 L300.0,664.2 L303.0,664.2 L306.0,664.2 L309.0,664.2 L312.0,664.2 L315.0,664.2 L318.0,664.2 L321.0,664.2 L324.0,664.2 L327.0,664.2 L330.0,664.2 L333.0,664.2 L336.0,664.2 L339.0,664.2 L342.0,664.2 L345.0,664.2 L348.0,664.2 L351.0,664.2 L354.0,664.2 L357.0,664.2 L360.0,664.2 L363.0,664.2 L366.0,664.2 L369.0,664.2 L372.0,664.2 L375.0,664.2 L378.0,664.2 L381.0,664.2 L384.0,664.2 L387.0,664.2 L390.0,664.2 L393.0,664.2 L396.0,664.2 L399.0,664.2 L402.0,664.2 L405.0,664.2 L408.0,664.2 L411.0,664.2 L414.0,664.2 L417.0,664.2 L420.0,664.2 L423.0,664.2 L426.0,664.2 L429.0,664.2 L432.0,664.2 L435.0,664.2 L438.0,664.2 L441.0,664.2 L444.0,664.2 L447.0,664.2 L450.0,664.2 L453.0,664.2 L456.0,664.2 L459.0,664.2 L462.0,664.2 L465.0,664.2 L468.0,664.2 L471.0,664.2 L474.0,664.2 L477.0,664.2 L480.0,664.2 L483.0,664.2 L486.0,664.2 L489.0,664.2 L492.0,664.2 L495.0,664.2 L498.0,664.2 L501.0,664.2 L504.0,664.2 L507.0,664.2 L510.0,664.2 L513.0,664.2 L516.0,664.2 L519.0,664.2 L522.0,664.2 L525.0,664.2 L528.0,664.2 L531.0,664.2 L534.0,664.2 L537.0,664.2 L540.0,664.2 L543.0,664.2 L546.0,664.2 L549.0,664.2 L552.0,664.2 L555.0,664.2 L558.0,664.2 L561.0,664.2 L564.0,664.2 L567.0,664.2 L570.0,664.2 L573.0,664.2 L576.0,664.2 L579.0,664.2 L582.0,664.2 L585.0,664.2 L588.0,664.2 L591.0,664.2 L594.0,664.2 L597.0,664.2 L600.0,664.2 L603.0,664.2 L606.0,664.3 L609.0,664.4 L612.0,664.5 L615.0,664.6 L618.0,664.7 L621.0,664.9 L624.0,665.0 L627.0,665.1 L630.0,665.1 L633.0,665.2 L636.0,665.3 L639.0,665.4 L642.0,665.5 L645.0,665.5 L648.0,665.6 L651.0,665.6 L654.0,665.6 L657.0,665.6 L660.0,665.6 L663.0,665.6 L666.0,665.7 L669.0,665.7 L672.0,665.7 L675.0,665.7 L678.0,665.7 L681.0,665.7 L684.0,665.7 L687.0,665.7 L690.0,665.7 L693.0,665.7 L696.0,665.7 L699.0,665.7 L702.0,665.7 L705.0,665.7 L708.0,665.7 L711.0,665.6 L714.0,665.6 L717.0,665.5 L720.0,665.5 L723.0,665.4 L726.0,665.4 L729.0,665.3 L732.0,665.2 L735.0,665.1 L738.0,665.0 L741.0,665.0 L744.0,664.9 L747.0,664.8 L750.0,664.7 L753.0,664.6 L756.0,664.6 L759.0,664.5 L762.0,664.4 L765.0,664.3 L768.0,664.3 L771.0,664.2 L774.0,664.1 L777.0,664.0 L780.0,663.9 L783.0,663.8 L786.0,663.7 L789.0,663.6 L792.0,663.5 L794.9,663.3 L797.9,663.2 L800.9,663.0 L803.9,662.9 L806.9,662.7 L809.9,662.5 L812.9,662.4 L815.9,662.2 L818.9,662.0 L821.9,661.8 L824.9,661.6 L827.9,661.4 L830.9,661.2 L833.9,660.9 L836.9,660.7 L839.9,660.5 L842.8,660.2 L845.8,660.0 L848.8,659.7 L851.8,659.5 L854.8,659.2 L857.8,658.9 L860.8,658.6 L863.8,658.4 L866.8,658.1 L869.7,657.8 L872.7,657.5 L875.7,657.2 L878.7,656.8 L881.7,656.5 L884.6,656.1 L887.6,655.8 L890.6,655.4 L893.6,655.0 L896.5,654.6 L899.5,654.2 L902.5,653.8 L905.5,653.4 L908.4,653.0 L911.4,652.6 L914.4,652.3 L917.4,651.9 L920.4,651.5 L923.3,651.1 L926.3,650.7 L929.3,650.3 L932.2,649.9 L935.2,649.4 L938.1,648.9 L941.1,648.3 L944.0,647.7 L947.0,647.1 L949.9,646.5 L952.9,645.9 L955.8,645.3 L958.7,644.7 L961.7,644.2 L964.6,643.6 L967.6,643.0 L970.5,642.4 L973.5,641.8 L976.4,641.2 L979.3,640.6 L982.3,640.0 L985.2,639.3 L988.1,638.7 L991.0,638.0 L994.0,637.3 L996.9,636.6 L999.8,635.9 L1002.7,635.2 L1005.6,634.5 L1008.5,633.7 L1011.4,632.9 L1014.3,632.1 L1017.2,631.3 L1020.1,630.5 L1023.0,629.7 L1025.9,628.8 L1028.7,627.9 L1031.6,627.0 L1034.5,626.1 L1037.3,625.1 L1040.1,624.1 L1042.9,623.1 L1045.7,622.1 L1048.5,620.9 L1051.3,619.8 L1054.0,618.5 L1056.7,617.3 L1059.4,616.0 L1062.1,614.7 L1064.8,613.3 L1067.5,612.0 L1070.2,610.6 L1072.9,609.3 L1075.6,608.0 L1078.3,606.6 L1081.0,605.3 L1083.7,604.0 L1086.3,602.6 L1089.0,601.3 L1091.7,599.9 L1094.3,598.5 L1097.0,597.1 L1099.6,595.7 L1102.3,594.2 L1104.9,592.8 L1107.5,591.3 L1110.1,589.8 L1112.7,588.3 L1115.3,586.7 L1117.9,585.2 L1120.4,583.6 L1123.0,582.0 L1125.5,580.4 L1128.0,578.7 L1130.5,577.1 L1132.9,575.3 L1135.3,573.6 L1137.7,571.8 L1140.0,569.9 L1142.3,568.0 L1144.6,566.1 L1146.9,564.1 L1149.1,562.1 L1151.3,560.0 L1153.5,558.0 L1155.7,555.9 L1157.9,553.9 L1160.1,551.8 L1162.3,549.7 L1164.5,547.7 L1166.7,545.6 L1168.9,543.6 L1171.1,541.5 L1173.2,539.5 L1175.4,537.4 L1177.6,535.3 L1179.8,533.3 L1181.9,531.2 L1184.1,529.1 L1186.2,527.0 L1188.3,524.9 L1190.5,522.7 L1192.6,520.6 L1194.7,518.5 L1196.8,516.4 L1198.9,514.2 L1201.0,512.1 L1203.1,509.9 L1205.2,507.8 L1207.3,505.6 L1209.4,503.4 L1211.4,501.2 L1213.4,499.0 L1215.4,496.8 L1217.3,494.5 L1219.2,492.2 L1221.1,489.8 L1223.0,487.5 L1224.8,485.1 L1226.7,482.7 L1228.5,480.4 L1230.5,478.1 L1232.4,475.8 L1234.5,473.6 L1236.5,471.5 L1238.6,469.3 L1240.7,467.1 L1242.7,464.9 L1244.7,462.6 L1246.5,460.3 L1248.4,457.9 L1250.2,455.5 L1252.0,453.1 L1253.8,450.8 L1255.7,448.4 L1257.5,446.0 L1259.3,443.6 L1261.2,441.3 L1263.0,438.9 L1264.8,436.5 L1266.7,434.2 L1268.6,431.8 L1270.4,429.4 L1272.2,427.0 L1274.0,424.6 L1275.8,422.2 L1277.6,419.8 L1279.3,417.3 L1280.9,414.8 L1282.4,412.2 L1284.0,409.7 L1285.5,407.1 L1287.2,404.6 L1288.8,402.1 L1290.5,399.6 L1292.3,397.2 L1294.0,394.7 L1295.8,392.3 L1297.5,389.9 L1299.3,387.5 L1301.1,385.1 L1303.0,382.7 L1304.8,380.3 L1306.7,377.9 L1308.5,375.6 L1310.4,373.3 L1312.3,371.0 L1314.2,368.7 L1316.2,366.4 L1318.2,364.2 L1320.2,361.9 L1322.3,359.8 L1324.3,357.5 L1326.4,355.3 L1328.4,353.1 L1330.5,351.0 L1332.7,348.9 L1334.9,347.0 L1337.2,345.0 L1339.6,343.2 L1342.0,341.4 L1344.5,339.7 L1347.0,338.1 L1349.6,336.5 L1352.1,335.0 L1354.7,333.4 L1357.3,331.8 L1359.8,330.3 L1362.4,328.7 L1364.9,327.1 L1367.5,325.6 L1370.1,324.1 L1372.7,322.4 L1375.3,320.6 L1378.0,319.2 L1380.8,318.7 L1383.7,318.8 L1386.7,319.1 L1389.8,319.4 L1392.8,319.7 L1395.8,320.0 L1398.7,320.3 L1401.7,320.7 L1404.6,321.4 L1407.5,322.2 L1410.4,323.1 L1413.3,323.8 L1416.2,324.4 L1419.2,324.8 L1422.2,325.2 L1425.2,325.5 L1428.2,325.9 L1431.1,326.2 L1434.1,326.5 L1437.1,326.9 L1440.0,327.4 L1442.9,328.1 L1445.8,329.1 L1448.7,330.0 L1451.6,330.8 L1454.5,331.4 L1457.4,332.0 L1460.4,332.5 L1463.4,332.9 L1466.4,333.3 L1469.4,333.5 L1472.4,333.5 L1475.4,333.3 L1478.3,333.2 L1481.4,333.0 L1484.3,332.9 L1487.4,332.9 L1490.4,333.0 L1493.4,333.1 L1496.4,333.1 L1499.3,332.9 L1502.1,332.1 L1505.0,331.0 L1507.7,329.7 L1510.5,328.3 L1513.2,327.0 L1516.0,325.7 L1518.7,324.3 L1521.4,322.9 L1524.0,321.3 L1526.4,319.6 L1528.5,317.7 L1530.4,315.4 L1532.3,313.0 L1534.1,310.5 L1536.1,308.3 L1538.2,306.1 L1540.4,304.0 L1542.6,302.0 L1544.9,300.1 L1547.3,298.3 L1549.8,296.7 L1552.4,295.1 L1555.0,293.6 L1557.6,292.1 L1560.2,290.6 L1562.8,289.0 L1565.2,287.3 L1567.5,285.4 L1569.7,283.3 L1571.8,281.1 L1573.9,278.9 L1576.0,276.7 L1578.2,274.7 L1580.6,272.9 L1583.1,271.5 L1585.8,270.2 L1588.6,269.1 L1591.4,267.9 L1594.1,266.6 L1596.8,265.2 L1599.5,263.9 L1602.1,262.3 L1604.8,260.6 L1607.5,259.6 L1610.3,259.8 L1613.3,260.6 L1616.3,261.1 L1619.3,260.9 L1622.3,260.6 L1625.3,260.4 L1628.3,260.3 L1631.3,260.2 L1634.3,260.1 L1637.2,260.2 L1640.0,261.2 L1642.9,262.6 L1645.7,263.7 L1648.6,263.9 L1651.6,263.9 L1654.6,263.9 L1657.6,263.9 L1660.6,264.2 L1663.6,264.8 L1666.5,265.1 L1669.5,264.6 L1672.4,263.6 L1675.2,262.6 L1678.1,261.7 L1680.9,260.6 L1683.5,259.3 L1685.9,257.4 L1688.2,255.4 L1690.5,253.5 L1693.1,252.1 L1695.9,251.1 L1698.8,250.1 L1701.6,249.2 L1704.5,248.1 L1707.4,247.1 L1709.6,245.5 L1711.4,243.2 L1713.1,240.5 L1714.9,238.0 L1716.9,235.7 L1719.1,233.5 L1721.4,231.9 L1724.2,230.8 L1727.1,229.8 L1730.0,228.9 L1732.8,227.9 L1735.7,227.1 L1738.6,226.3 L1741.6,225.7 L1744.7,225.4 L1747.8,225.1 L1750.7,224.7 L1753.2,224.0 L1755.2,221.7 L1757.0,219.0 L1759.3,217.1 L1762.0,215.8 L1764.9,214.9 L1767.8,214.1 L1770.7,213.5 L1773.7,213.0 L1776.7,212.5 L1779.7,212.2 L1782.7,211.9 L1785.7,211.8 L1788.9,211.7 L1791.8,211.6 L1794.5,211.3 L1797.0,210.1 L1799.4,208.0 L1801.7,205.6 L1803.8,203.3 L1805.7,201.1 L1807.6,198.7 L1809.3,196.2 L1811.2,193.8 L1812.9,190.9 L1814.7,188.0 L1816.8,186.7 L1819.5,186.8 L1822.8,187.0 L1826.0,187.2 L1828.8,187.3 L1830.7,186.4 L1832.4,184.0 L1833.9,180.8 L1835.5,177.6 L1837.4,175.2 L1839.4,173.0 L1841.6,170.9 L1843.7,168.7 L1845.6,166.4 L1847.2,163.4 L1848.7,160.2 L1850.2,157.3 L1852.0,155.5 L1854.3,155.1 L1857.2,154.9 L1860.5,154.8 L1863.5,154.8 L1866.5,156.3 L1869.1,158.0 L1871.0,157.8 L1872.4,155.7 L1873.6,152.4 L1874.8,148.9 L1876.2,145.9 L1877.6,142.8 L1879.0,139.5 L1880.6,136.7 L1882.5,135.2 L1885.3,135.1 L1888.8,135.1 L1890.5,134.9 L1891.2,132.8 L1891.7,129.3 L1892.1,125.3 L1892.7,122.0 L1894.2,120.0 L1897.1,118.5 L1900.4,117.2 L1902.8,115.6 L1903.6,113.4 L1904.1,110.4 L1904.5,107.2 L1905.1,104.1 L1905.8,101.2 L1906.8,98.3 L1907.8,95.5" fill="none" stroke="#b22222" stroke-width="5.55" stroke-dasharray="35.52 8.88 5.55 8.88" stroke-dashoffset="22.5"/>
<path d="M264.5,305.3V463.8" stroke="#b22222" stroke-width="5.4" fill="none"/>
<path d="M253.5,305.3h22M253.5,463.8h22" stroke="#b22222" stroke-width="2.9" fill="none"/>
<circle cx="264.5" cy="384.7" r="6.9" fill="#b22222"/>
<path d="M525.6,364.4V449.8" stroke="#b22222" stroke-width="5.4" fill="none"/>
<path d="M514.6,364.4h22M514.6,449.8h22" stroke="#b22222" stroke-width="2.9" fill="none"/>
<circle cx="525.6" cy="407.3" r="6.9" fill="#b22222"/>
<path d="M719.2,369.6V426.5" stroke="#b22222" stroke-width="5.4" fill="none"/>
<path d="M708.2,369.6h22M708.2,426.5h22" stroke="#b22222" stroke-width="2.9" fill="none"/>
<circle cx="719.2" cy="398.7" r="6.9" fill="#b22222"/>
<path d="M878.9,477.0V511.5" stroke="#b22222" stroke-width="5.4" fill="none"/>
<path d="M867.9,477.0h22M867.9,511.5h22" stroke="#b22222" stroke-width="2.9" fill="none"/>
<circle cx="878.9" cy="495.1" r="6.9" fill="#b22222"/>
<path d="M1014.2,563.6V588.5" stroke="#b22222" stroke-width="5.4" fill="none"/>
<path d="M1003.2,563.6h22M1003.2,588.5h22" stroke="#b22222" stroke-width="2.9" fill="none"/>
<circle cx="1014.2" cy="576.1" r="6.9" fill="#b22222"/>
<path d="M1131.8,632.4V651.7" stroke="#b22222" stroke-width="5.4" fill="none"/>
<path d="M1120.8,632.4h22M1120.8,651.7h22" stroke="#b22222" stroke-width="2.9" fill="none"/>
<circle cx="1131.8" cy="642.2" r="6.9" fill="#b22222"/>
<path d="M1235.9,677.2V694.3" stroke="#b22222" stroke-width="5.4" fill="none"/>
<path d="M1224.9,677.2h22M1224.9,694.3h22" stroke="#b22222" stroke-width="2.9" fill="none"/>
<circle cx="1235.9" cy="685.6" r="6.9" fill="#b22222"/>
<path d="M1328.4,702.7V720.1" stroke="#b22222" stroke-width="5.4" fill="none"/>
<path d="M1317.4,702.7h22M1317.4,720.1h22" stroke="#b22222" stroke-width="2.9" fill="none"/>
<circle cx="1328.4" cy="711.7" r="6.9" fill="#b22222"/>
<path d="M1412.0,736.3V750.2" stroke="#b22222" stroke-width="5.4" fill="none"/>
<path d="M1401.0,736.3h22M1401.0,750.2h22" stroke="#b22222" stroke-width="2.9" fill="none"/>
<circle cx="1412.0" cy="743.3" r="6.9" fill="#b22222"/>
<path d="M1489.1,743.1V754.6" stroke="#b22222" stroke-width="5.4" fill="none"/>
<path d="M1478.1,743.1h22M1478.1,754.6h22" stroke="#b22222" stroke-width="2.9" fill="none"/>
<circle cx="1489.1" cy="748.8" r="6.9" fill="#b22222"/>
<path d="M1559.0,772.8V782.4" stroke="#b22222" stroke-width="5.4" fill="none"/>
<path d="M1548.0,772.8h22M1548.0,782.4h22" stroke="#b22222" stroke-width="2.9" fill="none"/>
<circle cx="1559.0" cy="777.7" r="6.9" fill="#b22222"/>
<path d="M1623.8,789.8V799.3" stroke="#b22222" stroke-width="5.4" fill="none"/>
<path d="M1612.8,789.8h22M1612.8,799.3h22" stroke="#b22222" stroke-width="2.9" fill="none"/>
<circle cx="1623.8" cy="794.5" r="6.9" fill="#b22222"/>
<path d="M1684.8,791.3V799.3" stroke="#b22222" stroke-width="5.4" fill="none"/>
<path d="M1673.8,791.3h22M1673.8,799.3h22" stroke="#b22222" stroke-width="2.9" fill="none"/>
<circle cx="1684.8" cy="795.2" r="6.9" fill="#b22222"/>
<path d="M1749.5,793.2V800.3" stroke="#b22222" stroke-width="5.4" fill="none"/>
<path d="M1738.5,793.2h22M1738.5,800.3h22" stroke="#b22222" stroke-width="2.9" fill="none"/>
<circle cx="1749.5" cy="796.9" r="6.9" fill="#b22222"/>
<path d="M1813.0,802.8V809.8" stroke="#b22222" stroke-width="5.4" fill="none"/>
<path d="M1802.0,802.8h22M1802.0,809.8h22" stroke="#b22222" stroke-width="2.9" fill="none"/>
<circle cx="1813.0" cy="806.1" r="6.9" fill="#b22222"/>
<path d="M1867.0,804.1V811.3" stroke="#b22222" stroke-width="5.4" fill="none"/>
<path d="M1856.0,804.1h22M1856.0,811.3h22" stroke="#b22222" stroke-width="2.9" fill="none"/>
<circle cx="1867.0" cy="807.6" r="6.9" fill="#b22222"/>
<path d="M1914.0,814.3V820.7" stroke="#b22222" stroke-width="5.4" fill="none"/>
<path d="M1903.0,814.3h22M1903.0,820.7h22" stroke="#b22222" stroke-width="2.9" fill="none"/>
<circle cx="1914.0" cy="817.8" r="6.9" fill="#b22222"/>
<path d="M1969.8,810.6V820.4" stroke="#b22222" stroke-width="5.4" fill="none"/>
<path d="M1958.8,810.6h22M1958.8,820.4h22" stroke="#b22222" stroke-width="2.9" fill="none"/>
<circle cx="1969.8" cy="815.5" r="6.9" fill="#b22222"/>
<text x="1665.6" y="651.6" font-size="33.33" fill="#808080">Extended</text>
</g>
<rect x="151.0" y="118.6" width="1335.4" height="158.2" rx="5.5" ry="5.5" fill="#fff" fill-opacity="0.8" stroke="#ccc" stroke-opacity="0.8" stroke-width="2.8"/>
<path d="M164.8,146.1h66.67" stroke="#000" stroke-width="5.55" stroke-linecap="square" fill="none"/>
<path d="M164.5,195.7h66.67" stroke="#0000ff" stroke-opacity="0.4" stroke-width="5.55" stroke-dasharray="5.55 9.16" fill="none"/>
<path d="M164.5,244.4h66.67" stroke="#0000ff" stroke-opacity="0.4" stroke-width="5.55" stroke-dasharray="20.54 8.88" fill="none"/>
<text x="258.2" y="158.0" font-size="33.33">Planck CMB aniso. ΛCDM prediction</text>
<text x="258.2" y="207.0" font-size="33.33">Planck PR3 per-mode noise</text>
<text x="258.2" y="256.0" font-size="33.33">Planck NPIPE per-mode noise</text>
<path d="M915.1,146.1h66.67" stroke="#b22222" stroke-width="5.55" stroke-dasharray="35.52 8.88 5.55 8.88" fill="none"/>
<path d="M948.3,178.4V211.4" stroke="#b22222" stroke-width="5.4" fill="none"/>
<path d="M937.3,178.4h22M937.3,211.4h22" stroke="#b22222" stroke-width="2.9" fill="none"/>
<circle cx="948.3" cy="195.20000000000002" r="6.9" fill="#b22222"/>
<text x="1008.1" y="158.0" font-size="33.33" font-weight="bold">ACT DR6 per-mode noise</text>
<text x="1008.1" y="207.0" font-size="33.33" font-weight="bold">ACT DR6 data</text>
<rect x="134.6" y="101.8" width="1857.9" height="738.6" fill="none" stroke="#000" stroke-width="2.9" stroke-linejoin="miter"/>
<path d="M134.6,840.4v13.8" stroke="#000" stroke-width="2.6"/>
<text x="107.0" y="889.0" font-size="33.33">10<tspan dy="-12.8" font-size="23.33">1</tspan></text>
<path d="M942.0,840.4v13.8" stroke="#000" stroke-width="2.6"/>
<text x="914.4" y="889.0" font-size="33.33">10<tspan dy="-12.8" font-size="23.33">2</tspan></text>
<path d="M1749.4,840.4v13.8" stroke="#000" stroke-width="2.6"/>
<text x="1721.8" y="889.0" font-size="33.33">10<tspan dy="-12.8" font-size="23.33">3</tspan></text>
<path d="M377.7,840.4v7.7M519.8,840.4v7.7M620.7,840.4v7.7M699.0,840.4v7.7M762.9,840.4v7.7M816.9,840.4v7.7M863.8,840.4v7.7M905.1,840.4v7.7M1185.1,840.4v7.7M1327.3,840.4v7.7M1428.1,840.4v7.7M1506.4,840.4v7.7M1570.3,840.4v7.7M1624.4,840.4v7.7M1671.2,840.4v7.7M1712.5,840.4v7.7M1992.5,840.4v7.7" stroke="#000" stroke-width="1.7"/>
<path d="M720.9,101.8v-13.8" stroke="#000" stroke-width="2.6"/>
<text x="683.5" y="71.4" font-size="33.33">10<tspan dy="-13.1" font-size="23.33">−2</tspan></text>
<path d="M1528.3,101.8v-13.8" stroke="#000" stroke-width="2.6"/>
<text x="1490.9" y="71.4" font-size="33.33">10<tspan dy="-13.1" font-size="23.33">−1</tspan></text>
<path d="M156.5,101.8v-7.7M298.7,101.8v-7.7M399.6,101.8v-7.7M477.8,101.8v-7.7M541.8,101.8v-7.7M595.8,101.8v-7.7M642.7,101.8v-7.7M684.0,101.8v-7.7M964.0,101.8v-7.7M1106.1,101.8v-7.7M1207.0,101.8v-7.7M1285.3,101.8v-7.7M1349.2,101.8v-7.7M1403.2,101.8v-7.7M1450.1,101.8v-7.7M1491.4,101.8v-7.7M1771.4,101.8v-7.7M1913.6,101.8v-7.7" stroke="#000" stroke-width="1.7"/>
<path d="M134.6,822.3h-13.8" stroke="#000" stroke-width="2.6"/>
<text x="110.9" y="835.0" font-size="33.33" text-anchor="end">0.0</text>
<path d="M134.6,732.2h-13.8" stroke="#000" stroke-width="2.6"/>
<text x="110.9" y="744.9" font-size="33.33" text-anchor="end">0.5</text>
<path d="M134.6,642.2h-13.8" stroke="#000" stroke-width="2.6"/>
<text x="110.9" y="654.9" font-size="33.33" text-anchor="end">1.0</text>
<path d="M134.6,552.1h-13.8" stroke="#000" stroke-width="2.6"/>
<text x="110.9" y="564.8" font-size="33.33" text-anchor="end">1.5</text>
<path d="M134.6,462.0h-13.8" stroke="#000" stroke-width="2.6"/>
<text x="110.9" y="474.7" font-size="33.33" text-anchor="end">2.0</text>
<path d="M134.6,372.0h-13.8" stroke="#000" stroke-width="2.6"/>
<text x="110.9" y="384.7" font-size="33.33" text-anchor="end">2.5</text>
<path d="M134.6,281.9h-13.8" stroke="#000" stroke-width="2.6"/>
<text x="110.9" y="294.6" font-size="33.33" text-anchor="end">3.0</text>
<path d="M134.6,191.9h-13.8" stroke="#000" stroke-width="2.6"/>
<text x="110.9" y="204.6" font-size="33.33" text-anchor="end">3.5</text>
<path d="M134.6,101.8h-13.8" stroke="#000" stroke-width="2.6"/>
<text x="110.9" y="114.5" font-size="33.33" text-anchor="end">4.0</text>
<text x="958.5" y="938.6" font-size="38.89">Multipole <tspan font-style="italic">L</tspan></text>
<text font-size="38.89"><tspan x="939.7" y="34.9" font-style="italic">k</tspan><tspan x="961.9" y="40.4" font-size="27.22" font-style="italic">z</tspan><tspan x="981.0" y="40.4" font-size="27.22">=</tspan><tspan x="1008.7" y="40.4" font-size="27.22">2 </tspan><tspan x="1039.6" y="34.9">[Mpc</tspan><tspan x="1135.2" y="19.6" font-size="27.22">−1</tspan><tspan x="1176.3" y="34.9">]</tspan></text>
<text transform="rotate(-90)" font-size="38.89"><tspan x="-683.6" y="35.0">Lensing power 10</tspan><tspan x="-339.4" y="20.0" font-size="27.22">7</tspan><tspan x="-321.1" y="35.0" font-style="italic">C</tspan><tspan x="-293.6" y="45.8" font-size="27.22" font-style="italic">L</tspan><tspan x="-291.0" y="20.0" font-size="27.22" font-style="italic">κκ</tspan></text>
</svg>
</body></html>
